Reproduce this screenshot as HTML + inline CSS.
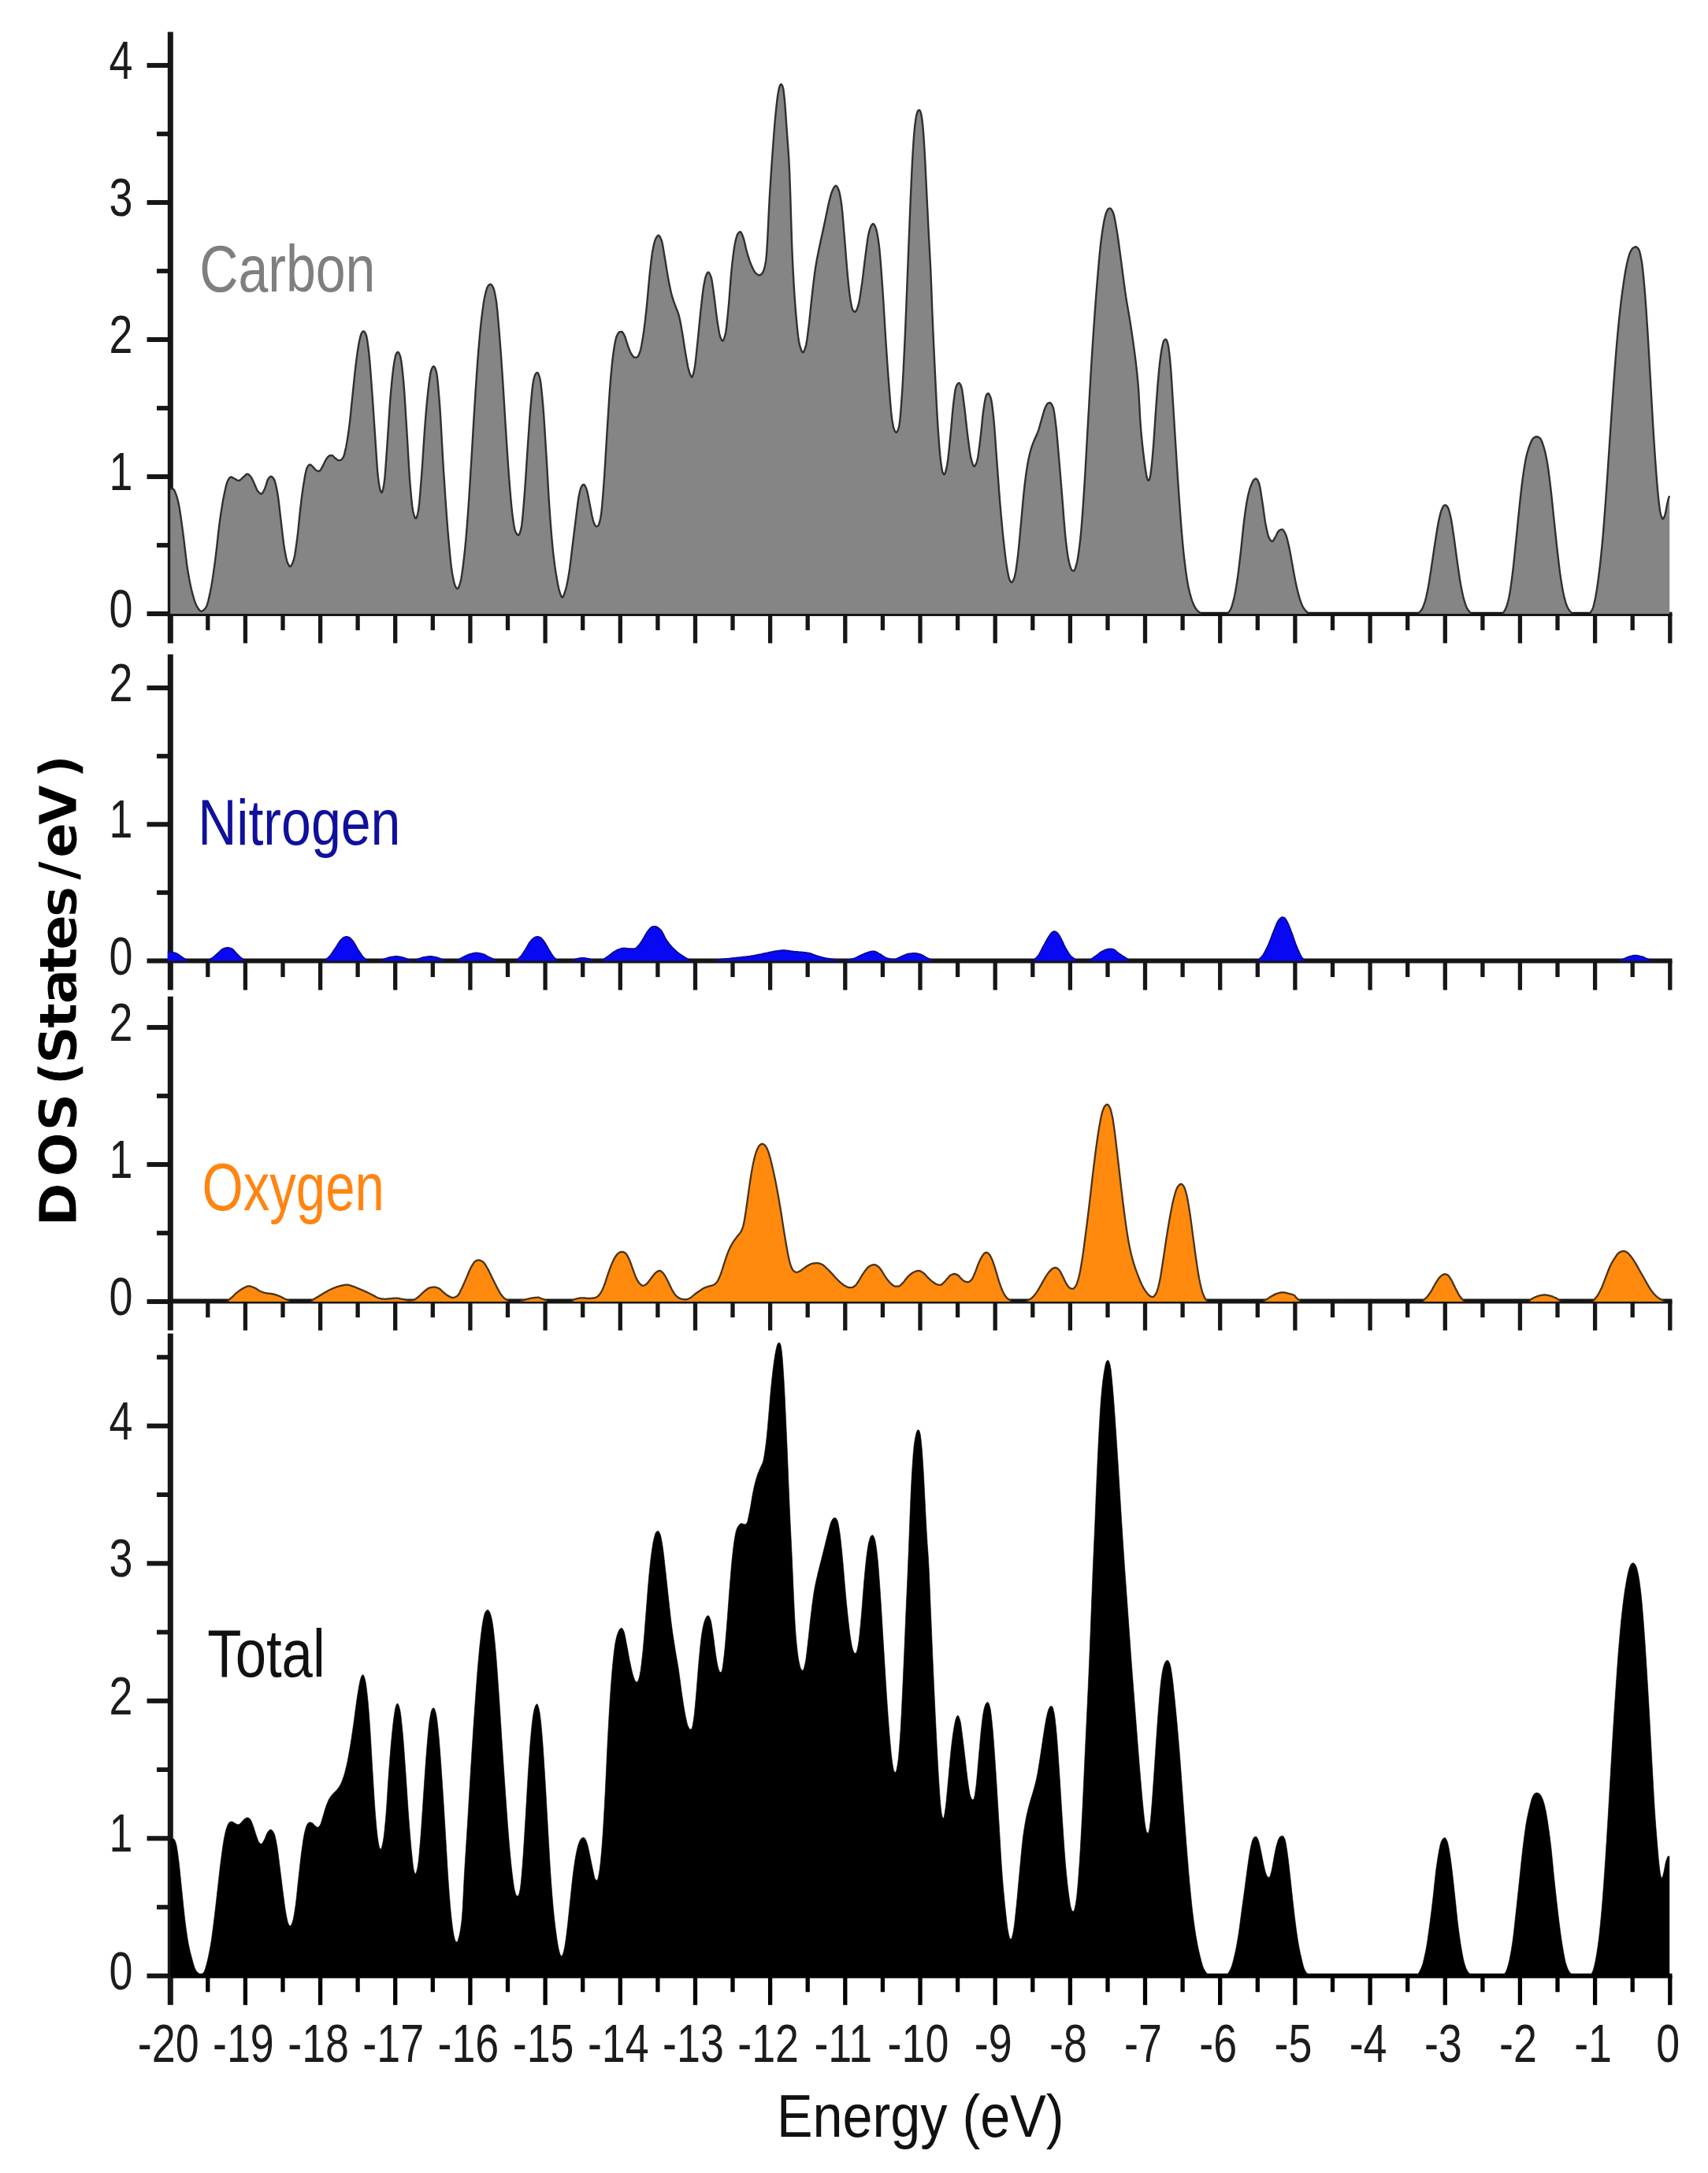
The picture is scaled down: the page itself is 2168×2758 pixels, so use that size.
<!DOCTYPE html>
<html><head><meta charset="utf-8"><title>DOS</title>
<style>html,body{margin:0;padding:0;background:#fff;width:2168px;height:2758px;overflow:hidden}svg{display:block}</style></head>
<body>
<svg width="2168" height="2758" viewBox="0 0 2168 2758">
<rect width="2168" height="2758" fill="#ffffff"/>
<line x1="216.3" y1="40.6" x2="216.3" y2="816.4" stroke="#161616" stroke-width="7.0"/>
<line x1="216.3" y1="779.4" x2="2122.5" y2="779.4" stroke="#161616" stroke-width="5.4"/>
<line x1="263.8" y1="779.4" x2="263.8" y2="799.9" stroke="#161616" stroke-width="5.3"/>
<line x1="311.4" y1="779.4" x2="311.4" y2="816.4" stroke="#161616" stroke-width="5.3"/>
<line x1="359.0" y1="779.4" x2="359.0" y2="799.9" stroke="#161616" stroke-width="5.3"/>
<line x1="406.6" y1="779.4" x2="406.6" y2="816.4" stroke="#161616" stroke-width="5.3"/>
<line x1="454.1" y1="779.4" x2="454.1" y2="799.9" stroke="#161616" stroke-width="5.3"/>
<line x1="501.7" y1="779.4" x2="501.7" y2="816.4" stroke="#161616" stroke-width="5.3"/>
<line x1="549.3" y1="779.4" x2="549.3" y2="799.9" stroke="#161616" stroke-width="5.3"/>
<line x1="596.9" y1="779.4" x2="596.9" y2="816.4" stroke="#161616" stroke-width="5.3"/>
<line x1="644.5" y1="779.4" x2="644.5" y2="799.9" stroke="#161616" stroke-width="5.3"/>
<line x1="692.1" y1="779.4" x2="692.1" y2="816.4" stroke="#161616" stroke-width="5.3"/>
<line x1="739.7" y1="779.4" x2="739.7" y2="799.9" stroke="#161616" stroke-width="5.3"/>
<line x1="787.3" y1="779.4" x2="787.3" y2="816.4" stroke="#161616" stroke-width="5.3"/>
<line x1="834.9" y1="779.4" x2="834.9" y2="799.9" stroke="#161616" stroke-width="5.3"/>
<line x1="882.5" y1="779.4" x2="882.5" y2="816.4" stroke="#161616" stroke-width="5.3"/>
<line x1="930.0" y1="779.4" x2="930.0" y2="799.9" stroke="#161616" stroke-width="5.3"/>
<line x1="977.6" y1="779.4" x2="977.6" y2="816.4" stroke="#161616" stroke-width="5.3"/>
<line x1="1025.2" y1="779.4" x2="1025.2" y2="799.9" stroke="#161616" stroke-width="5.3"/>
<line x1="1072.8" y1="779.4" x2="1072.8" y2="816.4" stroke="#161616" stroke-width="5.3"/>
<line x1="1120.4" y1="779.4" x2="1120.4" y2="799.9" stroke="#161616" stroke-width="5.3"/>
<line x1="1168.0" y1="779.4" x2="1168.0" y2="816.4" stroke="#161616" stroke-width="5.3"/>
<line x1="1215.6" y1="779.4" x2="1215.6" y2="799.9" stroke="#161616" stroke-width="5.3"/>
<line x1="1263.2" y1="779.4" x2="1263.2" y2="816.4" stroke="#161616" stroke-width="5.3"/>
<line x1="1310.8" y1="779.4" x2="1310.8" y2="799.9" stroke="#161616" stroke-width="5.3"/>
<line x1="1358.4" y1="779.4" x2="1358.4" y2="816.4" stroke="#161616" stroke-width="5.3"/>
<line x1="1406.0" y1="779.4" x2="1406.0" y2="799.9" stroke="#161616" stroke-width="5.3"/>
<line x1="1453.5" y1="779.4" x2="1453.5" y2="816.4" stroke="#161616" stroke-width="5.3"/>
<line x1="1501.1" y1="779.4" x2="1501.1" y2="799.9" stroke="#161616" stroke-width="5.3"/>
<line x1="1548.7" y1="779.4" x2="1548.7" y2="816.4" stroke="#161616" stroke-width="5.3"/>
<line x1="1596.3" y1="779.4" x2="1596.3" y2="799.9" stroke="#161616" stroke-width="5.3"/>
<line x1="1643.9" y1="779.4" x2="1643.9" y2="816.4" stroke="#161616" stroke-width="5.3"/>
<line x1="1691.5" y1="779.4" x2="1691.5" y2="799.9" stroke="#161616" stroke-width="5.3"/>
<line x1="1739.1" y1="779.4" x2="1739.1" y2="816.4" stroke="#161616" stroke-width="5.3"/>
<line x1="1786.7" y1="779.4" x2="1786.7" y2="799.9" stroke="#161616" stroke-width="5.3"/>
<line x1="1834.3" y1="779.4" x2="1834.3" y2="816.4" stroke="#161616" stroke-width="5.3"/>
<line x1="1881.9" y1="779.4" x2="1881.9" y2="799.9" stroke="#161616" stroke-width="5.3"/>
<line x1="1929.4" y1="779.4" x2="1929.4" y2="816.4" stroke="#161616" stroke-width="5.3"/>
<line x1="1977.0" y1="779.4" x2="1977.0" y2="799.9" stroke="#161616" stroke-width="5.3"/>
<line x1="2024.6" y1="779.4" x2="2024.6" y2="816.4" stroke="#161616" stroke-width="5.3"/>
<line x1="2072.2" y1="779.4" x2="2072.2" y2="799.9" stroke="#161616" stroke-width="5.3"/>
<line x1="2119.8" y1="779.4" x2="2119.8" y2="816.4" stroke="#161616" stroke-width="5.3"/>
<line x1="186.5" y1="779.0" x2="216.3" y2="779.0" stroke="#161616" stroke-width="6.1"/>
<line x1="199.0" y1="692.0" x2="216.3" y2="692.0" stroke="#161616" stroke-width="5.8"/>
<line x1="186.5" y1="605.0" x2="216.3" y2="605.0" stroke="#161616" stroke-width="6.1"/>
<line x1="199.0" y1="518.0" x2="216.3" y2="518.0" stroke="#161616" stroke-width="5.8"/>
<line x1="186.5" y1="431.0" x2="216.3" y2="431.0" stroke="#161616" stroke-width="6.1"/>
<line x1="199.0" y1="344.0" x2="216.3" y2="344.0" stroke="#161616" stroke-width="5.8"/>
<line x1="186.5" y1="257.0" x2="216.3" y2="257.0" stroke="#161616" stroke-width="6.1"/>
<line x1="199.0" y1="170.0" x2="216.3" y2="170.0" stroke="#161616" stroke-width="5.8"/>
<line x1="186.5" y1="83.0" x2="216.3" y2="83.0" stroke="#161616" stroke-width="6.1"/>
<line x1="216.3" y1="830.4" x2="216.3" y2="1256.6" stroke="#161616" stroke-width="7.0"/>
<line x1="216.3" y1="1219.6" x2="2122.5" y2="1219.6" stroke="#161616" stroke-width="6.0"/>
<line x1="263.8" y1="1219.6" x2="263.8" y2="1240.1" stroke="#161616" stroke-width="5.3"/>
<line x1="311.4" y1="1219.6" x2="311.4" y2="1256.6" stroke="#161616" stroke-width="5.3"/>
<line x1="359.0" y1="1219.6" x2="359.0" y2="1240.1" stroke="#161616" stroke-width="5.3"/>
<line x1="406.6" y1="1219.6" x2="406.6" y2="1256.6" stroke="#161616" stroke-width="5.3"/>
<line x1="454.1" y1="1219.6" x2="454.1" y2="1240.1" stroke="#161616" stroke-width="5.3"/>
<line x1="501.7" y1="1219.6" x2="501.7" y2="1256.6" stroke="#161616" stroke-width="5.3"/>
<line x1="549.3" y1="1219.6" x2="549.3" y2="1240.1" stroke="#161616" stroke-width="5.3"/>
<line x1="596.9" y1="1219.6" x2="596.9" y2="1256.6" stroke="#161616" stroke-width="5.3"/>
<line x1="644.5" y1="1219.6" x2="644.5" y2="1240.1" stroke="#161616" stroke-width="5.3"/>
<line x1="692.1" y1="1219.6" x2="692.1" y2="1256.6" stroke="#161616" stroke-width="5.3"/>
<line x1="739.7" y1="1219.6" x2="739.7" y2="1240.1" stroke="#161616" stroke-width="5.3"/>
<line x1="787.3" y1="1219.6" x2="787.3" y2="1256.6" stroke="#161616" stroke-width="5.3"/>
<line x1="834.9" y1="1219.6" x2="834.9" y2="1240.1" stroke="#161616" stroke-width="5.3"/>
<line x1="882.5" y1="1219.6" x2="882.5" y2="1256.6" stroke="#161616" stroke-width="5.3"/>
<line x1="930.0" y1="1219.6" x2="930.0" y2="1240.1" stroke="#161616" stroke-width="5.3"/>
<line x1="977.6" y1="1219.6" x2="977.6" y2="1256.6" stroke="#161616" stroke-width="5.3"/>
<line x1="1025.2" y1="1219.6" x2="1025.2" y2="1240.1" stroke="#161616" stroke-width="5.3"/>
<line x1="1072.8" y1="1219.6" x2="1072.8" y2="1256.6" stroke="#161616" stroke-width="5.3"/>
<line x1="1120.4" y1="1219.6" x2="1120.4" y2="1240.1" stroke="#161616" stroke-width="5.3"/>
<line x1="1168.0" y1="1219.6" x2="1168.0" y2="1256.6" stroke="#161616" stroke-width="5.3"/>
<line x1="1215.6" y1="1219.6" x2="1215.6" y2="1240.1" stroke="#161616" stroke-width="5.3"/>
<line x1="1263.2" y1="1219.6" x2="1263.2" y2="1256.6" stroke="#161616" stroke-width="5.3"/>
<line x1="1310.8" y1="1219.6" x2="1310.8" y2="1240.1" stroke="#161616" stroke-width="5.3"/>
<line x1="1358.4" y1="1219.6" x2="1358.4" y2="1256.6" stroke="#161616" stroke-width="5.3"/>
<line x1="1406.0" y1="1219.6" x2="1406.0" y2="1240.1" stroke="#161616" stroke-width="5.3"/>
<line x1="1453.5" y1="1219.6" x2="1453.5" y2="1256.6" stroke="#161616" stroke-width="5.3"/>
<line x1="1501.1" y1="1219.6" x2="1501.1" y2="1240.1" stroke="#161616" stroke-width="5.3"/>
<line x1="1548.7" y1="1219.6" x2="1548.7" y2="1256.6" stroke="#161616" stroke-width="5.3"/>
<line x1="1596.3" y1="1219.6" x2="1596.3" y2="1240.1" stroke="#161616" stroke-width="5.3"/>
<line x1="1643.9" y1="1219.6" x2="1643.9" y2="1256.6" stroke="#161616" stroke-width="5.3"/>
<line x1="1691.5" y1="1219.6" x2="1691.5" y2="1240.1" stroke="#161616" stroke-width="5.3"/>
<line x1="1739.1" y1="1219.6" x2="1739.1" y2="1256.6" stroke="#161616" stroke-width="5.3"/>
<line x1="1786.7" y1="1219.6" x2="1786.7" y2="1240.1" stroke="#161616" stroke-width="5.3"/>
<line x1="1834.3" y1="1219.6" x2="1834.3" y2="1256.6" stroke="#161616" stroke-width="5.3"/>
<line x1="1881.9" y1="1219.6" x2="1881.9" y2="1240.1" stroke="#161616" stroke-width="5.3"/>
<line x1="1929.4" y1="1219.6" x2="1929.4" y2="1256.6" stroke="#161616" stroke-width="5.3"/>
<line x1="1977.0" y1="1219.6" x2="1977.0" y2="1240.1" stroke="#161616" stroke-width="5.3"/>
<line x1="2024.6" y1="1219.6" x2="2024.6" y2="1256.6" stroke="#161616" stroke-width="5.3"/>
<line x1="2072.2" y1="1219.6" x2="2072.2" y2="1240.1" stroke="#161616" stroke-width="5.3"/>
<line x1="2119.8" y1="1219.6" x2="2119.8" y2="1256.6" stroke="#161616" stroke-width="5.3"/>
<line x1="186.5" y1="1219.5" x2="216.3" y2="1219.5" stroke="#161616" stroke-width="6.1"/>
<line x1="199.0" y1="1132.9" x2="216.3" y2="1132.9" stroke="#161616" stroke-width="5.8"/>
<line x1="186.5" y1="1046.3" x2="216.3" y2="1046.3" stroke="#161616" stroke-width="6.1"/>
<line x1="199.0" y1="959.7" x2="216.3" y2="959.7" stroke="#161616" stroke-width="5.8"/>
<line x1="186.5" y1="873.1" x2="216.3" y2="873.1" stroke="#161616" stroke-width="6.1"/>
<line x1="216.3" y1="1264.7" x2="216.3" y2="1688.6" stroke="#161616" stroke-width="7.0"/>
<line x1="216.3" y1="1651.6" x2="2122.5" y2="1651.6" stroke="#161616" stroke-width="6.0"/>
<line x1="263.8" y1="1651.6" x2="263.8" y2="1672.1" stroke="#161616" stroke-width="5.3"/>
<line x1="311.4" y1="1651.6" x2="311.4" y2="1688.6" stroke="#161616" stroke-width="5.3"/>
<line x1="359.0" y1="1651.6" x2="359.0" y2="1672.1" stroke="#161616" stroke-width="5.3"/>
<line x1="406.6" y1="1651.6" x2="406.6" y2="1688.6" stroke="#161616" stroke-width="5.3"/>
<line x1="454.1" y1="1651.6" x2="454.1" y2="1672.1" stroke="#161616" stroke-width="5.3"/>
<line x1="501.7" y1="1651.6" x2="501.7" y2="1688.6" stroke="#161616" stroke-width="5.3"/>
<line x1="549.3" y1="1651.6" x2="549.3" y2="1672.1" stroke="#161616" stroke-width="5.3"/>
<line x1="596.9" y1="1651.6" x2="596.9" y2="1688.6" stroke="#161616" stroke-width="5.3"/>
<line x1="644.5" y1="1651.6" x2="644.5" y2="1672.1" stroke="#161616" stroke-width="5.3"/>
<line x1="692.1" y1="1651.6" x2="692.1" y2="1688.6" stroke="#161616" stroke-width="5.3"/>
<line x1="739.7" y1="1651.6" x2="739.7" y2="1672.1" stroke="#161616" stroke-width="5.3"/>
<line x1="787.3" y1="1651.6" x2="787.3" y2="1688.6" stroke="#161616" stroke-width="5.3"/>
<line x1="834.9" y1="1651.6" x2="834.9" y2="1672.1" stroke="#161616" stroke-width="5.3"/>
<line x1="882.5" y1="1651.6" x2="882.5" y2="1688.6" stroke="#161616" stroke-width="5.3"/>
<line x1="930.0" y1="1651.6" x2="930.0" y2="1672.1" stroke="#161616" stroke-width="5.3"/>
<line x1="977.6" y1="1651.6" x2="977.6" y2="1688.6" stroke="#161616" stroke-width="5.3"/>
<line x1="1025.2" y1="1651.6" x2="1025.2" y2="1672.1" stroke="#161616" stroke-width="5.3"/>
<line x1="1072.8" y1="1651.6" x2="1072.8" y2="1688.6" stroke="#161616" stroke-width="5.3"/>
<line x1="1120.4" y1="1651.6" x2="1120.4" y2="1672.1" stroke="#161616" stroke-width="5.3"/>
<line x1="1168.0" y1="1651.6" x2="1168.0" y2="1688.6" stroke="#161616" stroke-width="5.3"/>
<line x1="1215.6" y1="1651.6" x2="1215.6" y2="1672.1" stroke="#161616" stroke-width="5.3"/>
<line x1="1263.2" y1="1651.6" x2="1263.2" y2="1688.6" stroke="#161616" stroke-width="5.3"/>
<line x1="1310.8" y1="1651.6" x2="1310.8" y2="1672.1" stroke="#161616" stroke-width="5.3"/>
<line x1="1358.4" y1="1651.6" x2="1358.4" y2="1688.6" stroke="#161616" stroke-width="5.3"/>
<line x1="1406.0" y1="1651.6" x2="1406.0" y2="1672.1" stroke="#161616" stroke-width="5.3"/>
<line x1="1453.5" y1="1651.6" x2="1453.5" y2="1688.6" stroke="#161616" stroke-width="5.3"/>
<line x1="1501.1" y1="1651.6" x2="1501.1" y2="1672.1" stroke="#161616" stroke-width="5.3"/>
<line x1="1548.7" y1="1651.6" x2="1548.7" y2="1688.6" stroke="#161616" stroke-width="5.3"/>
<line x1="1596.3" y1="1651.6" x2="1596.3" y2="1672.1" stroke="#161616" stroke-width="5.3"/>
<line x1="1643.9" y1="1651.6" x2="1643.9" y2="1688.6" stroke="#161616" stroke-width="5.3"/>
<line x1="1691.5" y1="1651.6" x2="1691.5" y2="1672.1" stroke="#161616" stroke-width="5.3"/>
<line x1="1739.1" y1="1651.6" x2="1739.1" y2="1688.6" stroke="#161616" stroke-width="5.3"/>
<line x1="1786.7" y1="1651.6" x2="1786.7" y2="1672.1" stroke="#161616" stroke-width="5.3"/>
<line x1="1834.3" y1="1651.6" x2="1834.3" y2="1688.6" stroke="#161616" stroke-width="5.3"/>
<line x1="1881.9" y1="1651.6" x2="1881.9" y2="1672.1" stroke="#161616" stroke-width="5.3"/>
<line x1="1929.4" y1="1651.6" x2="1929.4" y2="1688.6" stroke="#161616" stroke-width="5.3"/>
<line x1="1977.0" y1="1651.6" x2="1977.0" y2="1672.1" stroke="#161616" stroke-width="5.3"/>
<line x1="2024.6" y1="1651.6" x2="2024.6" y2="1688.6" stroke="#161616" stroke-width="5.3"/>
<line x1="2072.2" y1="1651.6" x2="2072.2" y2="1672.1" stroke="#161616" stroke-width="5.3"/>
<line x1="2119.8" y1="1651.6" x2="2119.8" y2="1688.6" stroke="#161616" stroke-width="5.3"/>
<line x1="186.5" y1="1652.0" x2="216.3" y2="1652.0" stroke="#161616" stroke-width="6.1"/>
<line x1="199.0" y1="1565.0" x2="216.3" y2="1565.0" stroke="#161616" stroke-width="5.8"/>
<line x1="186.5" y1="1478.0" x2="216.3" y2="1478.0" stroke="#161616" stroke-width="6.1"/>
<line x1="199.0" y1="1391.0" x2="216.3" y2="1391.0" stroke="#161616" stroke-width="5.8"/>
<line x1="186.5" y1="1304.0" x2="216.3" y2="1304.0" stroke="#161616" stroke-width="6.1"/>
<line x1="216.3" y1="1692.5" x2="216.3" y2="2544.8" stroke="#161616" stroke-width="7.0"/>
<line x1="216.3" y1="2507.8" x2="2122.5" y2="2507.8" stroke="#000" stroke-width="6.0"/>
<line x1="263.8" y1="2507.8" x2="263.8" y2="2528.3" stroke="#000" stroke-width="5.3"/>
<line x1="311.4" y1="2507.8" x2="311.4" y2="2544.8" stroke="#000" stroke-width="5.3"/>
<line x1="359.0" y1="2507.8" x2="359.0" y2="2528.3" stroke="#000" stroke-width="5.3"/>
<line x1="406.6" y1="2507.8" x2="406.6" y2="2544.8" stroke="#000" stroke-width="5.3"/>
<line x1="454.1" y1="2507.8" x2="454.1" y2="2528.3" stroke="#000" stroke-width="5.3"/>
<line x1="501.7" y1="2507.8" x2="501.7" y2="2544.8" stroke="#000" stroke-width="5.3"/>
<line x1="549.3" y1="2507.8" x2="549.3" y2="2528.3" stroke="#000" stroke-width="5.3"/>
<line x1="596.9" y1="2507.8" x2="596.9" y2="2544.8" stroke="#000" stroke-width="5.3"/>
<line x1="644.5" y1="2507.8" x2="644.5" y2="2528.3" stroke="#000" stroke-width="5.3"/>
<line x1="692.1" y1="2507.8" x2="692.1" y2="2544.8" stroke="#000" stroke-width="5.3"/>
<line x1="739.7" y1="2507.8" x2="739.7" y2="2528.3" stroke="#000" stroke-width="5.3"/>
<line x1="787.3" y1="2507.8" x2="787.3" y2="2544.8" stroke="#000" stroke-width="5.3"/>
<line x1="834.9" y1="2507.8" x2="834.9" y2="2528.3" stroke="#000" stroke-width="5.3"/>
<line x1="882.5" y1="2507.8" x2="882.5" y2="2544.8" stroke="#000" stroke-width="5.3"/>
<line x1="930.0" y1="2507.8" x2="930.0" y2="2528.3" stroke="#000" stroke-width="5.3"/>
<line x1="977.6" y1="2507.8" x2="977.6" y2="2544.8" stroke="#000" stroke-width="5.3"/>
<line x1="1025.2" y1="2507.8" x2="1025.2" y2="2528.3" stroke="#000" stroke-width="5.3"/>
<line x1="1072.8" y1="2507.8" x2="1072.8" y2="2544.8" stroke="#000" stroke-width="5.3"/>
<line x1="1120.4" y1="2507.8" x2="1120.4" y2="2528.3" stroke="#000" stroke-width="5.3"/>
<line x1="1168.0" y1="2507.8" x2="1168.0" y2="2544.8" stroke="#000" stroke-width="5.3"/>
<line x1="1215.6" y1="2507.8" x2="1215.6" y2="2528.3" stroke="#000" stroke-width="5.3"/>
<line x1="1263.2" y1="2507.8" x2="1263.2" y2="2544.8" stroke="#000" stroke-width="5.3"/>
<line x1="1310.8" y1="2507.8" x2="1310.8" y2="2528.3" stroke="#000" stroke-width="5.3"/>
<line x1="1358.4" y1="2507.8" x2="1358.4" y2="2544.8" stroke="#000" stroke-width="5.3"/>
<line x1="1406.0" y1="2507.8" x2="1406.0" y2="2528.3" stroke="#000" stroke-width="5.3"/>
<line x1="1453.5" y1="2507.8" x2="1453.5" y2="2544.8" stroke="#000" stroke-width="5.3"/>
<line x1="1501.1" y1="2507.8" x2="1501.1" y2="2528.3" stroke="#000" stroke-width="5.3"/>
<line x1="1548.7" y1="2507.8" x2="1548.7" y2="2544.8" stroke="#000" stroke-width="5.3"/>
<line x1="1596.3" y1="2507.8" x2="1596.3" y2="2528.3" stroke="#000" stroke-width="5.3"/>
<line x1="1643.9" y1="2507.8" x2="1643.9" y2="2544.8" stroke="#000" stroke-width="5.3"/>
<line x1="1691.5" y1="2507.8" x2="1691.5" y2="2528.3" stroke="#000" stroke-width="5.3"/>
<line x1="1739.1" y1="2507.8" x2="1739.1" y2="2544.8" stroke="#000" stroke-width="5.3"/>
<line x1="1786.7" y1="2507.8" x2="1786.7" y2="2528.3" stroke="#000" stroke-width="5.3"/>
<line x1="1834.3" y1="2507.8" x2="1834.3" y2="2544.8" stroke="#000" stroke-width="5.3"/>
<line x1="1881.9" y1="2507.8" x2="1881.9" y2="2528.3" stroke="#000" stroke-width="5.3"/>
<line x1="1929.4" y1="2507.8" x2="1929.4" y2="2544.8" stroke="#000" stroke-width="5.3"/>
<line x1="1977.0" y1="2507.8" x2="1977.0" y2="2528.3" stroke="#000" stroke-width="5.3"/>
<line x1="2024.6" y1="2507.8" x2="2024.6" y2="2544.8" stroke="#000" stroke-width="5.3"/>
<line x1="2072.2" y1="2507.8" x2="2072.2" y2="2528.3" stroke="#000" stroke-width="5.3"/>
<line x1="2119.8" y1="2507.8" x2="2119.8" y2="2544.8" stroke="#000" stroke-width="5.3"/>
<line x1="186.5" y1="2507.8" x2="216.3" y2="2507.8" stroke="#161616" stroke-width="6.1"/>
<line x1="199.0" y1="2420.6" x2="216.3" y2="2420.6" stroke="#161616" stroke-width="5.8"/>
<line x1="186.5" y1="2333.3" x2="216.3" y2="2333.3" stroke="#161616" stroke-width="6.1"/>
<line x1="199.0" y1="2246.1" x2="216.3" y2="2246.1" stroke="#161616" stroke-width="5.8"/>
<line x1="186.5" y1="2158.8" x2="216.3" y2="2158.8" stroke="#161616" stroke-width="6.1"/>
<line x1="199.0" y1="2071.6" x2="216.3" y2="2071.6" stroke="#161616" stroke-width="5.8"/>
<line x1="186.5" y1="1984.3" x2="216.3" y2="1984.3" stroke="#161616" stroke-width="6.1"/>
<line x1="199.0" y1="1897.1" x2="216.3" y2="1897.1" stroke="#161616" stroke-width="5.8"/>
<line x1="186.5" y1="1809.8" x2="216.3" y2="1809.8" stroke="#161616" stroke-width="6.1"/>
<line x1="199.0" y1="1722.6" x2="216.3" y2="1722.6" stroke="#161616" stroke-width="5.8"/>
<path d="M216.2,779.0L216.2,620.6L217.2,620.6L218.2,620.6L219.2,620.6L220.2,620.7L221.2,622.1L222.2,624.4L223.2,626.8L224.2,629.6L225.2,633.0L226.2,637.0L227.2,641.7L228.2,647.5L229.2,654.0L230.2,661.1L231.2,668.4L232.2,675.7L233.2,683.3L234.2,691.8L235.2,700.4L236.2,708.9L237.2,716.7L238.2,723.4L239.2,729.3L240.2,734.8L241.2,740.0L242.2,744.7L243.2,749.0L244.2,752.9L245.2,756.5L246.2,760.0L247.2,763.2L248.2,766.0L249.2,768.3L250.2,770.0L251.2,771.6L252.2,773.1L253.2,774.3L254.2,775.3L255.2,775.7L256.2,775.7L257.2,775.3L258.2,774.6L259.2,773.7L260.2,772.5L261.2,771.2L262.2,769.5L263.2,766.7L264.2,763.1L265.2,758.9L266.2,754.2L267.2,749.5L268.2,744.4L269.2,738.6L270.2,732.1L271.2,725.2L272.2,718.0L273.2,710.7L274.2,702.7L275.2,694.0L276.2,684.9L277.2,675.9L278.2,667.4L279.2,659.9L280.2,653.0L281.2,646.4L282.2,640.2L283.2,634.4L284.2,629.2L285.2,624.5L286.2,620.1L287.2,615.9L288.2,612.4L289.2,610.0L290.2,608.2L291.2,606.8L292.2,605.7L293.2,605.4L294.2,605.6L295.2,606.1L296.2,606.7L297.2,607.3L298.2,607.8L299.2,608.4L300.2,609.0L301.2,609.6L302.2,610.0L303.2,610.1L304.2,609.7L305.2,609.0L306.2,608.0L307.2,607.0L308.2,606.1L309.2,605.2L310.2,604.3L311.2,603.3L312.2,602.4L313.2,601.8L314.2,601.6L315.2,601.9L316.2,602.7L317.2,603.8L318.2,605.0L319.2,606.3L320.2,608.2L321.2,610.3L322.2,612.6L323.2,614.7L324.2,617.1L325.2,619.5L326.2,621.8L327.2,623.4L328.2,624.5L329.2,625.5L330.2,626.3L331.2,626.7L332.2,626.7L333.2,625.7L334.2,624.0L335.2,622.0L336.2,619.9L337.2,617.2L338.2,613.9L339.2,610.7L340.2,608.2L341.2,606.9L342.2,605.8L343.2,605.0L344.2,604.8L345.2,605.2L346.2,606.2L347.2,607.4L348.2,609.0L349.2,611.8L350.2,615.7L351.2,620.5L352.2,625.8L353.2,632.1L354.2,640.1L355.2,648.9L356.2,657.6L357.2,665.9L358.2,674.6L359.2,683.2L360.2,691.0L361.2,697.2L362.2,702.7L363.2,707.7L364.2,711.8L365.2,714.8L366.2,716.7L367.2,718.3L368.2,719.0L369.2,718.5L370.2,717.1L371.2,714.9L372.2,712.3L373.2,709.2L374.2,704.4L375.2,698.2L376.2,691.1L377.2,683.8L378.2,675.3L379.2,665.5L380.2,655.4L381.2,646.0L382.2,637.7L383.2,629.7L384.2,622.2L385.2,615.4L386.2,609.5L387.2,603.8L388.2,598.7L389.2,594.9L390.2,592.8L391.2,591.2L392.2,590.0L393.2,589.6L394.2,589.9L395.2,590.7L396.2,591.7L397.2,592.7L398.2,593.7L399.2,594.7L400.2,595.8L401.2,596.7L402.2,597.3L403.2,597.7L404.2,598.0L405.2,598.0L406.2,597.3L407.2,595.9L408.2,594.2L409.2,592.4L410.2,590.6L411.2,588.4L412.2,586.2L413.2,584.3L414.2,582.7L415.2,581.3L416.2,580.0L417.2,579.0L418.2,578.4L419.2,578.2L420.2,578.0L421.2,577.9L422.2,578.3L423.2,579.2L424.2,580.3L425.2,581.2L426.2,582.0L427.2,582.9L428.2,583.7L429.2,584.2L430.2,584.3L431.2,584.2L432.2,583.9L433.2,583.5L434.2,582.6L435.2,581.3L436.2,579.4L437.2,576.1L438.2,571.9L439.2,567.4L440.2,562.1L441.2,556.1L442.2,549.5L443.2,542.2L444.2,533.8L445.2,524.3L446.2,514.3L447.2,504.5L448.2,495.0L449.2,485.1L450.2,475.5L451.2,466.5L452.2,458.5L453.2,450.9L454.2,443.8L455.2,437.6L456.2,432.5L457.2,428.1L458.2,424.4L459.2,422.3L460.2,421.1L461.2,420.4L462.2,420.7L463.2,421.9L464.2,423.6L465.2,426.7L466.2,432.2L467.2,439.3L468.2,447.2L469.2,457.4L470.2,469.7L471.2,483.0L472.2,496.5L473.2,510.3L474.2,525.0L475.2,540.2L476.2,555.1L477.2,569.9L478.2,585.4L479.2,598.8L480.2,607.9L481.2,615.3L482.2,620.5L483.2,623.4L484.2,625.2L485.2,624.5L486.2,621.0L487.2,615.7L488.2,608.5L489.2,596.8L490.2,582.6L491.2,568.4L492.2,554.1L493.2,538.4L494.2,522.8L495.2,508.6L496.2,496.9L497.2,486.1L498.2,476.3L499.2,467.8L500.2,461.1L501.2,455.4L502.2,450.9L503.2,448.5L504.2,447.2L505.2,446.8L506.2,447.7L507.2,449.8L508.2,452.5L509.2,457.5L510.2,465.0L511.2,474.1L512.2,484.1L513.2,497.1L514.2,512.4L515.2,528.7L516.2,544.6L517.2,561.0L518.2,578.4L519.2,595.2L520.2,609.9L521.2,621.8L522.2,632.8L523.2,642.2L524.2,648.7L525.2,652.5L526.2,655.7L527.2,657.7L528.2,657.9L529.2,655.8L530.2,652.0L531.2,647.1L532.2,638.9L533.2,627.7L534.2,615.1L535.2,602.3L536.2,588.6L537.2,573.2L538.2,557.5L539.2,543.0L540.2,530.5L541.2,518.6L542.2,507.6L543.2,497.8L544.2,489.4L545.2,481.7L546.2,474.8L547.2,470.1L548.2,467.7L549.2,465.8L550.2,464.9L551.2,465.3L552.2,467.0L553.2,469.5L554.2,473.2L555.2,480.6L556.2,490.9L557.2,502.5L558.2,514.8L559.2,530.0L560.2,547.5L561.2,565.8L562.2,583.7L563.2,599.7L564.2,614.9L565.2,629.9L566.2,644.5L567.2,658.2L568.2,671.0L569.2,682.5L570.2,693.6L571.2,704.3L572.2,714.0L573.2,722.3L574.2,728.8L575.2,734.1L576.2,738.5L577.2,741.9L578.2,744.2L579.2,746.2L580.2,747.3L581.2,747.0L582.2,745.3L583.2,742.7L584.2,739.7L585.2,735.4L586.2,729.5L587.2,722.5L588.2,714.5L589.2,706.2L590.2,697.0L591.2,686.3L592.2,674.5L593.2,661.8L594.2,648.6L595.2,634.0L596.2,618.4L597.2,602.3L598.2,586.2L599.2,569.6L600.2,552.6L601.2,535.6L602.2,519.2L603.2,503.5L604.2,488.0L605.2,473.1L606.2,459.1L607.2,446.4L608.2,434.6L609.2,423.4L610.2,413.2L611.2,404.3L612.2,396.3L613.2,388.8L614.2,382.1L615.2,376.7L616.2,372.4L617.2,368.6L618.2,365.5L619.2,363.4L620.2,362.1L621.2,361.2L622.2,360.7L623.2,361.0L624.2,362.0L625.2,363.4L626.2,365.2L627.2,368.2L628.2,372.6L629.2,377.9L630.2,384.3L631.2,393.4L632.2,404.4L633.2,415.9L634.2,427.9L635.2,440.9L636.2,454.6L637.2,468.9L638.2,483.7L639.2,499.6L640.2,516.1L641.2,532.5L642.2,548.1L643.2,563.6L644.2,578.9L645.2,593.6L646.2,607.0L647.2,619.3L648.2,631.3L649.2,642.2L650.2,651.5L651.2,659.0L652.2,665.7L653.2,671.3L654.2,674.7L655.2,676.5L656.2,678.0L657.2,678.9L658.2,679.2L659.2,678.1L660.2,675.5L661.2,671.9L662.2,667.0L663.2,658.2L664.2,646.8L665.2,634.6L666.2,621.9L667.2,607.4L668.2,591.9L669.2,576.4L670.2,561.9L671.2,547.1L672.2,532.7L673.2,519.7L674.2,508.4L675.2,497.7L676.2,488.6L677.2,482.6L678.2,478.7L679.2,475.7L680.2,474.1L681.2,473.2L682.2,472.9L683.2,474.0L684.2,476.5L685.2,479.8L686.2,484.9L687.2,493.1L688.2,503.1L689.2,513.8L690.2,526.9L691.2,541.9L692.2,557.9L693.2,573.9L694.2,590.4L695.2,607.9L696.2,625.3L697.2,641.4L698.2,655.5L699.2,668.7L700.2,681.0L701.2,692.1L702.2,701.7L703.2,710.2L704.2,717.9L705.2,724.8L706.2,730.9L707.2,736.6L708.2,742.0L709.2,746.8L710.2,750.7L711.2,753.6L712.2,756.3L713.2,758.0L714.2,758.0L715.2,756.5L716.2,754.0L717.2,750.9L718.2,747.6L719.2,743.8L720.2,739.1L721.2,733.6L722.2,727.7L723.2,721.2L724.2,713.4L725.2,704.9L726.2,696.4L727.2,688.2L728.2,680.2L729.2,672.1L730.2,664.1L731.2,656.2L732.2,648.1L733.2,639.8L734.2,632.6L735.2,627.4L736.2,623.0L737.2,619.5L738.2,617.4L739.2,616.0L740.2,615.1L741.2,614.9L742.2,615.9L743.2,617.8L744.2,620.1L745.2,623.1L746.2,627.5L747.2,632.8L748.2,638.1L749.2,643.0L750.2,648.2L751.2,653.5L752.2,658.2L753.2,661.6L754.2,664.2L755.2,666.5L756.2,667.9L757.2,668.1L758.2,667.8L759.2,667.4L760.2,665.7L761.2,662.2L762.2,657.7L763.2,651.8L764.2,642.2L765.2,630.1L766.2,617.2L767.2,603.4L768.2,587.4L769.2,570.4L770.2,553.6L771.2,537.9L772.2,522.2L773.2,506.6L774.2,492.2L775.2,479.8L776.2,468.9L777.2,459.1L778.2,450.5L779.2,443.5L780.2,437.4L781.2,432.2L782.2,428.3L783.2,425.7L784.2,423.7L785.2,422.2L786.2,421.5L787.2,421.3L788.2,421.1L789.2,421.0L790.2,421.6L791.2,423.1L792.2,425.0L793.2,427.0L794.2,429.8L795.2,433.1L796.2,436.5L797.2,439.4L798.2,442.1L799.2,444.7L800.2,447.0L801.2,449.0L802.2,450.4L803.2,451.8L804.2,452.9L805.2,453.6L806.2,453.8L807.2,453.7L808.2,453.4L809.2,453.0L810.2,451.7L811.2,449.5L812.2,446.9L813.2,443.5L814.2,438.8L815.2,433.2L816.2,427.1L817.2,420.4L818.2,412.7L819.2,404.3L820.2,395.4L821.2,385.9L822.2,374.9L823.2,363.5L824.2,352.5L825.2,343.1L826.2,334.3L827.2,326.1L828.2,319.2L829.2,313.9L830.2,309.4L831.2,305.7L832.2,303.1L833.2,301.3L834.2,299.8L835.2,298.8L836.2,298.8L837.2,299.7L838.2,301.5L839.2,303.7L840.2,306.5L841.2,311.2L842.2,317.1L843.2,323.4L844.2,329.3L845.2,335.4L846.2,341.6L847.2,347.8L848.2,353.5L849.2,358.7L850.2,363.7L851.2,368.4L852.2,372.7L853.2,376.4L854.2,379.6L855.2,382.6L856.2,385.4L857.2,388.1L858.2,390.7L859.2,393.1L860.2,395.6L861.2,398.6L862.2,402.3L863.2,406.8L864.2,412.0L865.2,417.6L866.2,423.3L867.2,429.5L868.2,436.1L869.2,442.7L870.2,448.8L871.2,454.5L872.2,460.2L873.2,465.5L874.2,469.7L875.2,472.9L876.2,475.7L877.2,477.8L878.2,478.7L879.2,477.3L880.2,473.9L881.2,469.5L882.2,463.9L883.2,455.6L884.2,446.2L885.2,436.8L886.2,426.9L887.2,416.5L888.2,406.1L889.2,396.5L890.2,387.4L891.2,378.5L892.2,370.2L893.2,363.1L894.2,357.7L895.2,353.0L896.2,349.5L897.2,347.4L898.2,345.9L899.2,345.5L900.2,346.4L901.2,348.2L902.2,350.6L903.2,353.9L904.2,359.6L905.2,366.7L906.2,374.0L907.2,381.5L908.2,389.8L909.2,398.1L910.2,405.6L911.2,412.1L912.2,418.3L913.2,423.7L914.2,427.4L915.2,430.0L916.2,432.0L917.2,432.7L918.2,431.8L919.2,429.4L920.2,426.2L921.2,422.0L922.2,414.6L923.2,405.2L924.2,395.0L925.2,384.3L926.2,371.6L927.2,358.4L928.2,346.3L929.2,336.5L930.2,327.8L931.2,319.8L932.2,313.0L933.2,307.6L934.2,303.4L935.2,299.8L936.2,297.2L937.2,295.8L938.2,294.9L939.2,294.3L940.2,294.5L941.2,295.9L942.2,298.2L943.2,300.8L944.2,303.8L945.2,307.7L946.2,312.2L947.2,316.6L948.2,320.3L949.2,323.7L950.2,326.9L951.2,330.0L952.2,332.9L953.2,335.5L954.2,337.7L955.2,339.9L956.2,342.0L957.2,343.8L958.2,345.4L959.2,346.6L960.2,347.4L961.2,348.2L962.2,348.8L963.2,349.2L964.2,349.3L965.2,348.9L966.2,348.2L967.2,347.1L968.2,345.7L969.2,343.9L970.2,340.7L971.2,336.3L972.2,330.7L973.2,320.3L974.2,303.5L975.2,283.2L976.2,262.4L977.2,244.0L978.2,228.5L979.2,213.6L980.2,199.4L981.2,185.6L982.2,172.0L983.2,159.1L984.2,147.8L985.2,137.9L986.2,128.8L987.2,121.1L988.2,115.4L989.2,110.7L990.2,108.0L991.2,106.9L992.2,107.4L993.2,109.2L994.2,112.5L995.2,120.1L996.2,129.8L997.2,143.1L998.2,158.4L999.2,172.1L1000.2,185.4L1001.2,200.2L1002.2,219.2L1003.2,247.5L1004.2,280.6L1005.2,311.8L1006.2,335.0L1007.2,353.9L1008.2,370.6L1009.2,385.2L1010.2,397.7L1011.2,408.7L1012.2,419.0L1013.2,427.7L1014.2,434.2L1015.2,438.4L1016.2,442.0L1017.2,444.9L1018.2,446.8L1019.2,447.3L1020.2,446.3L1021.2,444.2L1022.2,441.2L1023.2,437.8L1024.2,432.1L1025.2,424.8L1026.2,416.9L1027.2,408.6L1028.2,399.1L1029.2,389.2L1030.2,379.6L1031.2,370.8L1032.2,362.2L1033.2,353.8L1034.2,346.1L1035.2,339.2L1036.2,333.2L1037.2,327.8L1038.2,322.7L1039.2,317.8L1040.2,312.9L1041.2,308.2L1042.2,303.6L1043.2,299.0L1044.2,294.4L1045.2,289.7L1046.2,285.1L1047.2,280.4L1048.2,275.7L1049.2,270.9L1050.2,266.0L1051.2,261.2L1052.2,256.7L1053.2,252.8L1054.2,249.1L1055.2,245.6L1056.2,242.7L1057.2,240.5L1058.2,238.6L1059.2,237.0L1060.2,236.0L1061.2,235.8L1062.2,236.6L1063.2,238.2L1064.2,240.3L1065.2,243.0L1066.2,247.4L1067.2,253.1L1068.2,259.7L1069.2,269.0L1070.2,280.4L1071.2,292.5L1072.2,304.3L1073.2,317.0L1074.2,329.9L1075.2,342.0L1076.2,352.6L1077.2,362.7L1078.2,371.7L1079.2,378.7L1080.2,384.7L1081.2,389.8L1082.2,393.2L1083.2,394.5L1084.2,395.4L1085.2,395.8L1086.2,395.4L1087.2,393.7L1088.2,391.2L1089.2,388.2L1090.2,384.4L1091.2,379.2L1092.2,372.9L1093.2,366.3L1094.2,359.4L1095.2,351.6L1096.2,343.2L1097.2,334.8L1098.2,326.9L1099.2,319.1L1100.2,311.3L1101.2,304.1L1102.2,298.4L1103.2,294.2L1104.2,290.6L1105.2,287.8L1106.2,286.0L1107.2,284.7L1108.2,284.0L1109.2,284.5L1110.2,286.1L1111.2,288.3L1112.2,291.0L1113.2,295.0L1114.2,300.6L1115.2,307.2L1116.2,315.1L1117.2,325.6L1118.2,338.1L1119.2,351.7L1120.2,365.5L1121.2,380.7L1122.2,397.2L1123.2,414.0L1124.2,430.1L1125.2,445.0L1126.2,459.7L1127.2,473.9L1128.2,487.2L1129.2,499.7L1130.2,512.1L1131.2,523.4L1132.2,532.1L1133.2,538.1L1134.2,542.9L1135.2,545.9L1136.2,547.7L1137.2,548.8L1138.2,548.7L1139.2,547.1L1140.2,544.6L1141.2,541.3L1142.2,534.5L1143.2,523.7L1144.2,510.5L1145.2,496.4L1146.2,479.5L1147.2,459.8L1148.2,438.6L1149.2,416.5L1150.2,392.2L1151.2,366.7L1152.2,341.7L1153.2,316.5L1154.2,291.7L1155.2,267.0L1156.2,243.3L1157.2,221.5L1158.2,201.2L1159.2,184.7L1160.2,170.6L1161.2,160.0L1162.2,152.3L1163.2,146.6L1164.2,142.8L1165.2,140.5L1166.2,139.8L1167.2,139.7L1168.2,141.4L1169.2,144.4L1170.2,150.2L1171.2,158.4L1172.2,170.2L1173.2,185.6L1174.2,203.2L1175.2,223.9L1176.2,244.4L1177.2,264.5L1178.2,284.6L1179.2,303.9L1180.2,321.9L1181.2,341.1L1182.2,365.1L1183.2,392.4L1184.2,416.1L1185.2,438.4L1186.2,459.6L1187.2,480.3L1188.2,500.9L1189.2,520.4L1190.2,537.5L1191.2,552.3L1192.2,565.9L1193.2,577.2L1194.2,585.9L1195.2,593.3L1196.2,598.7L1197.2,601.0L1198.2,602.2L1199.2,601.6L1200.2,598.9L1201.2,594.9L1202.2,590.4L1203.2,583.8L1204.2,575.1L1205.2,565.2L1206.2,555.1L1207.2,544.7L1208.2,533.0L1209.2,521.6L1210.2,512.3L1211.2,504.3L1212.2,497.1L1213.2,491.9L1214.2,489.4L1215.2,487.7L1216.2,486.5L1217.2,486.0L1218.2,486.7L1219.2,488.3L1220.2,490.6L1221.2,494.8L1222.2,501.6L1223.2,509.5L1224.2,517.2L1225.2,525.7L1226.2,534.8L1227.2,543.9L1228.2,552.3L1229.2,560.0L1230.2,567.7L1231.2,574.8L1232.2,580.4L1233.2,584.3L1234.2,587.7L1235.2,590.4L1236.2,591.9L1237.2,591.7L1238.2,590.2L1239.2,587.9L1240.2,585.1L1241.2,580.5L1242.2,573.9L1243.2,566.2L1244.2,558.1L1245.2,549.7L1246.2,539.7L1247.2,529.7L1248.2,521.4L1249.2,514.6L1250.2,508.3L1251.2,503.7L1252.2,501.3L1253.2,499.7L1254.2,499.2L1255.2,499.9L1256.2,501.6L1257.2,504.0L1258.2,507.3L1259.2,513.4L1260.2,521.6L1261.2,530.6L1262.2,541.8L1263.2,555.3L1264.2,569.6L1265.2,583.3L1266.2,596.9L1267.2,610.7L1268.2,624.2L1269.2,636.8L1270.2,648.5L1271.2,659.7L1272.2,670.3L1273.2,680.3L1274.2,689.5L1275.2,698.5L1276.2,706.9L1277.2,714.4L1278.2,720.8L1279.2,726.5L1280.2,731.6L1281.2,735.3L1282.2,737.4L1283.2,738.8L1284.2,739.2L1285.2,738.3L1286.2,736.5L1287.2,734.1L1288.2,730.9L1289.2,725.7L1290.2,719.2L1291.2,712.0L1292.2,703.8L1293.2,694.0L1294.2,683.3L1295.2,672.4L1296.2,661.9L1297.2,650.7L1298.2,639.4L1299.2,628.8L1300.2,619.4L1301.2,611.0L1302.2,603.2L1303.2,596.1L1304.2,589.9L1305.2,584.5L1306.2,579.7L1307.2,575.5L1308.2,571.7L1309.2,568.3L1310.2,565.4L1311.2,562.7L1312.2,560.3L1313.2,557.8L1314.2,555.5L1315.2,553.3L1316.2,551.0L1317.2,548.6L1318.2,545.8L1319.2,542.6L1320.2,539.2L1321.2,535.6L1322.2,532.2L1323.2,528.6L1324.2,525.0L1325.2,521.5L1326.2,518.7L1327.2,516.4L1328.2,514.3L1329.2,512.7L1330.2,511.8L1331.2,511.4L1332.2,511.2L1333.2,511.3L1334.2,512.1L1335.2,513.6L1336.2,515.7L1337.2,518.6L1338.2,523.9L1339.2,531.1L1340.2,539.0L1341.2,548.2L1342.2,559.1L1343.2,570.8L1344.2,582.3L1345.2,594.0L1346.2,606.1L1347.2,618.3L1348.2,630.5L1349.2,642.9L1350.2,656.0L1351.2,668.7L1352.2,679.9L1353.2,688.9L1354.2,696.9L1355.2,704.1L1356.2,710.1L1357.2,714.6L1358.2,718.2L1359.2,721.2L1360.2,723.3L1361.2,724.0L1362.2,724.5L1363.2,724.6L1364.2,723.2L1365.2,720.4L1366.2,716.9L1367.2,713.0L1368.2,707.6L1369.2,701.0L1370.2,693.4L1371.2,685.0L1372.2,675.1L1373.2,663.1L1374.2,649.6L1375.2,635.1L1376.2,620.2L1377.2,604.3L1378.2,586.9L1379.2,568.8L1380.2,550.9L1381.2,533.5L1382.2,516.0L1383.2,498.5L1384.2,481.2L1385.2,464.4L1386.2,448.4L1387.2,433.1L1388.2,418.1L1389.2,403.6L1390.2,389.7L1391.2,376.4L1392.2,363.9L1393.2,351.9L1394.2,340.1L1395.2,328.8L1396.2,318.3L1397.2,309.0L1398.2,301.1L1399.2,294.0L1400.2,287.5L1401.2,281.7L1402.2,276.7L1403.2,272.9L1404.2,270.0L1405.2,267.5L1406.2,265.6L1407.2,264.9L1408.2,264.5L1409.2,264.4L1410.2,265.1L1411.2,266.5L1412.2,268.3L1413.2,270.5L1414.2,274.1L1415.2,278.9L1416.2,284.5L1417.2,290.1L1418.2,296.1L1419.2,302.8L1420.2,310.0L1421.2,317.4L1422.2,324.9L1423.2,332.3L1424.2,339.8L1425.2,347.5L1426.2,355.3L1427.2,362.9L1428.2,370.2L1429.2,377.0L1430.2,383.2L1431.2,389.1L1432.2,394.8L1433.2,400.6L1434.2,406.6L1435.2,413.0L1436.2,419.5L1437.2,426.2L1438.2,433.1L1439.2,440.3L1440.2,447.9L1441.2,455.9L1442.2,464.0L1443.2,472.9L1444.2,483.0L1445.2,495.1L1446.2,513.0L1447.2,532.0L1448.2,545.4L1449.2,556.4L1450.2,565.9L1451.2,574.6L1452.2,582.9L1453.2,590.5L1454.2,597.2L1455.2,603.2L1456.2,607.7L1457.2,609.6L1458.2,609.7L1459.2,608.1L1460.2,603.5L1461.2,596.1L1462.2,587.1L1463.2,575.9L1464.2,563.7L1465.2,549.5L1466.2,534.1L1467.2,519.6L1468.2,505.6L1469.2,492.3L1470.2,480.4L1471.2,469.5L1472.2,459.9L1473.2,452.1L1474.2,445.4L1475.2,440.0L1476.2,435.7L1477.2,432.4L1478.2,431.2L1479.2,430.7L1480.2,431.0L1481.2,432.6L1482.2,435.6L1483.2,440.8L1484.2,447.8L1485.2,457.4L1486.2,468.8L1487.2,483.6L1488.2,499.6L1489.2,515.4L1490.2,531.5L1491.2,547.6L1492.2,563.8L1493.2,579.9L1494.2,595.5L1495.2,610.5L1496.2,625.1L1497.2,639.2L1498.2,653.0L1499.2,666.3L1500.2,678.3L1501.2,689.6L1502.2,699.9L1503.2,709.1L1504.2,717.4L1505.2,725.0L1506.2,731.8L1507.2,738.2L1508.2,743.7L1509.2,748.4L1510.2,752.5L1511.2,756.1L1512.2,759.5L1513.2,762.6L1514.2,765.3L1515.2,767.6L1516.2,769.6L1517.2,771.3L1518.2,772.8L1519.2,774.2L1520.2,775.4L1521.2,776.2L1522.2,776.9L1523.2,777.5L1524.2,779.0L1525.2,779.0L1526.2,779.0L1527.2,779.0L1528.2,779.0L1529.2,779.0L1530.2,779.0L1531.2,779.0L1532.2,779.0L1533.2,779.0L1534.2,779.0L1535.2,779.0L1536.2,779.0L1537.2,779.0L1538.2,779.0L1539.2,779.0L1540.2,779.0L1541.2,779.0L1542.2,779.0L1543.2,779.0L1544.2,779.0L1545.2,779.0L1546.2,779.0L1547.2,779.0L1548.2,779.0L1549.2,779.0L1550.2,779.0L1551.2,779.0L1552.2,779.0L1553.2,779.0L1554.2,779.0L1555.2,779.0L1556.2,779.0L1557.2,779.0L1558.2,779.0L1559.2,777.5L1560.2,776.2L1561.2,774.8L1562.2,773.1L1563.2,770.5L1564.2,767.4L1565.2,763.8L1566.2,759.9L1567.2,755.4L1568.2,750.2L1569.2,744.4L1570.2,738.2L1571.2,731.3L1572.2,723.6L1573.2,715.2L1574.2,706.6L1575.2,697.8L1576.2,688.2L1577.2,678.3L1578.2,668.8L1579.2,660.5L1580.2,652.9L1581.2,645.7L1582.2,639.2L1583.2,633.6L1584.2,628.9L1585.2,624.8L1586.2,621.1L1587.2,618.0L1588.2,615.4L1589.2,613.0L1590.2,610.9L1591.2,609.4L1592.2,608.5L1593.2,607.8L1594.2,607.5L1595.2,608.0L1596.2,609.3L1597.2,611.3L1598.2,613.7L1599.2,617.6L1600.2,623.3L1601.2,629.9L1602.2,636.5L1603.2,643.0L1604.2,650.2L1605.2,657.5L1606.2,664.0L1607.2,669.1L1608.2,673.7L1609.2,677.9L1610.2,681.3L1611.2,683.5L1612.2,685.0L1613.2,686.3L1614.2,687.0L1615.2,687.0L1616.2,686.1L1617.2,684.5L1618.2,682.7L1619.2,681.0L1620.2,678.9L1621.2,676.7L1622.2,674.8L1623.2,673.8L1624.2,673.1L1625.2,672.5L1626.2,672.1L1627.2,671.9L1628.2,672.2L1629.2,673.3L1630.2,674.8L1631.2,676.7L1632.2,678.8L1633.2,681.8L1634.2,685.5L1635.2,689.8L1636.2,694.1L1637.2,698.9L1638.2,704.3L1639.2,709.9L1640.2,715.5L1641.2,720.9L1642.2,726.5L1643.2,732.0L1644.2,737.3L1645.2,742.0L1646.2,746.4L1647.2,750.6L1648.2,754.4L1649.2,757.9L1650.2,761.1L1651.2,764.0L1652.2,766.7L1653.2,769.0L1654.2,770.8L1655.2,772.4L1656.2,773.8L1657.2,775.0L1658.2,775.9L1659.2,776.8L1660.2,779.0L1661.2,779.0L1662.2,779.0L1663.2,779.0L1664.2,779.0L1665.2,779.0L1666.2,779.0L1667.2,779.0L1668.2,779.0L1669.2,779.0L1670.2,779.0L1671.2,779.0L1672.2,779.0L1673.2,779.0L1674.2,779.0L1675.2,779.0L1676.2,779.0L1677.2,779.0L1678.2,779.0L1679.2,779.0L1680.2,779.0L1681.2,779.0L1682.2,779.0L1683.2,779.0L1684.2,779.0L1685.2,779.0L1686.2,779.0L1687.2,779.0L1688.2,779.0L1689.2,779.0L1690.2,779.0L1691.2,779.0L1692.2,779.0L1693.2,779.0L1694.2,779.0L1695.2,779.0L1696.2,779.0L1697.2,779.0L1698.2,779.0L1699.2,779.0L1700.2,779.0L1701.2,779.0L1702.2,779.0L1703.2,779.0L1704.2,779.0L1705.2,779.0L1706.2,779.0L1707.2,779.0L1708.2,779.0L1709.2,779.0L1710.2,779.0L1711.2,779.0L1712.2,779.0L1713.2,779.0L1714.2,779.0L1715.2,779.0L1716.2,779.0L1717.2,779.0L1718.2,779.0L1719.2,779.0L1720.2,779.0L1721.2,779.0L1722.2,779.0L1723.2,779.0L1724.2,779.0L1725.2,779.0L1726.2,779.0L1727.2,779.0L1728.2,779.0L1729.2,779.0L1730.2,779.0L1731.2,779.0L1732.2,779.0L1733.2,779.0L1734.2,779.0L1735.2,779.0L1736.2,779.0L1737.2,779.0L1738.2,779.0L1739.2,779.0L1740.2,779.0L1741.2,779.0L1742.2,779.0L1743.2,779.0L1744.2,779.0L1745.2,779.0L1746.2,779.0L1747.2,779.0L1748.2,779.0L1749.2,779.0L1750.2,779.0L1751.2,779.0L1752.2,779.0L1753.2,779.0L1754.2,779.0L1755.2,779.0L1756.2,779.0L1757.2,779.0L1758.2,779.0L1759.2,779.0L1760.2,779.0L1761.2,779.0L1762.2,779.0L1763.2,779.0L1764.2,779.0L1765.2,779.0L1766.2,779.0L1767.2,779.0L1768.2,779.0L1769.2,779.0L1770.2,779.0L1771.2,779.0L1772.2,779.0L1773.2,779.0L1774.2,779.0L1775.2,779.0L1776.2,779.0L1777.2,779.0L1778.2,779.0L1779.2,779.0L1780.2,779.0L1781.2,779.0L1782.2,779.0L1783.2,779.0L1784.2,779.0L1785.2,779.0L1786.2,779.0L1787.2,779.0L1788.2,779.0L1789.2,779.0L1790.2,779.0L1791.2,779.0L1792.2,779.0L1793.2,779.0L1794.2,779.0L1795.2,779.0L1796.2,779.0L1797.2,779.0L1798.2,779.0L1799.2,779.0L1800.2,779.0L1801.2,777.5L1802.2,776.6L1803.2,775.5L1804.2,774.3L1805.2,772.7L1806.2,770.5L1807.2,767.9L1808.2,765.1L1809.2,761.9L1810.2,758.0L1811.2,753.5L1812.2,748.7L1813.2,743.5L1814.2,737.7L1815.2,731.3L1816.2,724.6L1817.2,717.9L1818.2,711.3L1819.2,704.5L1820.2,697.8L1821.2,691.1L1822.2,684.7L1823.2,678.3L1824.2,672.0L1825.2,666.1L1826.2,661.1L1827.2,656.6L1828.2,652.4L1829.2,648.9L1830.2,646.3L1831.2,644.0L1832.2,642.3L1833.2,641.6L1834.2,641.2L1835.2,641.2L1836.2,641.9L1837.2,643.2L1838.2,644.8L1839.2,647.5L1840.2,651.2L1841.2,655.4L1842.2,660.3L1843.2,666.4L1844.2,673.1L1845.2,679.8L1846.2,686.9L1847.2,694.4L1848.2,701.9L1849.2,709.3L1850.2,716.4L1851.2,723.4L1852.2,730.3L1853.2,736.7L1854.2,742.4L1855.2,747.7L1856.2,752.6L1857.2,757.1L1858.2,760.9L1859.2,764.2L1860.2,767.3L1861.2,770.0L1862.2,772.1L1863.2,773.7L1864.2,775.1L1865.2,776.4L1866.2,777.5L1867.2,779.0L1868.2,779.0L1869.2,779.0L1870.2,779.0L1871.2,779.0L1872.2,779.0L1873.2,779.0L1874.2,779.0L1875.2,779.0L1876.2,779.0L1877.2,779.0L1878.2,779.0L1879.2,779.0L1880.2,779.0L1881.2,779.0L1882.2,779.0L1883.2,779.0L1884.2,779.0L1885.2,779.0L1886.2,779.0L1887.2,779.0L1888.2,779.0L1889.2,779.0L1890.2,779.0L1891.2,779.0L1892.2,779.0L1893.2,779.0L1894.2,779.0L1895.2,779.0L1896.2,779.0L1897.2,779.0L1898.2,779.0L1899.2,779.0L1900.2,779.0L1901.2,779.0L1902.2,779.0L1903.2,779.0L1904.2,779.0L1905.2,779.0L1906.2,779.0L1907.2,779.0L1908.2,777.7L1909.2,776.2L1910.2,774.4L1911.2,772.4L1912.2,770.0L1913.2,766.9L1914.2,763.2L1915.2,759.0L1916.2,754.1L1917.2,747.9L1918.2,740.9L1919.2,733.3L1920.2,725.4L1921.2,716.6L1922.2,707.1L1923.2,697.3L1924.2,687.5L1925.2,677.6L1926.2,667.3L1927.2,657.1L1928.2,647.3L1929.2,637.9L1930.2,628.7L1931.2,619.8L1932.2,611.5L1933.2,604.1L1934.2,597.3L1935.2,590.9L1936.2,585.1L1937.2,580.2L1938.2,576.1L1939.2,572.5L1940.2,569.2L1941.2,566.4L1942.2,563.8L1943.2,561.3L1944.2,559.1L1945.2,557.3L1946.2,556.2L1947.2,555.5L1948.2,554.9L1949.2,554.4L1950.2,554.2L1951.2,554.3L1952.2,554.6L1953.2,555.1L1954.2,555.8L1955.2,556.6L1956.2,558.1L1957.2,560.5L1958.2,563.3L1959.2,566.3L1960.2,569.6L1961.2,573.5L1962.2,578.0L1963.2,583.0L1964.2,588.6L1965.2,595.3L1966.2,602.7L1967.2,610.7L1968.2,618.9L1969.2,627.7L1970.2,637.1L1971.2,646.8L1972.2,656.4L1973.2,665.8L1974.2,675.4L1975.2,684.9L1976.2,694.1L1977.2,702.8L1978.2,711.5L1979.2,719.8L1980.2,727.7L1981.2,734.6L1982.2,740.9L1983.2,746.7L1984.2,752.0L1985.2,756.6L1986.2,760.4L1987.2,764.0L1988.2,767.2L1989.2,769.8L1990.2,771.8L1991.2,773.4L1992.2,774.9L1993.2,776.2L1994.2,777.3L1995.2,779.0L1996.2,779.0L1997.2,779.0L1998.2,779.0L1999.2,779.0L2000.2,779.0L2001.2,779.0L2002.2,779.0L2003.2,779.0L2004.2,779.0L2005.2,779.0L2006.2,779.0L2007.2,779.0L2008.2,779.0L2009.2,779.0L2010.2,779.0L2011.2,779.0L2012.2,779.0L2013.2,779.0L2014.2,779.0L2015.2,779.0L2016.2,779.0L2017.2,779.0L2018.2,779.0L2019.2,776.6L2020.2,775.2L2021.2,773.5L2022.2,770.8L2023.2,767.0L2024.2,762.7L2025.2,758.0L2026.2,752.6L2027.2,746.2L2028.2,739.1L2029.2,731.6L2030.2,723.6L2031.2,715.0L2032.2,705.6L2033.2,695.6L2034.2,685.0L2035.2,673.3L2036.2,660.7L2037.2,647.5L2038.2,634.0L2039.2,620.0L2040.2,605.4L2041.2,590.5L2042.2,575.5L2043.2,560.7L2044.2,545.9L2045.2,531.0L2046.2,516.4L2047.2,502.2L2048.2,488.2L2049.2,474.4L2050.2,461.1L2051.2,448.5L2052.2,436.7L2053.2,425.4L2054.2,414.7L2055.2,404.6L2056.2,395.3L2057.2,386.6L2058.2,378.4L2059.2,370.7L2060.2,363.6L2061.2,356.8L2062.2,350.3L2063.2,344.3L2064.2,338.9L2065.2,334.3L2066.2,330.0L2067.2,326.1L2068.2,322.8L2069.2,320.3L2070.2,318.3L2071.2,316.6L2072.2,315.3L2073.2,314.5L2074.2,314.0L2075.2,313.5L2076.2,313.3L2077.2,313.5L2078.2,314.2L2079.2,315.3L2080.2,316.7L2081.2,319.4L2082.2,323.4L2083.2,328.2L2084.2,334.0L2085.2,342.2L2086.2,352.2L2087.2,363.0L2088.2,375.0L2089.2,388.7L2090.2,403.5L2091.2,418.7L2092.2,434.9L2093.2,452.0L2094.2,469.5L2095.2,486.9L2096.2,504.7L2097.2,522.5L2098.2,539.6L2099.2,555.6L2100.2,571.0L2101.2,585.6L2102.2,599.1L2103.2,612.0L2104.2,623.9L2105.2,633.6L2106.2,642.1L2107.2,649.2L2108.2,653.6L2109.2,656.6L2110.2,658.5L2111.2,658.4L2112.2,656.6L2113.2,653.9L2114.2,650.4L2115.2,645.0L2116.2,639.5L2117.2,635.3L2118.2,631.5L2119.2,629.5L2119.2,779.0Z" fill="#858585"/>
<path d="M216.2,620.6L217.2,620.6L218.2,620.6L219.2,620.6L220.2,620.7L221.2,622.1L222.2,624.4L223.2,626.8L224.2,629.6L225.2,633.0L226.2,637.0L227.2,641.7L228.2,647.5L229.2,654.0L230.2,661.1L231.2,668.4L232.2,675.7L233.2,683.3L234.2,691.8L235.2,700.4L236.2,708.9L237.2,716.7L238.2,723.4L239.2,729.3L240.2,734.8L241.2,740.0L242.2,744.7L243.2,749.0L244.2,752.9L245.2,756.5L246.2,760.0L247.2,763.2L248.2,766.0L249.2,768.3L250.2,770.0L251.2,771.6L252.2,773.1L253.2,774.3L254.2,775.3L255.2,775.7L256.2,775.7L257.2,775.3L258.2,774.6L259.2,773.7L260.2,772.5L261.2,771.2L262.2,769.5L263.2,766.7L264.2,763.1L265.2,758.9L266.2,754.2L267.2,749.5L268.2,744.4L269.2,738.6L270.2,732.1L271.2,725.2L272.2,718.0L273.2,710.7L274.2,702.7L275.2,694.0L276.2,684.9L277.2,675.9L278.2,667.4L279.2,659.9L280.2,653.0L281.2,646.4L282.2,640.2L283.2,634.4L284.2,629.2L285.2,624.5L286.2,620.1L287.2,615.9L288.2,612.4L289.2,610.0L290.2,608.2L291.2,606.8L292.2,605.7L293.2,605.4L294.2,605.6L295.2,606.1L296.2,606.7L297.2,607.3L298.2,607.8L299.2,608.4L300.2,609.0L301.2,609.6L302.2,610.0L303.2,610.1L304.2,609.7L305.2,609.0L306.2,608.0L307.2,607.0L308.2,606.1L309.2,605.2L310.2,604.3L311.2,603.3L312.2,602.4L313.2,601.8L314.2,601.6L315.2,601.9L316.2,602.7L317.2,603.8L318.2,605.0L319.2,606.3L320.2,608.2L321.2,610.3L322.2,612.6L323.2,614.7L324.2,617.1L325.2,619.5L326.2,621.8L327.2,623.4L328.2,624.5L329.2,625.5L330.2,626.3L331.2,626.7L332.2,626.7L333.2,625.7L334.2,624.0L335.2,622.0L336.2,619.9L337.2,617.2L338.2,613.9L339.2,610.7L340.2,608.2L341.2,606.9L342.2,605.8L343.2,605.0L344.2,604.8L345.2,605.2L346.2,606.2L347.2,607.4L348.2,609.0L349.2,611.8L350.2,615.7L351.2,620.5L352.2,625.8L353.2,632.1L354.2,640.1L355.2,648.9L356.2,657.6L357.2,665.9L358.2,674.6L359.2,683.2L360.2,691.0L361.2,697.2L362.2,702.7L363.2,707.7L364.2,711.8L365.2,714.8L366.2,716.7L367.2,718.3L368.2,719.0L369.2,718.5L370.2,717.1L371.2,714.9L372.2,712.3L373.2,709.2L374.2,704.4L375.2,698.2L376.2,691.1L377.2,683.8L378.2,675.3L379.2,665.5L380.2,655.4L381.2,646.0L382.2,637.7L383.2,629.7L384.2,622.2L385.2,615.4L386.2,609.5L387.2,603.8L388.2,598.7L389.2,594.9L390.2,592.8L391.2,591.2L392.2,590.0L393.2,589.6L394.2,589.9L395.2,590.7L396.2,591.7L397.2,592.7L398.2,593.7L399.2,594.7L400.2,595.8L401.2,596.7L402.2,597.3L403.2,597.7L404.2,598.0L405.2,598.0L406.2,597.3L407.2,595.9L408.2,594.2L409.2,592.4L410.2,590.6L411.2,588.4L412.2,586.2L413.2,584.3L414.2,582.7L415.2,581.3L416.2,580.0L417.2,579.0L418.2,578.4L419.2,578.2L420.2,578.0L421.2,577.9L422.2,578.3L423.2,579.2L424.2,580.3L425.2,581.2L426.2,582.0L427.2,582.9L428.2,583.7L429.2,584.2L430.2,584.3L431.2,584.2L432.2,583.9L433.2,583.5L434.2,582.6L435.2,581.3L436.2,579.4L437.2,576.1L438.2,571.9L439.2,567.4L440.2,562.1L441.2,556.1L442.2,549.5L443.2,542.2L444.2,533.8L445.2,524.3L446.2,514.3L447.2,504.5L448.2,495.0L449.2,485.1L450.2,475.5L451.2,466.5L452.2,458.5L453.2,450.9L454.2,443.8L455.2,437.6L456.2,432.5L457.2,428.1L458.2,424.4L459.2,422.3L460.2,421.1L461.2,420.4L462.2,420.7L463.2,421.9L464.2,423.6L465.2,426.7L466.2,432.2L467.2,439.3L468.2,447.2L469.2,457.4L470.2,469.7L471.2,483.0L472.2,496.5L473.2,510.3L474.2,525.0L475.2,540.2L476.2,555.1L477.2,569.9L478.2,585.4L479.2,598.8L480.2,607.9L481.2,615.3L482.2,620.5L483.2,623.4L484.2,625.2L485.2,624.5L486.2,621.0L487.2,615.7L488.2,608.5L489.2,596.8L490.2,582.6L491.2,568.4L492.2,554.1L493.2,538.4L494.2,522.8L495.2,508.6L496.2,496.9L497.2,486.1L498.2,476.3L499.2,467.8L500.2,461.1L501.2,455.4L502.2,450.9L503.2,448.5L504.2,447.2L505.2,446.8L506.2,447.7L507.2,449.8L508.2,452.5L509.2,457.5L510.2,465.0L511.2,474.1L512.2,484.1L513.2,497.1L514.2,512.4L515.2,528.7L516.2,544.6L517.2,561.0L518.2,578.4L519.2,595.2L520.2,609.9L521.2,621.8L522.2,632.8L523.2,642.2L524.2,648.7L525.2,652.5L526.2,655.7L527.2,657.7L528.2,657.9L529.2,655.8L530.2,652.0L531.2,647.1L532.2,638.9L533.2,627.7L534.2,615.1L535.2,602.3L536.2,588.6L537.2,573.2L538.2,557.5L539.2,543.0L540.2,530.5L541.2,518.6L542.2,507.6L543.2,497.8L544.2,489.4L545.2,481.7L546.2,474.8L547.2,470.1L548.2,467.7L549.2,465.8L550.2,464.9L551.2,465.3L552.2,467.0L553.2,469.5L554.2,473.2L555.2,480.6L556.2,490.9L557.2,502.5L558.2,514.8L559.2,530.0L560.2,547.5L561.2,565.8L562.2,583.7L563.2,599.7L564.2,614.9L565.2,629.9L566.2,644.5L567.2,658.2L568.2,671.0L569.2,682.5L570.2,693.6L571.2,704.3L572.2,714.0L573.2,722.3L574.2,728.8L575.2,734.1L576.2,738.5L577.2,741.9L578.2,744.2L579.2,746.2L580.2,747.3L581.2,747.0L582.2,745.3L583.2,742.7L584.2,739.7L585.2,735.4L586.2,729.5L587.2,722.5L588.2,714.5L589.2,706.2L590.2,697.0L591.2,686.3L592.2,674.5L593.2,661.8L594.2,648.6L595.2,634.0L596.2,618.4L597.2,602.3L598.2,586.2L599.2,569.6L600.2,552.6L601.2,535.6L602.2,519.2L603.2,503.5L604.2,488.0L605.2,473.1L606.2,459.1L607.2,446.4L608.2,434.6L609.2,423.4L610.2,413.2L611.2,404.3L612.2,396.3L613.2,388.8L614.2,382.1L615.2,376.7L616.2,372.4L617.2,368.6L618.2,365.5L619.2,363.4L620.2,362.1L621.2,361.2L622.2,360.7L623.2,361.0L624.2,362.0L625.2,363.4L626.2,365.2L627.2,368.2L628.2,372.6L629.2,377.9L630.2,384.3L631.2,393.4L632.2,404.4L633.2,415.9L634.2,427.9L635.2,440.9L636.2,454.6L637.2,468.9L638.2,483.7L639.2,499.6L640.2,516.1L641.2,532.5L642.2,548.1L643.2,563.6L644.2,578.9L645.2,593.6L646.2,607.0L647.2,619.3L648.2,631.3L649.2,642.2L650.2,651.5L651.2,659.0L652.2,665.7L653.2,671.3L654.2,674.7L655.2,676.5L656.2,678.0L657.2,678.9L658.2,679.2L659.2,678.1L660.2,675.5L661.2,671.9L662.2,667.0L663.2,658.2L664.2,646.8L665.2,634.6L666.2,621.9L667.2,607.4L668.2,591.9L669.2,576.4L670.2,561.9L671.2,547.1L672.2,532.7L673.2,519.7L674.2,508.4L675.2,497.7L676.2,488.6L677.2,482.6L678.2,478.7L679.2,475.7L680.2,474.1L681.2,473.2L682.2,472.9L683.2,474.0L684.2,476.5L685.2,479.8L686.2,484.9L687.2,493.1L688.2,503.1L689.2,513.8L690.2,526.9L691.2,541.9L692.2,557.9L693.2,573.9L694.2,590.4L695.2,607.9L696.2,625.3L697.2,641.4L698.2,655.5L699.2,668.7L700.2,681.0L701.2,692.1L702.2,701.7L703.2,710.2L704.2,717.9L705.2,724.8L706.2,730.9L707.2,736.6L708.2,742.0L709.2,746.8L710.2,750.7L711.2,753.6L712.2,756.3L713.2,758.0L714.2,758.0L715.2,756.5L716.2,754.0L717.2,750.9L718.2,747.6L719.2,743.8L720.2,739.1L721.2,733.6L722.2,727.7L723.2,721.2L724.2,713.4L725.2,704.9L726.2,696.4L727.2,688.2L728.2,680.2L729.2,672.1L730.2,664.1L731.2,656.2L732.2,648.1L733.2,639.8L734.2,632.6L735.2,627.4L736.2,623.0L737.2,619.5L738.2,617.4L739.2,616.0L740.2,615.1L741.2,614.9L742.2,615.9L743.2,617.8L744.2,620.1L745.2,623.1L746.2,627.5L747.2,632.8L748.2,638.1L749.2,643.0L750.2,648.2L751.2,653.5L752.2,658.2L753.2,661.6L754.2,664.2L755.2,666.5L756.2,667.9L757.2,668.1L758.2,667.8L759.2,667.4L760.2,665.7L761.2,662.2L762.2,657.7L763.2,651.8L764.2,642.2L765.2,630.1L766.2,617.2L767.2,603.4L768.2,587.4L769.2,570.4L770.2,553.6L771.2,537.9L772.2,522.2L773.2,506.6L774.2,492.2L775.2,479.8L776.2,468.9L777.2,459.1L778.2,450.5L779.2,443.5L780.2,437.4L781.2,432.2L782.2,428.3L783.2,425.7L784.2,423.7L785.2,422.2L786.2,421.5L787.2,421.3L788.2,421.1L789.2,421.0L790.2,421.6L791.2,423.1L792.2,425.0L793.2,427.0L794.2,429.8L795.2,433.1L796.2,436.5L797.2,439.4L798.2,442.1L799.2,444.7L800.2,447.0L801.2,449.0L802.2,450.4L803.2,451.8L804.2,452.9L805.2,453.6L806.2,453.8L807.2,453.7L808.2,453.4L809.2,453.0L810.2,451.7L811.2,449.5L812.2,446.9L813.2,443.5L814.2,438.8L815.2,433.2L816.2,427.1L817.2,420.4L818.2,412.7L819.2,404.3L820.2,395.4L821.2,385.9L822.2,374.9L823.2,363.5L824.2,352.5L825.2,343.1L826.2,334.3L827.2,326.1L828.2,319.2L829.2,313.9L830.2,309.4L831.2,305.7L832.2,303.1L833.2,301.3L834.2,299.8L835.2,298.8L836.2,298.8L837.2,299.7L838.2,301.5L839.2,303.7L840.2,306.5L841.2,311.2L842.2,317.1L843.2,323.4L844.2,329.3L845.2,335.4L846.2,341.6L847.2,347.8L848.2,353.5L849.2,358.7L850.2,363.7L851.2,368.4L852.2,372.7L853.2,376.4L854.2,379.6L855.2,382.6L856.2,385.4L857.2,388.1L858.2,390.7L859.2,393.1L860.2,395.6L861.2,398.6L862.2,402.3L863.2,406.8L864.2,412.0L865.2,417.6L866.2,423.3L867.2,429.5L868.2,436.1L869.2,442.7L870.2,448.8L871.2,454.5L872.2,460.2L873.2,465.5L874.2,469.7L875.2,472.9L876.2,475.7L877.2,477.8L878.2,478.7L879.2,477.3L880.2,473.9L881.2,469.5L882.2,463.9L883.2,455.6L884.2,446.2L885.2,436.8L886.2,426.9L887.2,416.5L888.2,406.1L889.2,396.5L890.2,387.4L891.2,378.5L892.2,370.2L893.2,363.1L894.2,357.7L895.2,353.0L896.2,349.5L897.2,347.4L898.2,345.9L899.2,345.5L900.2,346.4L901.2,348.2L902.2,350.6L903.2,353.9L904.2,359.6L905.2,366.7L906.2,374.0L907.2,381.5L908.2,389.8L909.2,398.1L910.2,405.6L911.2,412.1L912.2,418.3L913.2,423.7L914.2,427.4L915.2,430.0L916.2,432.0L917.2,432.7L918.2,431.8L919.2,429.4L920.2,426.2L921.2,422.0L922.2,414.6L923.2,405.2L924.2,395.0L925.2,384.3L926.2,371.6L927.2,358.4L928.2,346.3L929.2,336.5L930.2,327.8L931.2,319.8L932.2,313.0L933.2,307.6L934.2,303.4L935.2,299.8L936.2,297.2L937.2,295.8L938.2,294.9L939.2,294.3L940.2,294.5L941.2,295.9L942.2,298.2L943.2,300.8L944.2,303.8L945.2,307.7L946.2,312.2L947.2,316.6L948.2,320.3L949.2,323.7L950.2,326.9L951.2,330.0L952.2,332.9L953.2,335.5L954.2,337.7L955.2,339.9L956.2,342.0L957.2,343.8L958.2,345.4L959.2,346.6L960.2,347.4L961.2,348.2L962.2,348.8L963.2,349.2L964.2,349.3L965.2,348.9L966.2,348.2L967.2,347.1L968.2,345.7L969.2,343.9L970.2,340.7L971.2,336.3L972.2,330.7L973.2,320.3L974.2,303.5L975.2,283.2L976.2,262.4L977.2,244.0L978.2,228.5L979.2,213.6L980.2,199.4L981.2,185.6L982.2,172.0L983.2,159.1L984.2,147.8L985.2,137.9L986.2,128.8L987.2,121.1L988.2,115.4L989.2,110.7L990.2,108.0L991.2,106.9L992.2,107.4L993.2,109.2L994.2,112.5L995.2,120.1L996.2,129.8L997.2,143.1L998.2,158.4L999.2,172.1L1000.2,185.4L1001.2,200.2L1002.2,219.2L1003.2,247.5L1004.2,280.6L1005.2,311.8L1006.2,335.0L1007.2,353.9L1008.2,370.6L1009.2,385.2L1010.2,397.7L1011.2,408.7L1012.2,419.0L1013.2,427.7L1014.2,434.2L1015.2,438.4L1016.2,442.0L1017.2,444.9L1018.2,446.8L1019.2,447.3L1020.2,446.3L1021.2,444.2L1022.2,441.2L1023.2,437.8L1024.2,432.1L1025.2,424.8L1026.2,416.9L1027.2,408.6L1028.2,399.1L1029.2,389.2L1030.2,379.6L1031.2,370.8L1032.2,362.2L1033.2,353.8L1034.2,346.1L1035.2,339.2L1036.2,333.2L1037.2,327.8L1038.2,322.7L1039.2,317.8L1040.2,312.9L1041.2,308.2L1042.2,303.6L1043.2,299.0L1044.2,294.4L1045.2,289.7L1046.2,285.1L1047.2,280.4L1048.2,275.7L1049.2,270.9L1050.2,266.0L1051.2,261.2L1052.2,256.7L1053.2,252.8L1054.2,249.1L1055.2,245.6L1056.2,242.7L1057.2,240.5L1058.2,238.6L1059.2,237.0L1060.2,236.0L1061.2,235.8L1062.2,236.6L1063.2,238.2L1064.2,240.3L1065.2,243.0L1066.2,247.4L1067.2,253.1L1068.2,259.7L1069.2,269.0L1070.2,280.4L1071.2,292.5L1072.2,304.3L1073.2,317.0L1074.2,329.9L1075.2,342.0L1076.2,352.6L1077.2,362.7L1078.2,371.7L1079.2,378.7L1080.2,384.7L1081.2,389.8L1082.2,393.2L1083.2,394.5L1084.2,395.4L1085.2,395.8L1086.2,395.4L1087.2,393.7L1088.2,391.2L1089.2,388.2L1090.2,384.4L1091.2,379.2L1092.2,372.9L1093.2,366.3L1094.2,359.4L1095.2,351.6L1096.2,343.2L1097.2,334.8L1098.2,326.9L1099.2,319.1L1100.2,311.3L1101.2,304.1L1102.2,298.4L1103.2,294.2L1104.2,290.6L1105.2,287.8L1106.2,286.0L1107.2,284.7L1108.2,284.0L1109.2,284.5L1110.2,286.1L1111.2,288.3L1112.2,291.0L1113.2,295.0L1114.2,300.6L1115.2,307.2L1116.2,315.1L1117.2,325.6L1118.2,338.1L1119.2,351.7L1120.2,365.5L1121.2,380.7L1122.2,397.2L1123.2,414.0L1124.2,430.1L1125.2,445.0L1126.2,459.7L1127.2,473.9L1128.2,487.2L1129.2,499.7L1130.2,512.1L1131.2,523.4L1132.2,532.1L1133.2,538.1L1134.2,542.9L1135.2,545.9L1136.2,547.7L1137.2,548.8L1138.2,548.7L1139.2,547.1L1140.2,544.6L1141.2,541.3L1142.2,534.5L1143.2,523.7L1144.2,510.5L1145.2,496.4L1146.2,479.5L1147.2,459.8L1148.2,438.6L1149.2,416.5L1150.2,392.2L1151.2,366.7L1152.2,341.7L1153.2,316.5L1154.2,291.7L1155.2,267.0L1156.2,243.3L1157.2,221.5L1158.2,201.2L1159.2,184.7L1160.2,170.6L1161.2,160.0L1162.2,152.3L1163.2,146.6L1164.2,142.8L1165.2,140.5L1166.2,139.8L1167.2,139.7L1168.2,141.4L1169.2,144.4L1170.2,150.2L1171.2,158.4L1172.2,170.2L1173.2,185.6L1174.2,203.2L1175.2,223.9L1176.2,244.4L1177.2,264.5L1178.2,284.6L1179.2,303.9L1180.2,321.9L1181.2,341.1L1182.2,365.1L1183.2,392.4L1184.2,416.1L1185.2,438.4L1186.2,459.6L1187.2,480.3L1188.2,500.9L1189.2,520.4L1190.2,537.5L1191.2,552.3L1192.2,565.9L1193.2,577.2L1194.2,585.9L1195.2,593.3L1196.2,598.7L1197.2,601.0L1198.2,602.2L1199.2,601.6L1200.2,598.9L1201.2,594.9L1202.2,590.4L1203.2,583.8L1204.2,575.1L1205.2,565.2L1206.2,555.1L1207.2,544.7L1208.2,533.0L1209.2,521.6L1210.2,512.3L1211.2,504.3L1212.2,497.1L1213.2,491.9L1214.2,489.4L1215.2,487.7L1216.2,486.5L1217.2,486.0L1218.2,486.7L1219.2,488.3L1220.2,490.6L1221.2,494.8L1222.2,501.6L1223.2,509.5L1224.2,517.2L1225.2,525.7L1226.2,534.8L1227.2,543.9L1228.2,552.3L1229.2,560.0L1230.2,567.7L1231.2,574.8L1232.2,580.4L1233.2,584.3L1234.2,587.7L1235.2,590.4L1236.2,591.9L1237.2,591.7L1238.2,590.2L1239.2,587.9L1240.2,585.1L1241.2,580.5L1242.2,573.9L1243.2,566.2L1244.2,558.1L1245.2,549.7L1246.2,539.7L1247.2,529.7L1248.2,521.4L1249.2,514.6L1250.2,508.3L1251.2,503.7L1252.2,501.3L1253.2,499.7L1254.2,499.2L1255.2,499.9L1256.2,501.6L1257.2,504.0L1258.2,507.3L1259.2,513.4L1260.2,521.6L1261.2,530.6L1262.2,541.8L1263.2,555.3L1264.2,569.6L1265.2,583.3L1266.2,596.9L1267.2,610.7L1268.2,624.2L1269.2,636.8L1270.2,648.5L1271.2,659.7L1272.2,670.3L1273.2,680.3L1274.2,689.5L1275.2,698.5L1276.2,706.9L1277.2,714.4L1278.2,720.8L1279.2,726.5L1280.2,731.6L1281.2,735.3L1282.2,737.4L1283.2,738.8L1284.2,739.2L1285.2,738.3L1286.2,736.5L1287.2,734.1L1288.2,730.9L1289.2,725.7L1290.2,719.2L1291.2,712.0L1292.2,703.8L1293.2,694.0L1294.2,683.3L1295.2,672.4L1296.2,661.9L1297.2,650.7L1298.2,639.4L1299.2,628.8L1300.2,619.4L1301.2,611.0L1302.2,603.2L1303.2,596.1L1304.2,589.9L1305.2,584.5L1306.2,579.7L1307.2,575.5L1308.2,571.7L1309.2,568.3L1310.2,565.4L1311.2,562.7L1312.2,560.3L1313.2,557.8L1314.2,555.5L1315.2,553.3L1316.2,551.0L1317.2,548.6L1318.2,545.8L1319.2,542.6L1320.2,539.2L1321.2,535.6L1322.2,532.2L1323.2,528.6L1324.2,525.0L1325.2,521.5L1326.2,518.7L1327.2,516.4L1328.2,514.3L1329.2,512.7L1330.2,511.8L1331.2,511.4L1332.2,511.2L1333.2,511.3L1334.2,512.1L1335.2,513.6L1336.2,515.7L1337.2,518.6L1338.2,523.9L1339.2,531.1L1340.2,539.0L1341.2,548.2L1342.2,559.1L1343.2,570.8L1344.2,582.3L1345.2,594.0L1346.2,606.1L1347.2,618.3L1348.2,630.5L1349.2,642.9L1350.2,656.0L1351.2,668.7L1352.2,679.9L1353.2,688.9L1354.2,696.9L1355.2,704.1L1356.2,710.1L1357.2,714.6L1358.2,718.2L1359.2,721.2L1360.2,723.3L1361.2,724.0L1362.2,724.5L1363.2,724.6L1364.2,723.2L1365.2,720.4L1366.2,716.9L1367.2,713.0L1368.2,707.6L1369.2,701.0L1370.2,693.4L1371.2,685.0L1372.2,675.1L1373.2,663.1L1374.2,649.6L1375.2,635.1L1376.2,620.2L1377.2,604.3L1378.2,586.9L1379.2,568.8L1380.2,550.9L1381.2,533.5L1382.2,516.0L1383.2,498.5L1384.2,481.2L1385.2,464.4L1386.2,448.4L1387.2,433.1L1388.2,418.1L1389.2,403.6L1390.2,389.7L1391.2,376.4L1392.2,363.9L1393.2,351.9L1394.2,340.1L1395.2,328.8L1396.2,318.3L1397.2,309.0L1398.2,301.1L1399.2,294.0L1400.2,287.5L1401.2,281.7L1402.2,276.7L1403.2,272.9L1404.2,270.0L1405.2,267.5L1406.2,265.6L1407.2,264.9L1408.2,264.5L1409.2,264.4L1410.2,265.1L1411.2,266.5L1412.2,268.3L1413.2,270.5L1414.2,274.1L1415.2,278.9L1416.2,284.5L1417.2,290.1L1418.2,296.1L1419.2,302.8L1420.2,310.0L1421.2,317.4L1422.2,324.9L1423.2,332.3L1424.2,339.8L1425.2,347.5L1426.2,355.3L1427.2,362.9L1428.2,370.2L1429.2,377.0L1430.2,383.2L1431.2,389.1L1432.2,394.8L1433.2,400.6L1434.2,406.6L1435.2,413.0L1436.2,419.5L1437.2,426.2L1438.2,433.1L1439.2,440.3L1440.2,447.9L1441.2,455.9L1442.2,464.0L1443.2,472.9L1444.2,483.0L1445.2,495.1L1446.2,513.0L1447.2,532.0L1448.2,545.4L1449.2,556.4L1450.2,565.9L1451.2,574.6L1452.2,582.9L1453.2,590.5L1454.2,597.2L1455.2,603.2L1456.2,607.7L1457.2,609.6L1458.2,609.7L1459.2,608.1L1460.2,603.5L1461.2,596.1L1462.2,587.1L1463.2,575.9L1464.2,563.7L1465.2,549.5L1466.2,534.1L1467.2,519.6L1468.2,505.6L1469.2,492.3L1470.2,480.4L1471.2,469.5L1472.2,459.9L1473.2,452.1L1474.2,445.4L1475.2,440.0L1476.2,435.7L1477.2,432.4L1478.2,431.2L1479.2,430.7L1480.2,431.0L1481.2,432.6L1482.2,435.6L1483.2,440.8L1484.2,447.8L1485.2,457.4L1486.2,468.8L1487.2,483.6L1488.2,499.6L1489.2,515.4L1490.2,531.5L1491.2,547.6L1492.2,563.8L1493.2,579.9L1494.2,595.5L1495.2,610.5L1496.2,625.1L1497.2,639.2L1498.2,653.0L1499.2,666.3L1500.2,678.3L1501.2,689.6L1502.2,699.9L1503.2,709.1L1504.2,717.4L1505.2,725.0L1506.2,731.8L1507.2,738.2L1508.2,743.7L1509.2,748.4L1510.2,752.5L1511.2,756.1L1512.2,759.5L1513.2,762.6L1514.2,765.3L1515.2,767.6L1516.2,769.6L1517.2,771.3L1518.2,772.8L1519.2,774.2L1520.2,775.4L1521.2,776.2L1522.2,776.9L1523.2,777.5L1524.2,779.0M1558.2,779.0L1559.2,777.5L1560.2,776.2L1561.2,774.8L1562.2,773.1L1563.2,770.5L1564.2,767.4L1565.2,763.8L1566.2,759.9L1567.2,755.4L1568.2,750.2L1569.2,744.4L1570.2,738.2L1571.2,731.3L1572.2,723.6L1573.2,715.2L1574.2,706.6L1575.2,697.8L1576.2,688.2L1577.2,678.3L1578.2,668.8L1579.2,660.5L1580.2,652.9L1581.2,645.7L1582.2,639.2L1583.2,633.6L1584.2,628.9L1585.2,624.8L1586.2,621.1L1587.2,618.0L1588.2,615.4L1589.2,613.0L1590.2,610.9L1591.2,609.4L1592.2,608.5L1593.2,607.8L1594.2,607.5L1595.2,608.0L1596.2,609.3L1597.2,611.3L1598.2,613.7L1599.2,617.6L1600.2,623.3L1601.2,629.9L1602.2,636.5L1603.2,643.0L1604.2,650.2L1605.2,657.5L1606.2,664.0L1607.2,669.1L1608.2,673.7L1609.2,677.9L1610.2,681.3L1611.2,683.5L1612.2,685.0L1613.2,686.3L1614.2,687.0L1615.2,687.0L1616.2,686.1L1617.2,684.5L1618.2,682.7L1619.2,681.0L1620.2,678.9L1621.2,676.7L1622.2,674.8L1623.2,673.8L1624.2,673.1L1625.2,672.5L1626.2,672.1L1627.2,671.9L1628.2,672.2L1629.2,673.3L1630.2,674.8L1631.2,676.7L1632.2,678.8L1633.2,681.8L1634.2,685.5L1635.2,689.8L1636.2,694.1L1637.2,698.9L1638.2,704.3L1639.2,709.9L1640.2,715.5L1641.2,720.9L1642.2,726.5L1643.2,732.0L1644.2,737.3L1645.2,742.0L1646.2,746.4L1647.2,750.6L1648.2,754.4L1649.2,757.9L1650.2,761.1L1651.2,764.0L1652.2,766.7L1653.2,769.0L1654.2,770.8L1655.2,772.4L1656.2,773.8L1657.2,775.0L1658.2,775.9L1659.2,776.8L1660.2,779.0M1800.2,779.0L1801.2,777.5L1802.2,776.6L1803.2,775.5L1804.2,774.3L1805.2,772.7L1806.2,770.5L1807.2,767.9L1808.2,765.1L1809.2,761.9L1810.2,758.0L1811.2,753.5L1812.2,748.7L1813.2,743.5L1814.2,737.7L1815.2,731.3L1816.2,724.6L1817.2,717.9L1818.2,711.3L1819.2,704.5L1820.2,697.8L1821.2,691.1L1822.2,684.7L1823.2,678.3L1824.2,672.0L1825.2,666.1L1826.2,661.1L1827.2,656.6L1828.2,652.4L1829.2,648.9L1830.2,646.3L1831.2,644.0L1832.2,642.3L1833.2,641.6L1834.2,641.2L1835.2,641.2L1836.2,641.9L1837.2,643.2L1838.2,644.8L1839.2,647.5L1840.2,651.2L1841.2,655.4L1842.2,660.3L1843.2,666.4L1844.2,673.1L1845.2,679.8L1846.2,686.9L1847.2,694.4L1848.2,701.9L1849.2,709.3L1850.2,716.4L1851.2,723.4L1852.2,730.3L1853.2,736.7L1854.2,742.4L1855.2,747.7L1856.2,752.6L1857.2,757.1L1858.2,760.9L1859.2,764.2L1860.2,767.3L1861.2,770.0L1862.2,772.1L1863.2,773.7L1864.2,775.1L1865.2,776.4L1866.2,777.5L1867.2,779.0M1907.2,779.0L1908.2,777.7L1909.2,776.2L1910.2,774.4L1911.2,772.4L1912.2,770.0L1913.2,766.9L1914.2,763.2L1915.2,759.0L1916.2,754.1L1917.2,747.9L1918.2,740.9L1919.2,733.3L1920.2,725.4L1921.2,716.6L1922.2,707.1L1923.2,697.3L1924.2,687.5L1925.2,677.6L1926.2,667.3L1927.2,657.1L1928.2,647.3L1929.2,637.9L1930.2,628.7L1931.2,619.8L1932.2,611.5L1933.2,604.1L1934.2,597.3L1935.2,590.9L1936.2,585.1L1937.2,580.2L1938.2,576.1L1939.2,572.5L1940.2,569.2L1941.2,566.4L1942.2,563.8L1943.2,561.3L1944.2,559.1L1945.2,557.3L1946.2,556.2L1947.2,555.5L1948.2,554.9L1949.2,554.4L1950.2,554.2L1951.2,554.3L1952.2,554.6L1953.2,555.1L1954.2,555.8L1955.2,556.6L1956.2,558.1L1957.2,560.5L1958.2,563.3L1959.2,566.3L1960.2,569.6L1961.2,573.5L1962.2,578.0L1963.2,583.0L1964.2,588.6L1965.2,595.3L1966.2,602.7L1967.2,610.7L1968.2,618.9L1969.2,627.7L1970.2,637.1L1971.2,646.8L1972.2,656.4L1973.2,665.8L1974.2,675.4L1975.2,684.9L1976.2,694.1L1977.2,702.8L1978.2,711.5L1979.2,719.8L1980.2,727.7L1981.2,734.6L1982.2,740.9L1983.2,746.7L1984.2,752.0L1985.2,756.6L1986.2,760.4L1987.2,764.0L1988.2,767.2L1989.2,769.8L1990.2,771.8L1991.2,773.4L1992.2,774.9L1993.2,776.2L1994.2,777.3L1995.2,779.0M2018.2,779.0L2019.2,776.6L2020.2,775.2L2021.2,773.5L2022.2,770.8L2023.2,767.0L2024.2,762.7L2025.2,758.0L2026.2,752.6L2027.2,746.2L2028.2,739.1L2029.2,731.6L2030.2,723.6L2031.2,715.0L2032.2,705.6L2033.2,695.6L2034.2,685.0L2035.2,673.3L2036.2,660.7L2037.2,647.5L2038.2,634.0L2039.2,620.0L2040.2,605.4L2041.2,590.5L2042.2,575.5L2043.2,560.7L2044.2,545.9L2045.2,531.0L2046.2,516.4L2047.2,502.2L2048.2,488.2L2049.2,474.4L2050.2,461.1L2051.2,448.5L2052.2,436.7L2053.2,425.4L2054.2,414.7L2055.2,404.6L2056.2,395.3L2057.2,386.6L2058.2,378.4L2059.2,370.7L2060.2,363.6L2061.2,356.8L2062.2,350.3L2063.2,344.3L2064.2,338.9L2065.2,334.3L2066.2,330.0L2067.2,326.1L2068.2,322.8L2069.2,320.3L2070.2,318.3L2071.2,316.6L2072.2,315.3L2073.2,314.5L2074.2,314.0L2075.2,313.5L2076.2,313.3L2077.2,313.5L2078.2,314.2L2079.2,315.3L2080.2,316.7L2081.2,319.4L2082.2,323.4L2083.2,328.2L2084.2,334.0L2085.2,342.2L2086.2,352.2L2087.2,363.0L2088.2,375.0L2089.2,388.7L2090.2,403.5L2091.2,418.7L2092.2,434.9L2093.2,452.0L2094.2,469.5L2095.2,486.9L2096.2,504.7L2097.2,522.5L2098.2,539.6L2099.2,555.6L2100.2,571.0L2101.2,585.6L2102.2,599.1L2103.2,612.0L2104.2,623.9L2105.2,633.6L2106.2,642.1L2107.2,649.2L2108.2,653.6L2109.2,656.6L2110.2,658.5L2111.2,658.4L2112.2,656.6L2113.2,653.9L2114.2,650.4L2115.2,645.0L2116.2,639.5L2117.2,635.3L2118.2,631.5L2119.2,629.5" fill="none" stroke="#303030" stroke-width="2.4" stroke-linejoin="round" stroke-linecap="butt"/>
<path d="M212.8,1219.5L212.8,1208.3L213.8,1208.3L214.8,1208.3L215.8,1208.3L216.8,1208.3L217.8,1208.4L218.8,1208.5L219.8,1208.7L220.8,1209.0L221.8,1209.2L222.8,1209.5L223.8,1209.9L224.8,1210.4L225.8,1211.0L226.8,1211.7L227.8,1212.4L228.8,1213.1L229.8,1213.8L230.8,1214.4L231.8,1215.1L232.8,1215.8L233.8,1216.5L234.8,1217.1L235.8,1217.7L236.8,1218.1L237.8,1219.5L238.8,1219.5L239.8,1219.5L240.8,1219.5L241.8,1219.5L242.8,1219.5L243.8,1219.5L244.8,1219.5L245.8,1219.5L246.8,1219.5L247.8,1219.5L248.8,1219.5L249.8,1219.5L250.8,1219.5L251.8,1219.5L252.8,1219.5L253.8,1219.5L254.8,1219.5L255.8,1219.5L256.8,1219.5L257.8,1219.5L258.8,1219.5L259.8,1219.5L260.8,1219.5L261.8,1219.5L262.8,1219.5L263.8,1219.5L264.8,1219.5L265.8,1218.1L266.8,1217.4L267.8,1216.8L268.8,1216.1L269.8,1215.4L270.8,1214.7L271.8,1213.9L272.8,1213.0L273.8,1212.1L274.8,1211.2L275.8,1210.3L276.8,1209.4L277.8,1208.5L278.8,1207.5L279.8,1206.6L280.8,1205.7L281.8,1204.9L282.8,1204.3L283.8,1203.9L284.8,1203.5L285.8,1203.2L286.8,1202.9L287.8,1202.7L288.8,1202.6L289.8,1202.7L290.8,1202.9L291.8,1203.2L292.8,1203.5L293.8,1203.9L294.8,1204.3L295.8,1205.1L296.8,1206.0L297.8,1207.2L298.8,1208.4L299.8,1209.5L300.8,1210.5L301.8,1211.5L302.8,1212.5L303.8,1213.5L304.8,1214.5L305.8,1215.4L306.8,1216.1L307.8,1216.9L308.8,1217.7L309.8,1219.5L310.8,1219.5L311.8,1219.5L312.8,1219.5L313.8,1219.5L314.8,1219.5L315.8,1219.5L316.8,1219.5L317.8,1219.5L318.8,1219.5L319.8,1219.5L320.8,1219.5L321.8,1219.5L322.8,1219.5L323.8,1219.5L324.8,1219.5L325.8,1219.5L326.8,1219.5L327.8,1219.5L328.8,1219.5L329.8,1219.5L330.8,1219.5L331.8,1219.5L332.8,1219.5L333.8,1219.5L334.8,1219.5L335.8,1219.5L336.8,1219.5L337.8,1219.5L338.8,1219.5L339.8,1219.5L340.8,1219.5L341.8,1219.5L342.8,1219.5L343.8,1219.5L344.8,1219.5L345.8,1219.5L346.8,1219.5L347.8,1219.5L348.8,1219.5L349.8,1219.5L350.8,1219.5L351.8,1219.5L352.8,1219.5L353.8,1219.5L354.8,1219.5L355.8,1219.5L356.8,1219.5L357.8,1219.5L358.8,1219.5L359.8,1219.5L360.8,1219.5L361.8,1219.5L362.8,1219.5L363.8,1219.5L364.8,1219.5L365.8,1219.5L366.8,1219.5L367.8,1219.5L368.8,1219.5L369.8,1219.5L370.8,1219.5L371.8,1219.5L372.8,1219.5L373.8,1219.5L374.8,1219.5L375.8,1219.5L376.8,1219.5L377.8,1219.5L378.8,1219.5L379.8,1219.5L380.8,1219.5L381.8,1219.5L382.8,1219.5L383.8,1219.5L384.8,1219.5L385.8,1219.5L386.8,1219.5L387.8,1219.5L388.8,1219.5L389.8,1219.5L390.8,1219.5L391.8,1219.5L392.8,1219.5L393.8,1219.5L394.8,1219.5L395.8,1219.5L396.8,1219.5L397.8,1219.5L398.8,1219.5L399.8,1219.5L400.8,1219.5L401.8,1219.5L402.8,1219.5L403.8,1219.5L404.8,1219.5L405.8,1219.5L406.8,1219.5L407.8,1219.5L408.8,1219.5L409.8,1219.5L410.8,1219.5L411.8,1219.5L412.8,1219.5L413.8,1217.7L414.8,1216.9L415.8,1216.0L416.8,1215.1L417.8,1214.2L418.8,1213.1L419.8,1211.8L420.8,1210.4L421.8,1209.0L422.8,1207.5L423.8,1206.0L424.8,1204.5L425.8,1203.0L426.8,1201.4L427.8,1199.8L428.8,1198.1L429.8,1196.6L430.8,1195.1L431.8,1193.8L432.8,1192.7L433.8,1191.7L434.8,1190.8L435.8,1190.0L436.8,1189.5L437.8,1189.2L438.8,1188.9L439.8,1188.8L440.8,1188.9L441.8,1189.2L442.8,1189.6L443.8,1190.0L444.8,1190.7L445.8,1191.7L446.8,1192.9L447.8,1194.1L448.8,1195.4L449.8,1197.0L450.8,1198.7L451.8,1200.5L452.8,1202.3L453.8,1204.1L454.8,1205.7L455.8,1207.2L456.8,1208.7L457.8,1210.2L458.8,1211.7L459.8,1213.0L460.8,1214.2L461.8,1215.3L462.8,1216.2L463.8,1217.1L464.8,1218.0L465.8,1219.5L466.8,1219.5L467.8,1219.5L468.8,1219.5L469.8,1219.5L470.8,1219.5L471.8,1219.5L472.8,1219.5L473.8,1219.5L474.8,1219.5L475.8,1219.5L476.8,1219.5L477.8,1219.5L478.8,1219.5L479.8,1219.5L480.8,1219.5L481.8,1219.5L482.8,1219.5L483.8,1219.5L484.8,1218.2L485.8,1217.8L486.8,1217.4L487.8,1217.1L488.8,1216.8L489.8,1216.5L490.8,1216.1L491.8,1215.8L492.8,1215.4L493.8,1215.1L494.8,1214.9L495.8,1214.7L496.8,1214.5L497.8,1214.4L498.8,1214.2L499.8,1214.1L500.8,1214.0L501.8,1213.9L502.8,1213.9L503.8,1213.9L504.8,1213.9L505.8,1214.0L506.8,1214.2L507.8,1214.3L508.8,1214.5L509.8,1214.8L510.8,1215.0L511.8,1215.2L512.8,1215.5L513.8,1215.9L514.8,1216.3L515.8,1216.7L516.8,1217.1L517.8,1217.5L518.8,1217.7L519.8,1217.9L520.8,1218.2L521.8,1219.5L522.8,1219.5L523.8,1219.5L524.8,1219.5L525.8,1219.5L526.8,1219.5L527.8,1219.5L528.8,1217.9L529.8,1217.5L530.8,1217.1L531.8,1216.8L532.8,1216.5L533.8,1216.1L534.8,1215.8L535.8,1215.5L536.8,1215.1L537.8,1214.9L538.8,1214.7L539.8,1214.5L540.8,1214.4L541.8,1214.2L542.8,1214.1L543.8,1214.0L544.8,1213.9L545.8,1213.9L546.8,1213.9L547.8,1213.9L548.8,1214.0L549.8,1214.2L550.8,1214.3L551.8,1214.5L552.8,1214.7L553.8,1214.9L554.8,1215.2L555.8,1215.5L556.8,1215.9L557.8,1216.3L558.8,1216.7L559.8,1217.1L560.8,1217.4L561.8,1217.7L562.8,1218.0L563.8,1219.5L564.8,1219.5L565.8,1219.5L566.8,1219.5L567.8,1219.5L568.8,1219.5L569.8,1219.5L570.8,1219.5L571.8,1219.5L572.8,1219.5L573.8,1219.5L574.8,1219.5L575.8,1219.5L576.8,1219.5L577.8,1219.5L578.8,1219.5L579.8,1219.5L580.8,1219.5L581.8,1218.0L582.8,1217.4L583.8,1216.9L584.8,1216.3L585.8,1215.8L586.8,1215.3L587.8,1214.8L588.8,1214.3L589.8,1213.7L590.8,1213.2L591.8,1212.7L592.8,1212.2L593.8,1211.8L594.8,1211.4L595.8,1211.1L596.8,1210.8L597.8,1210.5L598.8,1210.3L599.8,1210.0L600.8,1209.8L601.8,1209.6L602.8,1209.5L603.8,1209.4L604.8,1209.4L605.8,1209.4L606.8,1209.5L607.8,1209.6L608.8,1209.8L609.8,1210.0L610.8,1210.2L611.8,1210.4L612.8,1210.7L613.8,1211.0L614.8,1211.5L615.8,1212.0L616.8,1212.5L617.8,1213.1L618.8,1213.6L619.8,1214.2L620.8,1214.7L621.8,1215.1L622.8,1215.6L623.8,1216.1L624.8,1216.5L625.8,1217.0L626.8,1217.4L627.8,1217.8L628.8,1218.2L629.8,1219.5L630.8,1219.5L631.8,1219.5L632.8,1219.5L633.8,1219.5L634.8,1219.5L635.8,1219.5L636.8,1219.5L637.8,1219.5L638.8,1219.5L639.8,1219.5L640.8,1219.5L641.8,1219.5L642.8,1219.5L643.8,1219.5L644.8,1219.5L645.8,1219.5L646.8,1219.5L647.8,1219.5L648.8,1219.5L649.8,1219.5L650.8,1219.5L651.8,1219.5L652.8,1219.5L653.8,1219.5L654.8,1219.5L655.8,1219.5L656.8,1217.8L657.8,1216.9L658.8,1215.9L659.8,1214.9L660.8,1213.9L661.8,1212.7L662.8,1211.3L663.8,1209.8L664.8,1208.2L665.8,1206.7L666.8,1205.1L667.8,1203.4L668.8,1201.7L669.8,1199.9L670.8,1198.1L671.8,1196.5L672.8,1195.2L673.8,1194.0L674.8,1192.9L675.8,1191.8L676.8,1191.0L677.8,1190.2L678.8,1189.7L679.8,1189.3L680.8,1189.0L681.8,1188.8L682.8,1188.8L683.8,1189.0L684.8,1189.4L685.8,1189.8L686.8,1190.4L687.8,1191.4L688.8,1192.5L689.8,1193.8L690.8,1195.1L691.8,1196.5L692.8,1198.1L693.8,1199.8L694.8,1201.6L695.8,1203.4L696.8,1205.1L697.8,1206.8L698.8,1208.4L699.8,1210.1L700.8,1211.7L701.8,1213.3L702.8,1214.6L703.8,1215.6L704.8,1216.5L705.8,1217.3L706.8,1218.1L707.8,1219.5L708.8,1219.5L709.8,1219.5L710.8,1219.5L711.8,1219.5L712.8,1219.5L713.8,1219.5L714.8,1219.5L715.8,1219.5L716.8,1219.5L717.8,1219.5L718.8,1219.5L719.8,1219.5L720.8,1219.5L721.8,1219.5L722.8,1219.5L723.8,1219.5L724.8,1219.5L725.8,1219.5L726.8,1219.5L727.8,1219.5L728.8,1217.9L729.8,1217.6L730.8,1217.2L731.8,1216.9L732.8,1216.7L733.8,1216.5L734.8,1216.3L735.8,1216.1L736.8,1216.0L737.8,1215.8L738.8,1215.8L739.8,1215.8L740.8,1215.8L741.8,1215.9L742.8,1216.1L743.8,1216.2L744.8,1216.4L745.8,1216.6L746.8,1216.8L747.8,1217.0L748.8,1217.3L749.8,1217.6L750.8,1217.9L751.8,1219.5L752.8,1219.5L753.8,1219.5L754.8,1219.5L755.8,1219.5L756.8,1219.5L757.8,1219.5L758.8,1219.5L759.8,1219.5L760.8,1219.5L761.8,1219.5L762.8,1219.5L763.8,1219.5L764.8,1218.1L765.8,1217.7L766.8,1217.1L767.8,1216.5L768.8,1215.7L769.8,1215.0L770.8,1214.3L771.8,1213.6L772.8,1212.9L773.8,1212.1L774.8,1211.3L775.8,1210.5L776.8,1209.7L777.8,1209.0L778.8,1208.3L779.8,1207.7L780.8,1207.1L781.8,1206.5L782.8,1206.0L783.8,1205.5L784.8,1205.1L785.8,1204.7L786.8,1204.4L787.8,1204.1L788.8,1203.8L789.8,1203.6L790.8,1203.5L791.8,1203.4L792.8,1203.4L793.8,1203.5L794.8,1203.6L795.8,1203.8L796.8,1203.9L797.8,1204.0L798.8,1204.1L799.8,1204.1L800.8,1204.1L801.8,1204.1L802.8,1204.1L803.8,1204.1L804.8,1204.1L805.8,1204.0L806.8,1203.5L807.8,1202.7L808.8,1201.7L809.8,1200.6L810.8,1199.6L811.8,1198.4L812.8,1197.0L813.8,1195.5L814.8,1193.9L815.8,1192.2L816.8,1190.7L817.8,1188.9L818.8,1187.1L819.8,1185.3L820.8,1183.7L821.8,1182.2L822.8,1181.0L823.8,1179.7L824.8,1178.5L825.8,1177.5L826.8,1176.8L827.8,1176.3L828.8,1176.0L829.8,1175.8L830.8,1175.7L831.8,1175.7L832.8,1175.9L833.8,1176.4L834.8,1177.0L835.8,1177.7L836.8,1178.5L837.8,1179.4L838.8,1180.3L839.8,1181.6L840.8,1183.2L841.8,1185.1L842.8,1187.1L843.8,1189.1L844.8,1191.1L845.8,1192.8L846.8,1194.2L847.8,1195.6L848.8,1196.9L849.8,1198.2L850.8,1199.4L851.8,1200.6L852.8,1201.7L853.8,1202.8L854.8,1203.8L855.8,1204.8L856.8,1205.7L857.8,1206.6L858.8,1207.5L859.8,1208.3L860.8,1209.1L861.8,1209.9L862.8,1210.6L863.8,1211.3L864.8,1212.0L865.8,1212.6L866.8,1213.3L867.8,1214.0L868.8,1214.7L869.8,1215.3L870.8,1215.9L871.8,1216.5L872.8,1217.0L873.8,1217.5L874.8,1217.9L875.8,1219.5L876.8,1219.5L877.8,1219.5L878.8,1219.5L879.8,1219.5L880.8,1219.5L881.8,1219.5L882.8,1219.5L883.8,1219.5L884.8,1219.5L885.8,1219.5L886.8,1219.5L887.8,1219.5L888.8,1219.5L889.8,1219.5L890.8,1219.5L891.8,1219.5L892.8,1219.5L893.8,1219.5L894.8,1219.5L895.8,1219.5L896.8,1219.5L897.8,1219.5L898.8,1219.5L899.8,1219.5L900.8,1219.5L901.8,1219.5L902.8,1219.5L903.8,1219.5L904.8,1219.5L905.8,1219.5L906.8,1219.5L907.8,1219.5L908.8,1218.1L909.8,1218.1L910.8,1218.0L911.8,1217.9L912.8,1217.8L913.8,1217.7L914.8,1217.6L915.8,1217.5L916.8,1217.4L917.8,1217.3L918.8,1217.2L919.8,1217.1L920.8,1217.0L921.8,1216.9L922.8,1216.8L923.8,1216.7L924.8,1216.6L925.8,1216.5L926.8,1216.3L927.8,1216.2L928.8,1216.1L929.8,1216.0L930.8,1215.9L931.8,1215.8L932.8,1215.7L933.8,1215.6L934.8,1215.5L935.8,1215.4L936.8,1215.3L937.8,1215.2L938.8,1215.1L939.8,1215.0L940.8,1214.9L941.8,1214.7L942.8,1214.6L943.8,1214.5L944.8,1214.4L945.8,1214.3L946.8,1214.2L947.8,1214.1L948.8,1213.9L949.8,1213.8L950.8,1213.7L951.8,1213.6L952.8,1213.4L953.8,1213.3L954.8,1213.1L955.8,1213.0L956.8,1212.8L957.8,1212.6L958.8,1212.4L959.8,1212.2L960.8,1212.0L961.8,1211.8L962.8,1211.6L963.8,1211.4L964.8,1211.2L965.8,1211.0L966.8,1210.7L967.8,1210.5L968.8,1210.3L969.8,1210.1L970.8,1209.9L971.8,1209.7L972.8,1209.5L973.8,1209.3L974.8,1209.1L975.8,1208.8L976.8,1208.6L977.8,1208.4L978.8,1208.2L979.8,1208.0L980.8,1207.8L981.8,1207.6L982.8,1207.4L983.8,1207.3L984.8,1207.1L985.8,1207.0L986.8,1206.8L987.8,1206.7L988.8,1206.5L989.8,1206.4L990.8,1206.2L991.8,1206.1L992.8,1206.0L993.8,1206.0L994.8,1206.0L995.8,1206.1L996.8,1206.1L997.8,1206.2L998.8,1206.3L999.8,1206.5L1000.8,1206.6L1001.8,1206.8L1002.8,1206.9L1003.8,1207.1L1004.8,1207.2L1005.8,1207.3L1006.8,1207.5L1007.8,1207.6L1008.8,1207.7L1009.8,1207.8L1010.8,1207.9L1011.8,1207.9L1012.8,1208.0L1013.8,1208.1L1014.8,1208.2L1015.8,1208.3L1016.8,1208.3L1017.8,1208.4L1018.8,1208.5L1019.8,1208.6L1020.8,1208.7L1021.8,1208.8L1022.8,1208.9L1023.8,1209.1L1024.8,1209.2L1025.8,1209.4L1026.8,1209.5L1027.8,1209.8L1028.8,1210.1L1029.8,1210.4L1030.8,1210.8L1031.8,1211.2L1032.8,1211.5L1033.8,1211.9L1034.8,1212.3L1035.8,1212.7L1036.8,1213.0L1037.8,1213.3L1038.8,1213.6L1039.8,1213.9L1040.8,1214.2L1041.8,1214.5L1042.8,1214.8L1043.8,1215.1L1044.8,1215.4L1045.8,1215.6L1046.8,1215.8L1047.8,1216.0L1048.8,1216.2L1049.8,1216.3L1050.8,1216.5L1051.8,1216.6L1052.8,1216.8L1053.8,1216.9L1054.8,1217.1L1055.8,1217.2L1056.8,1217.3L1057.8,1217.5L1058.8,1217.6L1059.8,1217.7L1060.8,1217.8L1061.8,1217.9L1062.8,1218.0L1063.8,1218.1L1064.8,1218.2L1065.8,1219.5L1066.8,1219.5L1067.8,1219.5L1068.8,1219.5L1069.8,1219.5L1070.8,1219.5L1071.8,1219.5L1072.8,1219.5L1073.8,1219.5L1074.8,1218.1L1075.8,1218.0L1076.8,1217.9L1077.8,1217.7L1078.8,1217.5L1079.8,1217.3L1080.8,1217.2L1081.8,1217.0L1082.8,1216.7L1083.8,1216.4L1084.8,1216.1L1085.8,1215.7L1086.8,1215.2L1087.8,1214.7L1088.8,1214.2L1089.8,1213.7L1090.8,1213.2L1091.8,1212.7L1092.8,1212.3L1093.8,1211.8L1094.8,1211.4L1095.8,1211.0L1096.8,1210.5L1097.8,1210.1L1098.8,1209.6L1099.8,1209.2L1100.8,1208.9L1101.8,1208.5L1102.8,1208.3L1103.8,1208.0L1104.8,1207.7L1105.8,1207.5L1106.8,1207.3L1107.8,1207.2L1108.8,1207.2L1109.8,1207.3L1110.8,1207.6L1111.8,1208.0L1112.8,1208.5L1113.8,1209.0L1114.8,1209.6L1115.8,1210.1L1116.8,1210.6L1117.8,1211.2L1118.8,1211.9L1119.8,1212.6L1120.8,1213.3L1121.8,1214.0L1122.8,1214.6L1123.8,1215.2L1124.8,1215.6L1125.8,1215.9L1126.8,1216.2L1127.8,1216.5L1128.8,1216.8L1129.8,1217.0L1130.8,1217.2L1131.8,1217.4L1132.8,1217.5L1133.8,1217.6L1134.8,1217.6L1135.8,1217.5L1136.8,1217.3L1137.8,1216.9L1138.8,1216.4L1139.8,1215.9L1140.8,1215.4L1141.8,1214.9L1142.8,1214.4L1143.8,1214.0L1144.8,1213.6L1145.8,1213.1L1146.8,1212.7L1147.8,1212.3L1148.8,1211.9L1149.8,1211.5L1150.8,1211.1L1151.8,1210.8L1152.8,1210.6L1153.8,1210.4L1154.8,1210.3L1155.8,1210.2L1156.8,1210.0L1157.8,1209.9L1158.8,1209.8L1159.8,1209.8L1160.8,1209.8L1161.8,1209.8L1162.8,1209.9L1163.8,1210.1L1164.8,1210.3L1165.8,1210.5L1166.8,1210.8L1167.8,1211.1L1168.8,1211.4L1169.8,1211.8L1170.8,1212.3L1171.8,1212.8L1172.8,1213.4L1173.8,1214.0L1174.8,1214.6L1175.8,1215.2L1176.8,1215.7L1177.8,1216.2L1178.8,1216.6L1179.8,1217.1L1180.8,1217.6L1181.8,1218.0L1182.8,1219.5L1183.8,1219.5L1184.8,1219.5L1185.8,1219.5L1186.8,1219.5L1187.8,1219.5L1188.8,1219.5L1189.8,1219.5L1190.8,1219.5L1191.8,1219.5L1192.8,1219.5L1193.8,1219.5L1194.8,1219.5L1195.8,1219.5L1196.8,1219.5L1197.8,1219.5L1198.8,1219.5L1199.8,1219.5L1200.8,1219.5L1201.8,1219.5L1202.8,1219.5L1203.8,1219.5L1204.8,1219.5L1205.8,1219.5L1206.8,1219.5L1207.8,1219.5L1208.8,1219.5L1209.8,1219.5L1210.8,1219.5L1211.8,1219.5L1212.8,1219.5L1213.8,1219.5L1214.8,1219.5L1215.8,1219.5L1216.8,1219.5L1217.8,1219.5L1218.8,1219.5L1219.8,1219.5L1220.8,1219.5L1221.8,1219.5L1222.8,1219.5L1223.8,1219.5L1224.8,1219.5L1225.8,1219.5L1226.8,1219.5L1227.8,1219.5L1228.8,1219.5L1229.8,1219.5L1230.8,1219.5L1231.8,1219.5L1232.8,1219.5L1233.8,1219.5L1234.8,1219.5L1235.8,1219.5L1236.8,1219.5L1237.8,1219.5L1238.8,1219.5L1239.8,1219.5L1240.8,1219.5L1241.8,1219.5L1242.8,1219.5L1243.8,1219.5L1244.8,1219.5L1245.8,1219.5L1246.8,1219.5L1247.8,1219.5L1248.8,1219.5L1249.8,1219.5L1250.8,1219.5L1251.8,1219.5L1252.8,1219.5L1253.8,1219.5L1254.8,1219.5L1255.8,1219.5L1256.8,1219.5L1257.8,1219.5L1258.8,1219.5L1259.8,1219.5L1260.8,1219.5L1261.8,1219.5L1262.8,1219.5L1263.8,1219.5L1264.8,1219.5L1265.8,1219.5L1266.8,1219.5L1267.8,1219.5L1268.8,1219.5L1269.8,1219.5L1270.8,1219.5L1271.8,1219.5L1272.8,1219.5L1273.8,1219.5L1274.8,1219.5L1275.8,1219.5L1276.8,1219.5L1277.8,1219.5L1278.8,1219.5L1279.8,1219.5L1280.8,1219.5L1281.8,1219.5L1282.8,1219.5L1283.8,1219.5L1284.8,1219.5L1285.8,1219.5L1286.8,1219.5L1287.8,1219.5L1288.8,1219.5L1289.8,1219.5L1290.8,1219.5L1291.8,1219.5L1292.8,1219.5L1293.8,1219.5L1294.8,1219.5L1295.8,1219.5L1296.8,1219.5L1297.8,1219.5L1298.8,1219.5L1299.8,1219.5L1300.8,1219.5L1301.8,1219.5L1302.8,1219.5L1303.8,1219.5L1304.8,1219.5L1305.8,1219.5L1306.8,1219.5L1307.8,1219.5L1308.8,1219.5L1309.8,1219.5L1310.8,1219.5L1311.8,1219.5L1312.8,1217.9L1313.8,1217.0L1314.8,1216.0L1315.8,1215.0L1316.8,1213.9L1317.8,1212.7L1318.8,1211.1L1319.8,1209.4L1320.8,1207.5L1321.8,1205.5L1322.8,1203.6L1323.8,1201.7L1324.8,1199.9L1325.8,1198.1L1326.8,1196.2L1327.8,1194.3L1328.8,1192.5L1329.8,1190.8L1330.8,1189.1L1331.8,1187.6L1332.8,1186.2L1333.8,1184.9L1334.8,1183.7L1335.8,1183.0L1336.8,1182.4L1337.8,1182.1L1338.8,1182.1L1339.8,1182.4L1340.8,1183.0L1341.8,1183.6L1342.8,1184.7L1343.8,1186.0L1344.8,1187.5L1345.8,1189.1L1346.8,1191.0L1347.8,1193.0L1348.8,1195.2L1349.8,1197.4L1350.8,1199.6L1351.8,1201.6L1352.8,1203.3L1353.8,1205.1L1354.8,1206.8L1355.8,1208.5L1356.8,1210.1L1357.8,1211.6L1358.8,1212.8L1359.8,1213.8L1360.8,1214.6L1361.8,1215.4L1362.8,1216.2L1363.8,1217.0L1364.8,1217.6L1365.8,1218.2L1366.8,1219.5L1367.8,1219.5L1368.8,1219.5L1369.8,1219.5L1370.8,1219.5L1371.8,1219.5L1372.8,1219.5L1373.8,1219.5L1374.8,1219.5L1375.8,1219.5L1376.8,1219.5L1377.8,1219.5L1378.8,1219.5L1379.8,1219.5L1380.8,1219.5L1381.8,1219.5L1382.8,1219.5L1383.8,1218.1L1384.8,1217.5L1385.8,1216.8L1386.8,1216.1L1387.8,1215.3L1388.8,1214.6L1389.8,1213.9L1390.8,1213.3L1391.8,1212.5L1392.8,1211.8L1393.8,1211.0L1394.8,1210.2L1395.8,1209.4L1396.8,1208.6L1397.8,1208.0L1398.8,1207.4L1399.8,1206.9L1400.8,1206.4L1401.8,1205.9L1402.8,1205.5L1403.8,1205.2L1404.8,1204.9L1405.8,1204.7L1406.8,1204.4L1407.8,1204.3L1408.8,1204.2L1409.8,1204.2L1410.8,1204.3L1411.8,1204.5L1412.8,1204.8L1413.8,1205.1L1414.8,1205.5L1415.8,1206.3L1416.8,1207.2L1417.8,1208.1L1418.8,1208.9L1419.8,1209.6L1420.8,1210.3L1421.8,1211.0L1422.8,1211.7L1423.8,1212.4L1424.8,1213.1L1425.8,1213.7L1426.8,1214.3L1427.8,1214.9L1428.8,1215.6L1429.8,1216.3L1430.8,1216.9L1431.8,1217.6L1432.8,1219.5L1433.8,1219.5L1434.8,1219.5L1435.8,1219.5L1436.8,1219.5L1437.8,1219.5L1438.8,1219.5L1439.8,1219.5L1440.8,1219.5L1441.8,1219.5L1442.8,1219.5L1443.8,1219.5L1444.8,1219.5L1445.8,1219.5L1446.8,1219.5L1447.8,1219.5L1448.8,1219.5L1449.8,1219.5L1450.8,1219.5L1451.8,1219.5L1452.8,1219.5L1453.8,1219.5L1454.8,1219.5L1455.8,1219.5L1456.8,1219.5L1457.8,1219.5L1458.8,1219.5L1459.8,1219.5L1460.8,1219.5L1461.8,1219.5L1462.8,1219.5L1463.8,1219.5L1464.8,1219.5L1465.8,1219.5L1466.8,1219.5L1467.8,1219.5L1468.8,1219.5L1469.8,1219.5L1470.8,1219.5L1471.8,1219.5L1472.8,1219.5L1473.8,1219.5L1474.8,1219.5L1475.8,1219.5L1476.8,1219.5L1477.8,1219.5L1478.8,1219.5L1479.8,1219.5L1480.8,1219.5L1481.8,1219.5L1482.8,1219.5L1483.8,1219.5L1484.8,1219.5L1485.8,1219.5L1486.8,1219.5L1487.8,1219.5L1488.8,1219.5L1489.8,1219.5L1490.8,1219.5L1491.8,1219.5L1492.8,1219.5L1493.8,1219.5L1494.8,1219.5L1495.8,1219.5L1496.8,1219.5L1497.8,1219.5L1498.8,1219.5L1499.8,1219.5L1500.8,1219.5L1501.8,1219.5L1502.8,1219.5L1503.8,1219.5L1504.8,1219.5L1505.8,1219.5L1506.8,1219.5L1507.8,1219.5L1508.8,1219.5L1509.8,1219.5L1510.8,1219.5L1511.8,1219.5L1512.8,1219.5L1513.8,1219.5L1514.8,1219.5L1515.8,1219.5L1516.8,1219.5L1517.8,1219.5L1518.8,1219.5L1519.8,1219.5L1520.8,1219.5L1521.8,1219.5L1522.8,1219.5L1523.8,1219.5L1524.8,1219.5L1525.8,1219.5L1526.8,1219.5L1527.8,1219.5L1528.8,1219.5L1529.8,1219.5L1530.8,1219.5L1531.8,1219.5L1532.8,1219.5L1533.8,1219.5L1534.8,1219.5L1535.8,1219.5L1536.8,1219.5L1537.8,1219.5L1538.8,1219.5L1539.8,1219.5L1540.8,1219.5L1541.8,1219.5L1542.8,1219.5L1543.8,1219.5L1544.8,1219.5L1545.8,1219.5L1546.8,1219.5L1547.8,1219.5L1548.8,1219.5L1549.8,1219.5L1550.8,1219.5L1551.8,1219.5L1552.8,1219.5L1553.8,1219.5L1554.8,1219.5L1555.8,1219.5L1556.8,1219.5L1557.8,1219.5L1558.8,1219.5L1559.8,1219.5L1560.8,1219.5L1561.8,1219.5L1562.8,1219.5L1563.8,1219.5L1564.8,1219.5L1565.8,1219.5L1566.8,1219.5L1567.8,1219.5L1568.8,1219.5L1569.8,1219.5L1570.8,1219.5L1571.8,1219.5L1572.8,1219.5L1573.8,1219.5L1574.8,1219.5L1575.8,1219.5L1576.8,1219.5L1577.8,1219.5L1578.8,1219.5L1579.8,1219.5L1580.8,1219.5L1581.8,1219.5L1582.8,1219.5L1583.8,1219.5L1584.8,1219.5L1585.8,1219.5L1586.8,1219.5L1587.8,1219.5L1588.8,1219.5L1589.8,1219.5L1590.8,1219.5L1591.8,1219.5L1592.8,1219.5L1593.8,1219.5L1594.8,1219.5L1595.8,1219.5L1596.8,1219.5L1597.8,1217.7L1598.8,1216.8L1599.8,1215.7L1600.8,1214.7L1601.8,1213.6L1602.8,1212.4L1603.8,1210.9L1604.8,1209.2L1605.8,1207.3L1606.8,1205.4L1607.8,1203.3L1608.8,1201.3L1609.8,1199.2L1610.8,1196.8L1611.8,1194.3L1612.8,1191.7L1613.8,1189.1L1614.8,1186.4L1615.8,1183.9L1616.8,1181.4L1617.8,1178.9L1618.8,1176.2L1619.8,1173.7L1620.8,1171.4L1621.8,1169.5L1622.8,1168.0L1623.8,1166.7L1624.8,1165.6L1625.8,1164.9L1626.8,1164.3L1627.8,1164.0L1628.8,1164.2L1629.8,1164.5L1630.8,1165.1L1631.8,1166.2L1632.8,1167.9L1633.8,1169.6L1634.8,1171.6L1635.8,1173.9L1636.8,1176.3L1637.8,1178.9L1638.8,1181.5L1639.8,1184.1L1640.8,1186.8L1641.8,1189.7L1642.8,1192.7L1643.8,1195.6L1644.8,1198.4L1645.8,1200.9L1646.8,1203.3L1647.8,1205.6L1648.8,1207.9L1649.8,1210.1L1650.8,1212.2L1651.8,1214.0L1652.8,1215.6L1653.8,1216.7L1654.8,1217.5L1655.8,1219.5L1656.8,1219.5L1657.8,1219.5L1658.8,1219.5L1659.8,1219.5L1660.8,1219.5L1661.8,1219.5L1662.8,1219.5L1663.8,1219.5L1664.8,1219.5L1665.8,1219.5L1666.8,1219.5L1667.8,1219.5L1668.8,1219.5L1669.8,1219.5L1670.8,1219.5L1671.8,1219.5L1672.8,1219.5L1673.8,1219.5L1674.8,1219.5L1675.8,1219.5L1676.8,1219.5L1677.8,1219.5L1678.8,1219.5L1679.8,1219.5L1680.8,1219.5L1681.8,1219.5L1682.8,1219.5L1683.8,1219.5L1684.8,1219.5L1685.8,1219.5L1686.8,1219.5L1687.8,1219.5L1688.8,1219.5L1689.8,1219.5L1690.8,1219.5L1691.8,1219.5L1692.8,1219.5L1693.8,1219.5L1694.8,1219.5L1695.8,1219.5L1696.8,1219.5L1697.8,1219.5L1698.8,1219.5L1699.8,1219.5L1700.8,1219.5L1701.8,1219.5L1702.8,1219.5L1703.8,1219.5L1704.8,1219.5L1705.8,1219.5L1706.8,1219.5L1707.8,1219.5L1708.8,1219.5L1709.8,1219.5L1710.8,1219.5L1711.8,1219.5L1712.8,1219.5L1713.8,1219.5L1714.8,1219.5L1715.8,1219.5L1716.8,1219.5L1717.8,1219.5L1718.8,1219.5L1719.8,1219.5L1720.8,1219.5L1721.8,1219.5L1722.8,1219.5L1723.8,1219.5L1724.8,1219.5L1725.8,1219.5L1726.8,1219.5L1727.8,1219.5L1728.8,1219.5L1729.8,1219.5L1730.8,1219.5L1731.8,1219.5L1732.8,1219.5L1733.8,1219.5L1734.8,1219.5L1735.8,1219.5L1736.8,1219.5L1737.8,1219.5L1738.8,1219.5L1739.8,1219.5L1740.8,1219.5L1741.8,1219.5L1742.8,1219.5L1743.8,1219.5L1744.8,1219.5L1745.8,1219.5L1746.8,1219.5L1747.8,1219.5L1748.8,1219.5L1749.8,1219.5L1750.8,1219.5L1751.8,1219.5L1752.8,1219.5L1753.8,1219.5L1754.8,1219.5L1755.8,1219.5L1756.8,1219.5L1757.8,1219.5L1758.8,1219.5L1759.8,1219.5L1760.8,1219.5L1761.8,1219.5L1762.8,1219.5L1763.8,1219.5L1764.8,1219.5L1765.8,1219.5L1766.8,1219.5L1767.8,1219.5L1768.8,1219.5L1769.8,1219.5L1770.8,1219.5L1771.8,1219.5L1772.8,1219.5L1773.8,1219.5L1774.8,1219.5L1775.8,1219.5L1776.8,1219.5L1777.8,1219.5L1778.8,1219.5L1779.8,1219.5L1780.8,1219.5L1781.8,1219.5L1782.8,1219.5L1783.8,1219.5L1784.8,1219.5L1785.8,1219.5L1786.8,1219.5L1787.8,1219.5L1788.8,1219.5L1789.8,1219.5L1790.8,1219.5L1791.8,1219.5L1792.8,1219.5L1793.8,1219.5L1794.8,1219.5L1795.8,1219.5L1796.8,1219.5L1797.8,1219.5L1798.8,1219.5L1799.8,1219.5L1800.8,1219.5L1801.8,1219.5L1802.8,1219.5L1803.8,1219.5L1804.8,1219.5L1805.8,1219.5L1806.8,1219.5L1807.8,1219.5L1808.8,1219.5L1809.8,1219.5L1810.8,1219.5L1811.8,1219.5L1812.8,1219.5L1813.8,1219.5L1814.8,1219.5L1815.8,1219.5L1816.8,1219.5L1817.8,1219.5L1818.8,1219.5L1819.8,1219.5L1820.8,1219.5L1821.8,1219.5L1822.8,1219.5L1823.8,1219.5L1824.8,1219.5L1825.8,1219.5L1826.8,1219.5L1827.8,1219.5L1828.8,1219.5L1829.8,1219.5L1830.8,1219.5L1831.8,1219.5L1832.8,1219.5L1833.8,1219.5L1834.8,1219.5L1835.8,1219.5L1836.8,1219.5L1837.8,1219.5L1838.8,1219.5L1839.8,1219.5L1840.8,1219.5L1841.8,1219.5L1842.8,1219.5L1843.8,1219.5L1844.8,1219.5L1845.8,1219.5L1846.8,1219.5L1847.8,1219.5L1848.8,1219.5L1849.8,1219.5L1850.8,1219.5L1851.8,1219.5L1852.8,1219.5L1853.8,1219.5L1854.8,1219.5L1855.8,1219.5L1856.8,1219.5L1857.8,1219.5L1858.8,1219.5L1859.8,1219.5L1860.8,1219.5L1861.8,1219.5L1862.8,1219.5L1863.8,1219.5L1864.8,1219.5L1865.8,1219.5L1866.8,1219.5L1867.8,1219.5L1868.8,1219.5L1869.8,1219.5L1870.8,1219.5L1871.8,1219.5L1872.8,1219.5L1873.8,1219.5L1874.8,1219.5L1875.8,1219.5L1876.8,1219.5L1877.8,1219.5L1878.8,1219.5L1879.8,1219.5L1880.8,1219.5L1881.8,1219.5L1882.8,1219.5L1883.8,1219.5L1884.8,1219.5L1885.8,1219.5L1886.8,1219.5L1887.8,1219.5L1888.8,1219.5L1889.8,1219.5L1890.8,1219.5L1891.8,1219.5L1892.8,1219.5L1893.8,1219.5L1894.8,1219.5L1895.8,1219.5L1896.8,1219.5L1897.8,1219.5L1898.8,1219.5L1899.8,1219.5L1900.8,1219.5L1901.8,1219.5L1902.8,1219.5L1903.8,1219.5L1904.8,1219.5L1905.8,1219.5L1906.8,1219.5L1907.8,1219.5L1908.8,1219.5L1909.8,1219.5L1910.8,1219.5L1911.8,1219.5L1912.8,1219.5L1913.8,1219.5L1914.8,1219.5L1915.8,1219.5L1916.8,1219.5L1917.8,1219.5L1918.8,1219.5L1919.8,1219.5L1920.8,1219.5L1921.8,1219.5L1922.8,1219.5L1923.8,1219.5L1924.8,1219.5L1925.8,1219.5L1926.8,1219.5L1927.8,1219.5L1928.8,1219.5L1929.8,1219.5L1930.8,1219.5L1931.8,1219.5L1932.8,1219.5L1933.8,1219.5L1934.8,1219.5L1935.8,1219.5L1936.8,1219.5L1937.8,1219.5L1938.8,1219.5L1939.8,1219.5L1940.8,1219.5L1941.8,1219.5L1942.8,1219.5L1943.8,1219.5L1944.8,1219.5L1945.8,1219.5L1946.8,1219.5L1947.8,1219.5L1948.8,1219.5L1949.8,1219.5L1950.8,1219.5L1951.8,1219.5L1952.8,1219.5L1953.8,1219.5L1954.8,1219.5L1955.8,1219.5L1956.8,1219.5L1957.8,1219.5L1958.8,1219.5L1959.8,1219.5L1960.8,1219.5L1961.8,1219.5L1962.8,1219.5L1963.8,1219.5L1964.8,1219.5L1965.8,1219.5L1966.8,1219.5L1967.8,1219.5L1968.8,1219.5L1969.8,1219.5L1970.8,1219.5L1971.8,1219.5L1972.8,1219.5L1973.8,1219.5L1974.8,1219.5L1975.8,1219.5L1976.8,1219.5L1977.8,1219.5L1978.8,1219.5L1979.8,1219.5L1980.8,1219.5L1981.8,1219.5L1982.8,1219.5L1983.8,1219.5L1984.8,1219.5L1985.8,1219.5L1986.8,1219.5L1987.8,1219.5L1988.8,1219.5L1989.8,1219.5L1990.8,1219.5L1991.8,1219.5L1992.8,1219.5L1993.8,1219.5L1994.8,1219.5L1995.8,1219.5L1996.8,1219.5L1997.8,1219.5L1998.8,1219.5L1999.8,1219.5L2000.8,1219.5L2001.8,1219.5L2002.8,1219.5L2003.8,1219.5L2004.8,1219.5L2005.8,1219.5L2006.8,1219.5L2007.8,1219.5L2008.8,1219.5L2009.8,1219.5L2010.8,1219.5L2011.8,1219.5L2012.8,1219.5L2013.8,1219.5L2014.8,1219.5L2015.8,1219.5L2016.8,1219.5L2017.8,1219.5L2018.8,1219.5L2019.8,1219.5L2020.8,1219.5L2021.8,1219.5L2022.8,1219.5L2023.8,1219.5L2024.8,1219.5L2025.8,1219.5L2026.8,1219.5L2027.8,1219.5L2028.8,1219.5L2029.8,1219.5L2030.8,1219.5L2031.8,1219.5L2032.8,1219.5L2033.8,1219.5L2034.8,1219.5L2035.8,1219.5L2036.8,1219.5L2037.8,1219.5L2038.8,1219.5L2039.8,1219.5L2040.8,1219.5L2041.8,1219.5L2042.8,1219.5L2043.8,1219.5L2044.8,1219.5L2045.8,1219.5L2046.8,1219.5L2047.8,1219.5L2048.8,1219.5L2049.8,1219.5L2050.8,1219.5L2051.8,1219.5L2052.8,1219.5L2053.8,1219.5L2054.8,1219.5L2055.8,1219.5L2056.8,1219.5L2057.8,1218.0L2058.8,1217.8L2059.8,1217.4L2060.8,1217.0L2061.8,1216.6L2062.8,1216.1L2063.8,1215.7L2064.8,1215.2L2065.8,1214.8L2066.8,1214.4L2067.8,1214.1L2068.8,1213.8L2069.8,1213.6L2070.8,1213.3L2071.8,1213.0L2072.8,1212.8L2073.8,1212.6L2074.8,1212.5L2075.8,1212.5L2076.8,1212.5L2077.8,1212.6L2078.8,1212.8L2079.8,1213.0L2080.8,1213.2L2081.8,1213.5L2082.8,1213.7L2083.8,1214.0L2084.8,1214.3L2085.8,1214.6L2086.8,1215.0L2087.8,1215.5L2088.8,1215.9L2089.8,1216.4L2090.8,1216.8L2091.8,1217.3L2092.8,1217.6L2093.8,1217.9L2094.8,1219.5L2095.8,1219.5L2096.8,1219.5L2097.8,1219.5L2098.8,1219.5L2099.8,1219.5L2100.8,1219.5L2101.8,1219.5L2102.8,1219.5L2103.8,1219.5L2104.8,1219.5L2105.8,1219.5L2106.8,1219.5L2107.8,1219.5L2108.8,1219.5L2109.8,1219.5L2110.8,1219.5L2111.8,1219.5L2112.8,1219.5L2113.8,1219.5L2114.8,1219.5L2115.8,1219.5L2116.8,1219.5L2117.8,1219.5L2118.8,1219.5L2119.8,1219.5L2119.8,1219.5Z" fill="#0808f2"/>
<path d="M212.8,1208.3L213.8,1208.3L214.8,1208.3L215.8,1208.3L216.8,1208.3L217.8,1208.4L218.8,1208.5L219.8,1208.7L220.8,1209.0L221.8,1209.2L222.8,1209.5L223.8,1209.9L224.8,1210.4L225.8,1211.0L226.8,1211.7L227.8,1212.4L228.8,1213.1L229.8,1213.8L230.8,1214.4L231.8,1215.1L232.8,1215.8L233.8,1216.5L234.8,1217.1L235.8,1217.7L236.8,1218.1L237.8,1219.5M264.8,1219.5L265.8,1218.1L266.8,1217.4L267.8,1216.8L268.8,1216.1L269.8,1215.4L270.8,1214.7L271.8,1213.9L272.8,1213.0L273.8,1212.1L274.8,1211.2L275.8,1210.3L276.8,1209.4L277.8,1208.5L278.8,1207.5L279.8,1206.6L280.8,1205.7L281.8,1204.9L282.8,1204.3L283.8,1203.9L284.8,1203.5L285.8,1203.2L286.8,1202.9L287.8,1202.7L288.8,1202.6L289.8,1202.7L290.8,1202.9L291.8,1203.2L292.8,1203.5L293.8,1203.9L294.8,1204.3L295.8,1205.1L296.8,1206.0L297.8,1207.2L298.8,1208.4L299.8,1209.5L300.8,1210.5L301.8,1211.5L302.8,1212.5L303.8,1213.5L304.8,1214.5L305.8,1215.4L306.8,1216.1L307.8,1216.9L308.8,1217.7L309.8,1219.5M412.8,1219.5L413.8,1217.7L414.8,1216.9L415.8,1216.0L416.8,1215.1L417.8,1214.2L418.8,1213.1L419.8,1211.8L420.8,1210.4L421.8,1209.0L422.8,1207.5L423.8,1206.0L424.8,1204.5L425.8,1203.0L426.8,1201.4L427.8,1199.8L428.8,1198.1L429.8,1196.6L430.8,1195.1L431.8,1193.8L432.8,1192.7L433.8,1191.7L434.8,1190.8L435.8,1190.0L436.8,1189.5L437.8,1189.2L438.8,1188.9L439.8,1188.8L440.8,1188.9L441.8,1189.2L442.8,1189.6L443.8,1190.0L444.8,1190.7L445.8,1191.7L446.8,1192.9L447.8,1194.1L448.8,1195.4L449.8,1197.0L450.8,1198.7L451.8,1200.5L452.8,1202.3L453.8,1204.1L454.8,1205.7L455.8,1207.2L456.8,1208.7L457.8,1210.2L458.8,1211.7L459.8,1213.0L460.8,1214.2L461.8,1215.3L462.8,1216.2L463.8,1217.1L464.8,1218.0L465.8,1219.5M483.8,1219.5L484.8,1218.2L485.8,1217.8L486.8,1217.4L487.8,1217.1L488.8,1216.8L489.8,1216.5L490.8,1216.1L491.8,1215.8L492.8,1215.4L493.8,1215.1L494.8,1214.9L495.8,1214.7L496.8,1214.5L497.8,1214.4L498.8,1214.2L499.8,1214.1L500.8,1214.0L501.8,1213.9L502.8,1213.9L503.8,1213.9L504.8,1213.9L505.8,1214.0L506.8,1214.2L507.8,1214.3L508.8,1214.5L509.8,1214.8L510.8,1215.0L511.8,1215.2L512.8,1215.5L513.8,1215.9L514.8,1216.3L515.8,1216.7L516.8,1217.1L517.8,1217.5L518.8,1217.7L519.8,1217.9L520.8,1218.2L521.8,1219.5M527.8,1219.5L528.8,1217.9L529.8,1217.5L530.8,1217.1L531.8,1216.8L532.8,1216.5L533.8,1216.1L534.8,1215.8L535.8,1215.5L536.8,1215.1L537.8,1214.9L538.8,1214.7L539.8,1214.5L540.8,1214.4L541.8,1214.2L542.8,1214.1L543.8,1214.0L544.8,1213.9L545.8,1213.9L546.8,1213.9L547.8,1213.9L548.8,1214.0L549.8,1214.2L550.8,1214.3L551.8,1214.5L552.8,1214.7L553.8,1214.9L554.8,1215.2L555.8,1215.5L556.8,1215.9L557.8,1216.3L558.8,1216.7L559.8,1217.1L560.8,1217.4L561.8,1217.7L562.8,1218.0L563.8,1219.5M580.8,1219.5L581.8,1218.0L582.8,1217.4L583.8,1216.9L584.8,1216.3L585.8,1215.8L586.8,1215.3L587.8,1214.8L588.8,1214.3L589.8,1213.7L590.8,1213.2L591.8,1212.7L592.8,1212.2L593.8,1211.8L594.8,1211.4L595.8,1211.1L596.8,1210.8L597.8,1210.5L598.8,1210.3L599.8,1210.0L600.8,1209.8L601.8,1209.6L602.8,1209.5L603.8,1209.4L604.8,1209.4L605.8,1209.4L606.8,1209.5L607.8,1209.6L608.8,1209.8L609.8,1210.0L610.8,1210.2L611.8,1210.4L612.8,1210.7L613.8,1211.0L614.8,1211.5L615.8,1212.0L616.8,1212.5L617.8,1213.1L618.8,1213.6L619.8,1214.2L620.8,1214.7L621.8,1215.1L622.8,1215.6L623.8,1216.1L624.8,1216.5L625.8,1217.0L626.8,1217.4L627.8,1217.8L628.8,1218.2L629.8,1219.5M655.8,1219.5L656.8,1217.8L657.8,1216.9L658.8,1215.9L659.8,1214.9L660.8,1213.9L661.8,1212.7L662.8,1211.3L663.8,1209.8L664.8,1208.2L665.8,1206.7L666.8,1205.1L667.8,1203.4L668.8,1201.7L669.8,1199.9L670.8,1198.1L671.8,1196.5L672.8,1195.2L673.8,1194.0L674.8,1192.9L675.8,1191.8L676.8,1191.0L677.8,1190.2L678.8,1189.7L679.8,1189.3L680.8,1189.0L681.8,1188.8L682.8,1188.8L683.8,1189.0L684.8,1189.4L685.8,1189.8L686.8,1190.4L687.8,1191.4L688.8,1192.5L689.8,1193.8L690.8,1195.1L691.8,1196.5L692.8,1198.1L693.8,1199.8L694.8,1201.6L695.8,1203.4L696.8,1205.1L697.8,1206.8L698.8,1208.4L699.8,1210.1L700.8,1211.7L701.8,1213.3L702.8,1214.6L703.8,1215.6L704.8,1216.5L705.8,1217.3L706.8,1218.1L707.8,1219.5M727.8,1219.5L728.8,1217.9L729.8,1217.6L730.8,1217.2L731.8,1216.9L732.8,1216.7L733.8,1216.5L734.8,1216.3L735.8,1216.1L736.8,1216.0L737.8,1215.8L738.8,1215.8L739.8,1215.8L740.8,1215.8L741.8,1215.9L742.8,1216.1L743.8,1216.2L744.8,1216.4L745.8,1216.6L746.8,1216.8L747.8,1217.0L748.8,1217.3L749.8,1217.6L750.8,1217.9L751.8,1219.5M763.8,1219.5L764.8,1218.1L765.8,1217.7L766.8,1217.1L767.8,1216.5L768.8,1215.7L769.8,1215.0L770.8,1214.3L771.8,1213.6L772.8,1212.9L773.8,1212.1L774.8,1211.3L775.8,1210.5L776.8,1209.7L777.8,1209.0L778.8,1208.3L779.8,1207.7L780.8,1207.1L781.8,1206.5L782.8,1206.0L783.8,1205.5L784.8,1205.1L785.8,1204.7L786.8,1204.4L787.8,1204.1L788.8,1203.8L789.8,1203.6L790.8,1203.5L791.8,1203.4L792.8,1203.4L793.8,1203.5L794.8,1203.6L795.8,1203.8L796.8,1203.9L797.8,1204.0L798.8,1204.1L799.8,1204.1L800.8,1204.1L801.8,1204.1L802.8,1204.1L803.8,1204.1L804.8,1204.1L805.8,1204.0L806.8,1203.5L807.8,1202.7L808.8,1201.7L809.8,1200.6L810.8,1199.6L811.8,1198.4L812.8,1197.0L813.8,1195.5L814.8,1193.9L815.8,1192.2L816.8,1190.7L817.8,1188.9L818.8,1187.1L819.8,1185.3L820.8,1183.7L821.8,1182.2L822.8,1181.0L823.8,1179.7L824.8,1178.5L825.8,1177.5L826.8,1176.8L827.8,1176.3L828.8,1176.0L829.8,1175.8L830.8,1175.7L831.8,1175.7L832.8,1175.9L833.8,1176.4L834.8,1177.0L835.8,1177.7L836.8,1178.5L837.8,1179.4L838.8,1180.3L839.8,1181.6L840.8,1183.2L841.8,1185.1L842.8,1187.1L843.8,1189.1L844.8,1191.1L845.8,1192.8L846.8,1194.2L847.8,1195.6L848.8,1196.9L849.8,1198.2L850.8,1199.4L851.8,1200.6L852.8,1201.7L853.8,1202.8L854.8,1203.8L855.8,1204.8L856.8,1205.7L857.8,1206.6L858.8,1207.5L859.8,1208.3L860.8,1209.1L861.8,1209.9L862.8,1210.6L863.8,1211.3L864.8,1212.0L865.8,1212.6L866.8,1213.3L867.8,1214.0L868.8,1214.7L869.8,1215.3L870.8,1215.9L871.8,1216.5L872.8,1217.0L873.8,1217.5L874.8,1217.9L875.8,1219.5M907.8,1219.5L908.8,1218.1L909.8,1218.1L910.8,1218.0L911.8,1217.9L912.8,1217.8L913.8,1217.7L914.8,1217.6L915.8,1217.5L916.8,1217.4L917.8,1217.3L918.8,1217.2L919.8,1217.1L920.8,1217.0L921.8,1216.9L922.8,1216.8L923.8,1216.7L924.8,1216.6L925.8,1216.5L926.8,1216.3L927.8,1216.2L928.8,1216.1L929.8,1216.0L930.8,1215.9L931.8,1215.8L932.8,1215.7L933.8,1215.6L934.8,1215.5L935.8,1215.4L936.8,1215.3L937.8,1215.2L938.8,1215.1L939.8,1215.0L940.8,1214.9L941.8,1214.7L942.8,1214.6L943.8,1214.5L944.8,1214.4L945.8,1214.3L946.8,1214.2L947.8,1214.1L948.8,1213.9L949.8,1213.8L950.8,1213.7L951.8,1213.6L952.8,1213.4L953.8,1213.3L954.8,1213.1L955.8,1213.0L956.8,1212.8L957.8,1212.6L958.8,1212.4L959.8,1212.2L960.8,1212.0L961.8,1211.8L962.8,1211.6L963.8,1211.4L964.8,1211.2L965.8,1211.0L966.8,1210.7L967.8,1210.5L968.8,1210.3L969.8,1210.1L970.8,1209.9L971.8,1209.7L972.8,1209.5L973.8,1209.3L974.8,1209.1L975.8,1208.8L976.8,1208.6L977.8,1208.4L978.8,1208.2L979.8,1208.0L980.8,1207.8L981.8,1207.6L982.8,1207.4L983.8,1207.3L984.8,1207.1L985.8,1207.0L986.8,1206.8L987.8,1206.7L988.8,1206.5L989.8,1206.4L990.8,1206.2L991.8,1206.1L992.8,1206.0L993.8,1206.0L994.8,1206.0L995.8,1206.1L996.8,1206.1L997.8,1206.2L998.8,1206.3L999.8,1206.5L1000.8,1206.6L1001.8,1206.8L1002.8,1206.9L1003.8,1207.1L1004.8,1207.2L1005.8,1207.3L1006.8,1207.5L1007.8,1207.6L1008.8,1207.7L1009.8,1207.8L1010.8,1207.9L1011.8,1207.9L1012.8,1208.0L1013.8,1208.1L1014.8,1208.2L1015.8,1208.3L1016.8,1208.3L1017.8,1208.4L1018.8,1208.5L1019.8,1208.6L1020.8,1208.7L1021.8,1208.8L1022.8,1208.9L1023.8,1209.1L1024.8,1209.2L1025.8,1209.4L1026.8,1209.5L1027.8,1209.8L1028.8,1210.1L1029.8,1210.4L1030.8,1210.8L1031.8,1211.2L1032.8,1211.5L1033.8,1211.9L1034.8,1212.3L1035.8,1212.7L1036.8,1213.0L1037.8,1213.3L1038.8,1213.6L1039.8,1213.9L1040.8,1214.2L1041.8,1214.5L1042.8,1214.8L1043.8,1215.1L1044.8,1215.4L1045.8,1215.6L1046.8,1215.8L1047.8,1216.0L1048.8,1216.2L1049.8,1216.3L1050.8,1216.5L1051.8,1216.6L1052.8,1216.8L1053.8,1216.9L1054.8,1217.1L1055.8,1217.2L1056.8,1217.3L1057.8,1217.5L1058.8,1217.6L1059.8,1217.7L1060.8,1217.8L1061.8,1217.9L1062.8,1218.0L1063.8,1218.1L1064.8,1218.2L1065.8,1219.5M1073.8,1219.5L1074.8,1218.1L1075.8,1218.0L1076.8,1217.9L1077.8,1217.7L1078.8,1217.5L1079.8,1217.3L1080.8,1217.2L1081.8,1217.0L1082.8,1216.7L1083.8,1216.4L1084.8,1216.1L1085.8,1215.7L1086.8,1215.2L1087.8,1214.7L1088.8,1214.2L1089.8,1213.7L1090.8,1213.2L1091.8,1212.7L1092.8,1212.3L1093.8,1211.8L1094.8,1211.4L1095.8,1211.0L1096.8,1210.5L1097.8,1210.1L1098.8,1209.6L1099.8,1209.2L1100.8,1208.9L1101.8,1208.5L1102.8,1208.3L1103.8,1208.0L1104.8,1207.7L1105.8,1207.5L1106.8,1207.3L1107.8,1207.2L1108.8,1207.2L1109.8,1207.3L1110.8,1207.6L1111.8,1208.0L1112.8,1208.5L1113.8,1209.0L1114.8,1209.6L1115.8,1210.1L1116.8,1210.6L1117.8,1211.2L1118.8,1211.9L1119.8,1212.6L1120.8,1213.3L1121.8,1214.0L1122.8,1214.6L1123.8,1215.2L1124.8,1215.6L1125.8,1215.9L1126.8,1216.2L1127.8,1216.5L1128.8,1216.8L1129.8,1217.0L1130.8,1217.2L1131.8,1217.4L1132.8,1217.5L1133.8,1217.6L1134.8,1217.6L1135.8,1217.5L1136.8,1217.3L1137.8,1216.9L1138.8,1216.4L1139.8,1215.9L1140.8,1215.4L1141.8,1214.9L1142.8,1214.4L1143.8,1214.0L1144.8,1213.6L1145.8,1213.1L1146.8,1212.7L1147.8,1212.3L1148.8,1211.9L1149.8,1211.5L1150.8,1211.1L1151.8,1210.8L1152.8,1210.6L1153.8,1210.4L1154.8,1210.3L1155.8,1210.2L1156.8,1210.0L1157.8,1209.9L1158.8,1209.8L1159.8,1209.8L1160.8,1209.8L1161.8,1209.8L1162.8,1209.9L1163.8,1210.1L1164.8,1210.3L1165.8,1210.5L1166.8,1210.8L1167.8,1211.1L1168.8,1211.4L1169.8,1211.8L1170.8,1212.3L1171.8,1212.8L1172.8,1213.4L1173.8,1214.0L1174.8,1214.6L1175.8,1215.2L1176.8,1215.7L1177.8,1216.2L1178.8,1216.6L1179.8,1217.1L1180.8,1217.6L1181.8,1218.0L1182.8,1219.5M1311.8,1219.5L1312.8,1217.9L1313.8,1217.0L1314.8,1216.0L1315.8,1215.0L1316.8,1213.9L1317.8,1212.7L1318.8,1211.1L1319.8,1209.4L1320.8,1207.5L1321.8,1205.5L1322.8,1203.6L1323.8,1201.7L1324.8,1199.9L1325.8,1198.1L1326.8,1196.2L1327.8,1194.3L1328.8,1192.5L1329.8,1190.8L1330.8,1189.1L1331.8,1187.6L1332.8,1186.2L1333.8,1184.9L1334.8,1183.7L1335.8,1183.0L1336.8,1182.4L1337.8,1182.1L1338.8,1182.1L1339.8,1182.4L1340.8,1183.0L1341.8,1183.6L1342.8,1184.7L1343.8,1186.0L1344.8,1187.5L1345.8,1189.1L1346.8,1191.0L1347.8,1193.0L1348.8,1195.2L1349.8,1197.4L1350.8,1199.6L1351.8,1201.6L1352.8,1203.3L1353.8,1205.1L1354.8,1206.8L1355.8,1208.5L1356.8,1210.1L1357.8,1211.6L1358.8,1212.8L1359.8,1213.8L1360.8,1214.6L1361.8,1215.4L1362.8,1216.2L1363.8,1217.0L1364.8,1217.6L1365.8,1218.2L1366.8,1219.5M1382.8,1219.5L1383.8,1218.1L1384.8,1217.5L1385.8,1216.8L1386.8,1216.1L1387.8,1215.3L1388.8,1214.6L1389.8,1213.9L1390.8,1213.3L1391.8,1212.5L1392.8,1211.8L1393.8,1211.0L1394.8,1210.2L1395.8,1209.4L1396.8,1208.6L1397.8,1208.0L1398.8,1207.4L1399.8,1206.9L1400.8,1206.4L1401.8,1205.9L1402.8,1205.5L1403.8,1205.2L1404.8,1204.9L1405.8,1204.7L1406.8,1204.4L1407.8,1204.3L1408.8,1204.2L1409.8,1204.2L1410.8,1204.3L1411.8,1204.5L1412.8,1204.8L1413.8,1205.1L1414.8,1205.5L1415.8,1206.3L1416.8,1207.2L1417.8,1208.1L1418.8,1208.9L1419.8,1209.6L1420.8,1210.3L1421.8,1211.0L1422.8,1211.7L1423.8,1212.4L1424.8,1213.1L1425.8,1213.7L1426.8,1214.3L1427.8,1214.9L1428.8,1215.6L1429.8,1216.3L1430.8,1216.9L1431.8,1217.6L1432.8,1219.5M1596.8,1219.5L1597.8,1217.7L1598.8,1216.8L1599.8,1215.7L1600.8,1214.7L1601.8,1213.6L1602.8,1212.4L1603.8,1210.9L1604.8,1209.2L1605.8,1207.3L1606.8,1205.4L1607.8,1203.3L1608.8,1201.3L1609.8,1199.2L1610.8,1196.8L1611.8,1194.3L1612.8,1191.7L1613.8,1189.1L1614.8,1186.4L1615.8,1183.9L1616.8,1181.4L1617.8,1178.9L1618.8,1176.2L1619.8,1173.7L1620.8,1171.4L1621.8,1169.5L1622.8,1168.0L1623.8,1166.7L1624.8,1165.6L1625.8,1164.9L1626.8,1164.3L1627.8,1164.0L1628.8,1164.2L1629.8,1164.5L1630.8,1165.1L1631.8,1166.2L1632.8,1167.9L1633.8,1169.6L1634.8,1171.6L1635.8,1173.9L1636.8,1176.3L1637.8,1178.9L1638.8,1181.5L1639.8,1184.1L1640.8,1186.8L1641.8,1189.7L1642.8,1192.7L1643.8,1195.6L1644.8,1198.4L1645.8,1200.9L1646.8,1203.3L1647.8,1205.6L1648.8,1207.9L1649.8,1210.1L1650.8,1212.2L1651.8,1214.0L1652.8,1215.6L1653.8,1216.7L1654.8,1217.5L1655.8,1219.5M2056.8,1219.5L2057.8,1218.0L2058.8,1217.8L2059.8,1217.4L2060.8,1217.0L2061.8,1216.6L2062.8,1216.1L2063.8,1215.7L2064.8,1215.2L2065.8,1214.8L2066.8,1214.4L2067.8,1214.1L2068.8,1213.8L2069.8,1213.6L2070.8,1213.3L2071.8,1213.0L2072.8,1212.8L2073.8,1212.6L2074.8,1212.5L2075.8,1212.5L2076.8,1212.5L2077.8,1212.6L2078.8,1212.8L2079.8,1213.0L2080.8,1213.2L2081.8,1213.5L2082.8,1213.7L2083.8,1214.0L2084.8,1214.3L2085.8,1214.6L2086.8,1215.0L2087.8,1215.5L2088.8,1215.9L2089.8,1216.4L2090.8,1216.8L2091.8,1217.3L2092.8,1217.6L2093.8,1217.9L2094.8,1219.5" fill="none" stroke="#0a0a8a" stroke-width="1.6" stroke-linejoin="round" stroke-linecap="butt"/>
<path d="M216.2,1652.0L216.2,1652.0L217.2,1652.0L218.2,1652.0L219.2,1652.0L220.2,1652.0L221.2,1652.0L222.2,1652.0L223.2,1652.0L224.2,1652.0L225.2,1652.0L226.2,1652.0L227.2,1652.0L228.2,1652.0L229.2,1652.0L230.2,1652.0L231.2,1652.0L232.2,1652.0L233.2,1652.0L234.2,1652.0L235.2,1652.0L236.2,1652.0L237.2,1652.0L238.2,1652.0L239.2,1652.0L240.2,1652.0L241.2,1652.0L242.2,1652.0L243.2,1652.0L244.2,1652.0L245.2,1652.0L246.2,1652.0L247.2,1652.0L248.2,1652.0L249.2,1652.0L250.2,1652.0L251.2,1652.0L252.2,1652.0L253.2,1652.0L254.2,1652.0L255.2,1652.0L256.2,1652.0L257.2,1652.0L258.2,1652.0L259.2,1652.0L260.2,1652.0L261.2,1652.0L262.2,1652.0L263.2,1652.0L264.2,1652.0L265.2,1652.0L266.2,1652.0L267.2,1652.0L268.2,1652.0L269.2,1652.0L270.2,1652.0L271.2,1652.0L272.2,1652.0L273.2,1652.0L274.2,1652.0L275.2,1652.0L276.2,1652.0L277.2,1652.0L278.2,1652.0L279.2,1652.0L280.2,1652.0L281.2,1652.0L282.2,1652.0L283.2,1652.0L284.2,1652.0L285.2,1652.0L286.2,1652.0L287.2,1652.0L288.2,1652.0L289.2,1652.0L290.2,1650.1L291.2,1649.2L292.2,1648.3L293.2,1647.4L294.2,1646.6L295.2,1645.7L296.2,1644.8L297.2,1643.8L298.2,1642.8L299.2,1641.8L300.2,1640.9L301.2,1640.1L302.2,1639.4L303.2,1638.6L304.2,1637.9L305.2,1637.2L306.2,1636.5L307.2,1635.9L308.2,1635.4L309.2,1634.9L310.2,1634.3L311.2,1633.8L312.2,1633.3L313.2,1632.9L314.2,1632.6L315.2,1632.4L316.2,1632.4L317.2,1632.5L318.2,1632.7L319.2,1633.0L320.2,1633.4L321.2,1633.8L322.2,1634.1L323.2,1634.5L324.2,1635.0L325.2,1635.6L326.2,1636.3L327.2,1637.0L328.2,1637.7L329.2,1638.3L330.2,1638.8L331.2,1639.2L332.2,1639.6L333.2,1640.0L334.2,1640.3L335.2,1640.6L336.2,1640.9L337.2,1641.1L338.2,1641.3L339.2,1641.4L340.2,1641.6L341.2,1641.7L342.2,1641.8L343.2,1641.9L344.2,1642.0L345.2,1642.1L346.2,1642.3L347.2,1642.5L348.2,1642.8L349.2,1643.1L350.2,1643.4L351.2,1643.7L352.2,1644.1L353.2,1644.5L354.2,1644.9L355.2,1645.3L356.2,1645.8L357.2,1646.3L358.2,1646.8L359.2,1647.3L360.2,1647.8L361.2,1648.3L362.2,1648.7L363.2,1649.2L364.2,1649.7L365.2,1650.1L366.2,1650.5L367.2,1652.0L368.2,1652.0L369.2,1652.0L370.2,1652.0L371.2,1652.0L372.2,1652.0L373.2,1652.0L374.2,1652.0L375.2,1652.0L376.2,1652.0L377.2,1652.0L378.2,1652.0L379.2,1652.0L380.2,1652.0L381.2,1652.0L382.2,1652.0L383.2,1652.0L384.2,1652.0L385.2,1652.0L386.2,1652.0L387.2,1652.0L388.2,1652.0L389.2,1652.0L390.2,1652.0L391.2,1652.0L392.2,1652.0L393.2,1652.0L394.2,1652.0L395.2,1652.0L396.2,1650.4L397.2,1649.7L398.2,1649.1L399.2,1648.4L400.2,1647.8L401.2,1647.2L402.2,1646.6L403.2,1646.1L404.2,1645.4L405.2,1644.8L406.2,1644.2L407.2,1643.6L408.2,1643.0L409.2,1642.4L410.2,1641.8L411.2,1641.2L412.2,1640.6L413.2,1640.0L414.2,1639.5L415.2,1638.9L416.2,1638.3L417.2,1637.8L418.2,1637.3L419.2,1636.8L420.2,1636.3L421.2,1635.9L422.2,1635.4L423.2,1635.0L424.2,1634.6L425.2,1634.2L426.2,1633.8L427.2,1633.4L428.2,1633.1L429.2,1632.8L430.2,1632.5L431.2,1632.2L432.2,1632.0L433.2,1631.7L434.2,1631.5L435.2,1631.3L436.2,1631.1L437.2,1630.9L438.2,1630.8L439.2,1630.7L440.2,1630.6L441.2,1630.7L442.2,1630.9L443.2,1631.1L444.2,1631.4L445.2,1631.7L446.2,1632.0L447.2,1632.3L448.2,1632.6L449.2,1633.0L450.2,1633.4L451.2,1633.8L452.2,1634.2L453.2,1634.6L454.2,1635.1L455.2,1635.5L456.2,1635.9L457.2,1636.3L458.2,1636.8L459.2,1637.2L460.2,1637.6L461.2,1638.0L462.2,1638.5L463.2,1638.9L464.2,1639.4L465.2,1639.8L466.2,1640.3L467.2,1640.8L468.2,1641.3L469.2,1641.8L470.2,1642.3L471.2,1642.8L472.2,1643.3L473.2,1643.8L474.2,1644.3L475.2,1644.9L476.2,1645.4L477.2,1646.0L478.2,1646.5L479.2,1647.0L480.2,1647.4L481.2,1647.6L482.2,1647.9L483.2,1648.1L484.2,1648.3L485.2,1648.5L486.2,1648.6L487.2,1648.7L488.2,1648.8L489.2,1648.8L490.2,1648.7L491.2,1648.6L492.2,1648.5L493.2,1648.4L494.2,1648.3L495.2,1648.2L496.2,1648.1L497.2,1648.1L498.2,1647.9L499.2,1647.8L500.2,1647.7L501.2,1647.7L502.2,1647.6L503.2,1647.6L504.2,1647.7L505.2,1647.8L506.2,1647.9L507.2,1648.1L508.2,1648.4L509.2,1648.6L510.2,1648.8L511.2,1649.0L512.2,1649.2L513.2,1649.5L514.2,1649.7L515.2,1650.0L516.2,1650.2L517.2,1650.4L518.2,1650.5L519.2,1650.5L520.2,1650.5L521.2,1650.4L522.2,1650.4L523.2,1650.2L524.2,1650.1L525.2,1649.9L526.2,1649.5L527.2,1648.9L528.2,1648.2L529.2,1647.4L530.2,1646.6L531.2,1645.8L532.2,1645.0L533.2,1644.0L534.2,1643.1L535.2,1642.1L536.2,1641.1L537.2,1640.2L538.2,1639.3L539.2,1638.5L540.2,1637.7L541.2,1636.9L542.2,1636.1L543.2,1635.4L544.2,1634.9L545.2,1634.5L546.2,1634.3L547.2,1634.0L548.2,1633.8L549.2,1633.7L550.2,1633.6L551.2,1633.6L552.2,1633.6L553.2,1633.8L554.2,1634.1L555.2,1634.5L556.2,1634.9L557.2,1635.3L558.2,1635.9L559.2,1636.7L560.2,1637.7L561.2,1638.7L562.2,1639.6L563.2,1640.5L564.2,1641.3L565.2,1642.1L566.2,1642.9L567.2,1643.7L568.2,1644.3L569.2,1644.9L570.2,1645.4L571.2,1645.9L572.2,1646.4L573.2,1646.8L574.2,1647.0L575.2,1647.0L576.2,1646.8L577.2,1646.5L578.2,1646.1L579.2,1645.5L580.2,1644.9L581.2,1644.1L582.2,1642.8L583.2,1641.1L584.2,1639.1L585.2,1637.0L586.2,1634.9L587.2,1632.8L588.2,1630.7L589.2,1628.4L590.2,1626.1L591.2,1623.7L592.2,1621.4L593.2,1619.1L594.2,1616.7L595.2,1614.3L596.2,1612.0L597.2,1609.8L598.2,1608.0L599.2,1606.2L600.2,1604.6L601.2,1603.0L602.2,1601.8L603.2,1600.9L604.2,1600.3L605.2,1599.9L606.2,1599.5L607.2,1599.3L608.2,1599.4L609.2,1599.6L610.2,1600.0L611.2,1600.5L612.2,1601.0L613.2,1601.7L614.2,1602.6L615.2,1604.0L616.2,1605.5L617.2,1607.2L618.2,1608.9L619.2,1610.5L620.2,1612.4L621.2,1614.4L622.2,1616.5L623.2,1618.6L624.2,1620.7L625.2,1622.7L626.2,1624.8L627.2,1626.8L628.2,1628.8L629.2,1630.8L630.2,1632.7L631.2,1634.6L632.2,1636.5L633.2,1638.4L634.2,1640.2L635.2,1641.8L636.2,1643.2L637.2,1644.5L638.2,1645.7L639.2,1646.8L640.2,1647.7L641.2,1648.5L642.2,1649.2L643.2,1649.7L644.2,1650.3L645.2,1652.0L646.2,1652.0L647.2,1652.0L648.2,1652.0L649.2,1652.0L650.2,1652.0L651.2,1652.0L652.2,1652.0L653.2,1652.0L654.2,1652.0L655.2,1652.0L656.2,1652.0L657.2,1652.0L658.2,1652.0L659.2,1652.0L660.2,1652.0L661.2,1650.7L662.2,1650.6L663.2,1650.5L664.2,1650.3L665.2,1650.1L666.2,1649.8L667.2,1649.5L668.2,1649.2L669.2,1648.9L670.2,1648.6L671.2,1648.3L672.2,1648.0L673.2,1647.8L674.2,1647.6L675.2,1647.5L676.2,1647.3L677.2,1647.2L678.2,1647.1L679.2,1647.0L680.2,1646.9L681.2,1646.8L682.2,1646.7L683.2,1646.7L684.2,1646.9L685.2,1647.3L686.2,1647.7L687.2,1648.2L688.2,1648.5L689.2,1648.9L690.2,1649.3L691.2,1649.7L692.2,1650.1L693.2,1650.4L694.2,1652.0L695.2,1652.0L696.2,1652.0L697.2,1652.0L698.2,1652.0L699.2,1652.0L700.2,1652.0L701.2,1652.0L702.2,1652.0L703.2,1652.0L704.2,1652.0L705.2,1652.0L706.2,1652.0L707.2,1652.0L708.2,1652.0L709.2,1652.0L710.2,1652.0L711.2,1652.0L712.2,1652.0L713.2,1652.0L714.2,1652.0L715.2,1652.0L716.2,1652.0L717.2,1652.0L718.2,1652.0L719.2,1652.0L720.2,1652.0L721.2,1652.0L722.2,1652.0L723.2,1652.0L724.2,1652.0L725.2,1652.0L726.2,1652.0L727.2,1650.3L728.2,1649.7L729.2,1649.2L730.2,1648.8L731.2,1648.5L732.2,1648.3L733.2,1648.0L734.2,1647.8L735.2,1647.6L736.2,1647.5L737.2,1647.4L738.2,1647.3L739.2,1647.3L740.2,1647.4L741.2,1647.4L742.2,1647.5L743.2,1647.6L744.2,1647.7L745.2,1647.8L746.2,1647.9L747.2,1647.9L748.2,1647.9L749.2,1647.9L750.2,1647.8L751.2,1647.7L752.2,1647.6L753.2,1647.5L754.2,1647.4L755.2,1647.2L756.2,1646.8L757.2,1646.3L758.2,1645.6L759.2,1644.8L760.2,1643.9L761.2,1642.6L762.2,1641.1L763.2,1639.5L764.2,1637.7L765.2,1635.5L766.2,1633.1L767.2,1630.5L768.2,1627.9L769.2,1624.9L770.2,1621.8L771.2,1618.7L772.2,1615.7L773.2,1612.9L774.2,1610.1L775.2,1607.4L776.2,1604.9L777.2,1602.6L778.2,1600.4L779.2,1598.3L780.2,1596.5L781.2,1594.9L782.2,1593.5L783.2,1592.2L784.2,1591.1L785.2,1590.3L786.2,1589.8L787.2,1589.4L788.2,1589.0L789.2,1588.8L790.2,1588.8L791.2,1589.0L792.2,1589.5L793.2,1590.1L794.2,1590.8L795.2,1591.9L796.2,1593.5L797.2,1595.3L798.2,1597.4L799.2,1599.6L800.2,1602.1L801.2,1604.9L802.2,1607.8L803.2,1610.5L804.2,1613.3L805.2,1616.2L806.2,1618.9L807.2,1621.3L808.2,1623.3L809.2,1625.2L810.2,1626.9L811.2,1628.3L812.2,1629.3L813.2,1630.3L814.2,1631.1L815.2,1631.6L816.2,1631.8L817.2,1631.6L818.2,1631.2L819.2,1630.6L820.2,1630.0L821.2,1629.2L822.2,1628.1L823.2,1626.8L824.2,1625.4L825.2,1624.1L826.2,1622.8L827.2,1621.4L828.2,1620.0L829.2,1618.7L830.2,1617.6L831.2,1616.4L832.2,1615.4L833.2,1614.6L834.2,1613.9L835.2,1613.4L836.2,1612.9L837.2,1612.8L838.2,1613.0L839.2,1613.6L840.2,1614.4L841.2,1615.3L842.2,1616.4L843.2,1617.9L844.2,1619.5L845.2,1621.2L846.2,1623.0L847.2,1625.0L848.2,1627.0L849.2,1629.1L850.2,1631.2L851.2,1633.3L852.2,1635.4L853.2,1637.4L854.2,1639.2L855.2,1640.7L856.2,1642.2L857.2,1643.5L858.2,1644.6L859.2,1645.5L860.2,1646.3L861.2,1647.0L862.2,1647.6L863.2,1648.1L864.2,1648.4L865.2,1648.7L866.2,1648.9L867.2,1649.1L868.2,1649.2L869.2,1649.3L870.2,1649.4L871.2,1649.3L872.2,1649.1L873.2,1648.7L874.2,1648.3L875.2,1647.8L876.2,1647.3L877.2,1646.7L878.2,1645.9L879.2,1645.0L880.2,1644.1L881.2,1643.3L882.2,1642.5L883.2,1641.7L884.2,1641.0L885.2,1640.3L886.2,1639.6L887.2,1639.0L888.2,1638.3L889.2,1637.6L890.2,1636.9L891.2,1636.2L892.2,1635.5L893.2,1635.0L894.2,1634.5L895.2,1634.1L896.2,1633.8L897.2,1633.4L898.2,1633.1L899.2,1632.8L900.2,1632.5L901.2,1632.2L902.2,1632.0L903.2,1631.7L904.2,1631.4L905.2,1631.0L906.2,1630.5L907.2,1629.9L908.2,1629.0L909.2,1628.1L910.2,1626.9L911.2,1625.3L912.2,1623.3L913.2,1621.0L914.2,1618.6L915.2,1616.0L916.2,1613.0L917.2,1609.8L918.2,1606.6L919.2,1603.6L920.2,1600.5L921.2,1597.4L922.2,1594.4L923.2,1591.7L924.2,1589.1L925.2,1586.7L926.2,1584.4L927.2,1582.4L928.2,1580.5L929.2,1578.7L930.2,1577.1L931.2,1575.5L932.2,1574.1L933.2,1572.7L934.2,1571.4L935.2,1570.1L936.2,1568.8L937.2,1567.5L938.2,1566.4L939.2,1565.1L940.2,1563.6L941.2,1561.7L942.2,1559.5L943.2,1556.6L944.2,1552.6L945.2,1547.0L946.2,1540.8L947.2,1534.3L948.2,1527.2L949.2,1519.9L950.2,1512.8L951.2,1505.7L952.2,1498.9L953.2,1492.5L954.2,1486.4L955.2,1480.9L956.2,1475.9L957.2,1471.4L958.2,1467.5L959.2,1464.1L960.2,1461.2L961.2,1458.7L962.2,1456.5L963.2,1454.7L964.2,1453.6L965.2,1452.8L966.2,1452.1L967.2,1451.8L968.2,1451.9L969.2,1452.4L970.2,1453.1L971.2,1454.0L972.2,1455.2L973.2,1457.0L974.2,1459.1L975.2,1461.6L976.2,1464.7L977.2,1468.1L978.2,1471.8L979.2,1475.9L980.2,1480.2L981.2,1484.5L982.2,1489.1L983.2,1493.8L984.2,1498.6L985.2,1503.7L986.2,1508.9L987.2,1514.3L988.2,1519.8L989.2,1525.6L990.2,1531.5L991.2,1537.5L992.2,1543.8L993.2,1550.4L994.2,1556.9L995.2,1563.2L996.2,1569.3L997.2,1575.2L998.2,1581.0L999.2,1586.7L1000.2,1592.1L1001.2,1596.7L1002.2,1601.0L1003.2,1604.6L1004.2,1607.5L1005.2,1609.9L1006.2,1611.7L1007.2,1612.7L1008.2,1613.6L1009.2,1614.3L1010.2,1614.7L1011.2,1614.8L1012.2,1614.6L1013.2,1614.3L1014.2,1613.8L1015.2,1613.4L1016.2,1612.8L1017.2,1612.2L1018.2,1611.4L1019.2,1610.6L1020.2,1609.9L1021.2,1609.2L1022.2,1608.5L1023.2,1607.7L1024.2,1607.0L1025.2,1606.4L1026.2,1605.8L1027.2,1605.3L1028.2,1604.9L1029.2,1604.4L1030.2,1604.0L1031.2,1603.7L1032.2,1603.5L1033.2,1603.4L1034.2,1603.3L1035.2,1603.2L1036.2,1603.1L1037.2,1603.1L1038.2,1603.2L1039.2,1603.3L1040.2,1603.6L1041.2,1603.9L1042.2,1604.3L1043.2,1604.7L1044.2,1605.2L1045.2,1605.9L1046.2,1606.8L1047.2,1607.7L1048.2,1608.7L1049.2,1609.6L1050.2,1610.5L1051.2,1611.5L1052.2,1612.5L1053.2,1613.5L1054.2,1614.6L1055.2,1615.6L1056.2,1616.7L1057.2,1617.8L1058.2,1619.0L1059.2,1620.1L1060.2,1621.2L1061.2,1622.2L1062.2,1623.3L1063.2,1624.3L1064.2,1625.3L1065.2,1626.3L1066.2,1627.2L1067.2,1628.1L1068.2,1628.9L1069.2,1629.7L1070.2,1630.5L1071.2,1631.2L1072.2,1631.8L1073.2,1632.3L1074.2,1632.8L1075.2,1633.4L1076.2,1633.8L1077.2,1634.0L1078.2,1634.1L1079.2,1634.1L1080.2,1634.1L1081.2,1634.1L1082.2,1633.9L1083.2,1633.4L1084.2,1632.7L1085.2,1632.0L1086.2,1631.1L1087.2,1629.9L1088.2,1628.4L1089.2,1626.9L1090.2,1625.4L1091.2,1623.8L1092.2,1622.0L1093.2,1620.3L1094.2,1618.7L1095.2,1617.1L1096.2,1615.6L1097.2,1614.1L1098.2,1612.7L1099.2,1611.5L1100.2,1610.2L1101.2,1609.1L1102.2,1608.1L1103.2,1607.4L1104.2,1606.8L1105.2,1606.2L1106.2,1605.8L1107.2,1605.5L1108.2,1605.3L1109.2,1605.2L1110.2,1605.2L1111.2,1605.4L1112.2,1605.9L1113.2,1606.5L1114.2,1607.1L1115.2,1607.9L1116.2,1608.9L1117.2,1610.1L1118.2,1611.5L1119.2,1612.9L1120.2,1614.5L1121.2,1616.2L1122.2,1618.0L1123.2,1619.6L1124.2,1621.1L1125.2,1622.5L1126.2,1623.9L1127.2,1625.1L1128.2,1626.3L1129.2,1627.4L1130.2,1628.5L1131.2,1629.5L1132.2,1630.3L1133.2,1631.0L1134.2,1631.7L1135.2,1632.3L1136.2,1632.6L1137.2,1632.7L1138.2,1632.7L1139.2,1632.7L1140.2,1632.7L1141.2,1632.5L1142.2,1631.9L1143.2,1631.0L1144.2,1630.1L1145.2,1629.1L1146.2,1628.1L1147.2,1626.9L1148.2,1625.6L1149.2,1624.2L1150.2,1622.9L1151.2,1621.7L1152.2,1620.6L1153.2,1619.6L1154.2,1618.7L1155.2,1617.8L1156.2,1617.0L1157.2,1616.3L1158.2,1615.6L1159.2,1615.0L1160.2,1614.5L1161.2,1614.0L1162.2,1613.6L1163.2,1613.3L1164.2,1613.0L1165.2,1612.8L1166.2,1612.8L1167.2,1613.0L1168.2,1613.3L1169.2,1613.8L1170.2,1614.4L1171.2,1615.1L1172.2,1615.7L1173.2,1616.6L1174.2,1617.6L1175.2,1618.7L1176.2,1619.8L1177.2,1620.9L1178.2,1621.9L1179.2,1622.8L1180.2,1623.8L1181.2,1624.7L1182.2,1625.6L1183.2,1626.4L1184.2,1627.1L1185.2,1627.8L1186.2,1628.5L1187.2,1629.1L1188.2,1629.6L1189.2,1630.0L1190.2,1630.3L1191.2,1630.6L1192.2,1630.8L1193.2,1630.9L1194.2,1630.8L1195.2,1630.3L1196.2,1629.5L1197.2,1628.5L1198.2,1627.6L1199.2,1626.5L1200.2,1625.4L1201.2,1624.2L1202.2,1623.0L1203.2,1621.9L1204.2,1620.7L1205.2,1619.6L1206.2,1618.7L1207.2,1618.2L1208.2,1617.7L1209.2,1617.3L1210.2,1617.0L1211.2,1616.9L1212.2,1617.0L1213.2,1617.2L1214.2,1617.6L1215.2,1618.1L1216.2,1618.7L1217.2,1619.6L1218.2,1620.8L1219.2,1621.9L1220.2,1622.9L1221.2,1623.8L1222.2,1624.8L1223.2,1625.6L1224.2,1626.2L1225.2,1626.5L1226.2,1626.8L1227.2,1627.0L1228.2,1627.1L1229.2,1627.1L1230.2,1626.7L1231.2,1626.0L1232.2,1625.2L1233.2,1624.2L1234.2,1622.8L1235.2,1620.9L1236.2,1618.6L1237.2,1616.3L1238.2,1613.9L1239.2,1611.2L1240.2,1608.3L1241.2,1605.6L1242.2,1603.2L1243.2,1600.9L1244.2,1598.8L1245.2,1596.9L1246.2,1595.2L1247.2,1593.6L1248.2,1592.2L1249.2,1591.0L1250.2,1590.3L1251.2,1589.9L1252.2,1589.6L1253.2,1589.9L1254.2,1590.6L1255.2,1591.5L1256.2,1592.7L1257.2,1594.3L1258.2,1596.4L1259.2,1598.6L1260.2,1600.9L1261.2,1603.8L1262.2,1606.9L1263.2,1610.2L1264.2,1613.4L1265.2,1616.7L1266.2,1620.2L1267.2,1623.6L1268.2,1626.8L1269.2,1629.7L1270.2,1632.6L1271.2,1635.3L1272.2,1637.7L1273.2,1639.8L1274.2,1641.7L1275.2,1643.5L1276.2,1645.0L1277.2,1646.3L1278.2,1647.4L1279.2,1648.3L1280.2,1649.2L1281.2,1649.8L1282.2,1650.3L1283.2,1652.0L1284.2,1652.0L1285.2,1652.0L1286.2,1652.0L1287.2,1652.0L1288.2,1652.0L1289.2,1652.0L1290.2,1652.0L1291.2,1652.0L1292.2,1652.0L1293.2,1652.0L1294.2,1652.0L1295.2,1652.0L1296.2,1652.0L1297.2,1652.0L1298.2,1652.0L1299.2,1652.0L1300.2,1652.0L1301.2,1652.0L1302.2,1652.0L1303.2,1652.0L1304.2,1650.7L1305.2,1650.3L1306.2,1649.8L1307.2,1649.1L1308.2,1648.4L1309.2,1647.7L1310.2,1646.9L1311.2,1645.9L1312.2,1644.8L1313.2,1643.7L1314.2,1642.4L1315.2,1641.1L1316.2,1639.7L1317.2,1638.1L1318.2,1636.4L1319.2,1634.7L1320.2,1632.9L1321.2,1631.2L1322.2,1629.4L1323.2,1627.6L1324.2,1625.8L1325.2,1624.0L1326.2,1622.3L1327.2,1620.7L1328.2,1619.2L1329.2,1617.6L1330.2,1616.2L1331.2,1614.8L1332.2,1613.6L1333.2,1612.6L1334.2,1611.6L1335.2,1610.7L1336.2,1610.0L1337.2,1609.5L1338.2,1609.2L1339.2,1609.0L1340.2,1609.0L1341.2,1609.3L1342.2,1609.9L1343.2,1610.7L1344.2,1611.7L1345.2,1612.8L1346.2,1614.5L1347.2,1616.5L1348.2,1618.6L1349.2,1620.5L1350.2,1622.6L1351.2,1624.7L1352.2,1626.8L1353.2,1628.6L1354.2,1630.2L1355.2,1631.8L1356.2,1633.1L1357.2,1634.2L1358.2,1634.8L1359.2,1635.3L1360.2,1635.7L1361.2,1635.9L1362.2,1635.7L1363.2,1634.9L1364.2,1633.9L1365.2,1632.6L1366.2,1630.7L1367.2,1628.1L1368.2,1625.1L1369.2,1621.6L1370.2,1617.6L1371.2,1612.7L1372.2,1607.0L1373.2,1600.9L1374.2,1594.6L1375.2,1587.7L1376.2,1580.2L1377.2,1572.5L1378.2,1564.8L1379.2,1557.1L1380.2,1549.1L1381.2,1541.1L1382.2,1532.9L1383.2,1524.4L1384.2,1515.7L1385.2,1506.9L1386.2,1498.2L1387.2,1489.7L1388.2,1481.4L1389.2,1473.3L1390.2,1465.3L1391.2,1457.8L1392.2,1450.5L1393.2,1443.5L1394.2,1436.8L1395.2,1430.6L1396.2,1425.1L1397.2,1419.8L1398.2,1415.1L1399.2,1411.3L1400.2,1408.5L1401.2,1406.0L1402.2,1404.1L1403.2,1403.0L1404.2,1402.1L1405.2,1401.7L1406.2,1402.1L1407.2,1403.1L1408.2,1404.6L1409.2,1406.7L1410.2,1409.9L1411.2,1413.9L1412.2,1418.5L1413.2,1424.6L1414.2,1431.7L1415.2,1439.2L1416.2,1447.1L1417.2,1455.6L1418.2,1464.4L1419.2,1473.0L1420.2,1481.7L1421.2,1490.5L1422.2,1499.2L1423.2,1507.8L1424.2,1516.1L1425.2,1524.4L1426.2,1532.5L1427.2,1540.3L1428.2,1547.6L1429.2,1554.8L1430.2,1561.8L1431.2,1568.3L1432.2,1574.2L1433.2,1579.5L1434.2,1584.4L1435.2,1589.0L1436.2,1593.2L1437.2,1597.0L1438.2,1600.6L1439.2,1603.9L1440.2,1607.1L1441.2,1610.1L1442.2,1612.9L1443.2,1615.6L1444.2,1618.2L1445.2,1620.7L1446.2,1623.2L1447.2,1625.7L1448.2,1628.1L1449.2,1630.3L1450.2,1632.3L1451.2,1634.1L1452.2,1635.8L1453.2,1637.4L1454.2,1638.8L1455.2,1640.2L1456.2,1641.6L1457.2,1642.8L1458.2,1643.8L1459.2,1644.5L1460.2,1645.2L1461.2,1645.7L1462.2,1646.0L1463.2,1646.1L1464.2,1645.7L1465.2,1644.8L1466.2,1643.5L1467.2,1642.0L1468.2,1640.1L1469.2,1637.2L1470.2,1633.6L1471.2,1629.5L1472.2,1625.1L1473.2,1619.7L1474.2,1613.5L1475.2,1607.0L1476.2,1600.5L1477.2,1594.0L1478.2,1587.2L1479.2,1580.4L1480.2,1573.7L1481.2,1567.4L1482.2,1561.2L1483.2,1555.1L1484.2,1549.3L1485.2,1543.7L1486.2,1538.3L1487.2,1533.1L1488.2,1528.1L1489.2,1523.7L1490.2,1519.7L1491.2,1516.0L1492.2,1512.6L1493.2,1509.7L1494.2,1507.6L1495.2,1505.9L1496.2,1504.6L1497.2,1503.7L1498.2,1502.9L1499.2,1502.7L1500.2,1503.1L1501.2,1504.0L1502.2,1505.2L1503.2,1506.8L1504.2,1509.5L1505.2,1512.8L1506.2,1516.6L1507.2,1521.1L1508.2,1526.6L1509.2,1532.5L1510.2,1538.8L1511.2,1545.7L1512.2,1553.2L1513.2,1560.9L1514.2,1568.5L1515.2,1575.9L1516.2,1583.5L1517.2,1590.9L1518.2,1598.0L1519.2,1604.7L1520.2,1611.3L1521.2,1617.5L1522.2,1623.2L1523.2,1628.0L1524.2,1632.4L1525.2,1636.4L1526.2,1639.9L1527.2,1642.8L1528.2,1645.0L1529.2,1647.1L1530.2,1648.9L1531.2,1650.1L1532.2,1652.0L1533.2,1652.0L1534.2,1652.0L1535.2,1652.0L1536.2,1652.0L1537.2,1652.0L1538.2,1652.0L1539.2,1652.0L1540.2,1652.0L1541.2,1652.0L1542.2,1652.0L1543.2,1652.0L1544.2,1652.0L1545.2,1652.0L1546.2,1652.0L1547.2,1652.0L1548.2,1652.0L1549.2,1652.0L1550.2,1652.0L1551.2,1652.0L1552.2,1652.0L1553.2,1652.0L1554.2,1652.0L1555.2,1652.0L1556.2,1652.0L1557.2,1652.0L1558.2,1652.0L1559.2,1652.0L1560.2,1652.0L1561.2,1652.0L1562.2,1652.0L1563.2,1652.0L1564.2,1652.0L1565.2,1652.0L1566.2,1652.0L1567.2,1652.0L1568.2,1652.0L1569.2,1652.0L1570.2,1652.0L1571.2,1652.0L1572.2,1652.0L1573.2,1652.0L1574.2,1652.0L1575.2,1652.0L1576.2,1652.0L1577.2,1652.0L1578.2,1652.0L1579.2,1652.0L1580.2,1652.0L1581.2,1652.0L1582.2,1652.0L1583.2,1652.0L1584.2,1652.0L1585.2,1652.0L1586.2,1652.0L1587.2,1652.0L1588.2,1652.0L1589.2,1652.0L1590.2,1652.0L1591.2,1652.0L1592.2,1652.0L1593.2,1652.0L1594.2,1652.0L1595.2,1652.0L1596.2,1652.0L1597.2,1652.0L1598.2,1652.0L1599.2,1652.0L1600.2,1652.0L1601.2,1652.0L1602.2,1652.0L1603.2,1652.0L1604.2,1652.0L1605.2,1650.6L1606.2,1650.1L1607.2,1649.5L1608.2,1648.9L1609.2,1648.3L1610.2,1647.6L1611.2,1646.9L1612.2,1646.2L1613.2,1645.6L1614.2,1645.0L1615.2,1644.5L1616.2,1643.9L1617.2,1643.4L1618.2,1642.9L1619.2,1642.4L1620.2,1642.0L1621.2,1641.7L1622.2,1641.4L1623.2,1641.2L1624.2,1640.9L1625.2,1640.7L1626.2,1640.5L1627.2,1640.3L1628.2,1640.3L1629.2,1640.3L1630.2,1640.4L1631.2,1640.6L1632.2,1640.8L1633.2,1641.1L1634.2,1641.4L1635.2,1641.6L1636.2,1641.9L1637.2,1642.1L1638.2,1642.4L1639.2,1642.6L1640.2,1642.9L1641.2,1643.3L1642.2,1643.7L1643.2,1644.3L1644.2,1645.5L1645.2,1646.9L1646.2,1647.9L1647.2,1648.8L1648.2,1649.7L1649.2,1650.4L1650.2,1652.0L1651.2,1652.0L1652.2,1652.0L1653.2,1652.0L1654.2,1652.0L1655.2,1652.0L1656.2,1652.0L1657.2,1652.0L1658.2,1652.0L1659.2,1652.0L1660.2,1652.0L1661.2,1652.0L1662.2,1652.0L1663.2,1652.0L1664.2,1652.0L1665.2,1652.0L1666.2,1652.0L1667.2,1652.0L1668.2,1652.0L1669.2,1652.0L1670.2,1652.0L1671.2,1652.0L1672.2,1652.0L1673.2,1652.0L1674.2,1652.0L1675.2,1652.0L1676.2,1652.0L1677.2,1652.0L1678.2,1652.0L1679.2,1652.0L1680.2,1652.0L1681.2,1652.0L1682.2,1652.0L1683.2,1652.0L1684.2,1652.0L1685.2,1652.0L1686.2,1652.0L1687.2,1652.0L1688.2,1652.0L1689.2,1652.0L1690.2,1652.0L1691.2,1652.0L1692.2,1652.0L1693.2,1652.0L1694.2,1652.0L1695.2,1652.0L1696.2,1652.0L1697.2,1652.0L1698.2,1652.0L1699.2,1652.0L1700.2,1652.0L1701.2,1652.0L1702.2,1652.0L1703.2,1652.0L1704.2,1652.0L1705.2,1652.0L1706.2,1652.0L1707.2,1652.0L1708.2,1652.0L1709.2,1652.0L1710.2,1652.0L1711.2,1652.0L1712.2,1652.0L1713.2,1652.0L1714.2,1652.0L1715.2,1652.0L1716.2,1652.0L1717.2,1652.0L1718.2,1652.0L1719.2,1652.0L1720.2,1652.0L1721.2,1652.0L1722.2,1652.0L1723.2,1652.0L1724.2,1652.0L1725.2,1652.0L1726.2,1652.0L1727.2,1652.0L1728.2,1652.0L1729.2,1652.0L1730.2,1652.0L1731.2,1652.0L1732.2,1652.0L1733.2,1652.0L1734.2,1652.0L1735.2,1652.0L1736.2,1652.0L1737.2,1652.0L1738.2,1652.0L1739.2,1652.0L1740.2,1652.0L1741.2,1652.0L1742.2,1652.0L1743.2,1652.0L1744.2,1652.0L1745.2,1652.0L1746.2,1652.0L1747.2,1652.0L1748.2,1652.0L1749.2,1652.0L1750.2,1652.0L1751.2,1652.0L1752.2,1652.0L1753.2,1652.0L1754.2,1652.0L1755.2,1652.0L1756.2,1652.0L1757.2,1652.0L1758.2,1652.0L1759.2,1652.0L1760.2,1652.0L1761.2,1652.0L1762.2,1652.0L1763.2,1652.0L1764.2,1652.0L1765.2,1652.0L1766.2,1652.0L1767.2,1652.0L1768.2,1652.0L1769.2,1652.0L1770.2,1652.0L1771.2,1652.0L1772.2,1652.0L1773.2,1652.0L1774.2,1652.0L1775.2,1652.0L1776.2,1652.0L1777.2,1652.0L1778.2,1652.0L1779.2,1652.0L1780.2,1652.0L1781.2,1652.0L1782.2,1652.0L1783.2,1652.0L1784.2,1652.0L1785.2,1652.0L1786.2,1652.0L1787.2,1652.0L1788.2,1652.0L1789.2,1652.0L1790.2,1652.0L1791.2,1652.0L1792.2,1652.0L1793.2,1652.0L1794.2,1652.0L1795.2,1652.0L1796.2,1652.0L1797.2,1652.0L1798.2,1652.0L1799.2,1652.0L1800.2,1652.0L1801.2,1652.0L1802.2,1652.0L1803.2,1652.0L1804.2,1652.0L1805.2,1652.0L1806.2,1652.0L1807.2,1650.0L1808.2,1649.1L1809.2,1648.2L1810.2,1647.2L1811.2,1646.2L1812.2,1645.0L1813.2,1643.7L1814.2,1642.4L1815.2,1640.9L1816.2,1639.4L1817.2,1637.8L1818.2,1636.0L1819.2,1634.1L1820.2,1632.3L1821.2,1630.5L1822.2,1628.9L1823.2,1627.2L1824.2,1625.6L1825.2,1624.0L1826.2,1622.6L1827.2,1621.4L1828.2,1620.4L1829.2,1619.5L1830.2,1618.6L1831.2,1618.0L1832.2,1617.6L1833.2,1617.2L1834.2,1617.2L1835.2,1617.4L1836.2,1617.7L1837.2,1618.1L1838.2,1618.7L1839.2,1619.8L1840.2,1621.3L1841.2,1622.9L1842.2,1624.5L1843.2,1626.3L1844.2,1628.3L1845.2,1630.4L1846.2,1632.6L1847.2,1634.7L1848.2,1636.6L1849.2,1638.5L1850.2,1640.4L1851.2,1642.3L1852.2,1644.0L1853.2,1645.5L1854.2,1646.8L1855.2,1648.0L1856.2,1649.2L1857.2,1650.2L1858.2,1652.0L1859.2,1652.0L1860.2,1652.0L1861.2,1652.0L1862.2,1652.0L1863.2,1652.0L1864.2,1652.0L1865.2,1652.0L1866.2,1652.0L1867.2,1652.0L1868.2,1652.0L1869.2,1652.0L1870.2,1652.0L1871.2,1652.0L1872.2,1652.0L1873.2,1652.0L1874.2,1652.0L1875.2,1652.0L1876.2,1652.0L1877.2,1652.0L1878.2,1652.0L1879.2,1652.0L1880.2,1652.0L1881.2,1652.0L1882.2,1652.0L1883.2,1652.0L1884.2,1652.0L1885.2,1652.0L1886.2,1652.0L1887.2,1652.0L1888.2,1652.0L1889.2,1652.0L1890.2,1652.0L1891.2,1652.0L1892.2,1652.0L1893.2,1652.0L1894.2,1652.0L1895.2,1652.0L1896.2,1652.0L1897.2,1652.0L1898.2,1652.0L1899.2,1652.0L1900.2,1652.0L1901.2,1652.0L1902.2,1652.0L1903.2,1652.0L1904.2,1652.0L1905.2,1652.0L1906.2,1652.0L1907.2,1652.0L1908.2,1652.0L1909.2,1652.0L1910.2,1652.0L1911.2,1652.0L1912.2,1652.0L1913.2,1652.0L1914.2,1652.0L1915.2,1652.0L1916.2,1652.0L1917.2,1652.0L1918.2,1652.0L1919.2,1652.0L1920.2,1652.0L1921.2,1652.0L1922.2,1652.0L1923.2,1652.0L1924.2,1652.0L1925.2,1652.0L1926.2,1652.0L1927.2,1652.0L1928.2,1652.0L1929.2,1652.0L1930.2,1652.0L1931.2,1652.0L1932.2,1652.0L1933.2,1652.0L1934.2,1652.0L1935.2,1652.0L1936.2,1652.0L1937.2,1652.0L1938.2,1652.0L1939.2,1652.0L1940.2,1652.0L1941.2,1652.0L1942.2,1650.1L1943.2,1649.4L1944.2,1648.6L1945.2,1648.0L1946.2,1647.5L1947.2,1647.0L1948.2,1646.5L1949.2,1646.1L1950.2,1645.7L1951.2,1645.3L1952.2,1645.0L1953.2,1644.7L1954.2,1644.5L1955.2,1644.2L1956.2,1644.0L1957.2,1643.8L1958.2,1643.7L1959.2,1643.6L1960.2,1643.5L1961.2,1643.5L1962.2,1643.6L1963.2,1643.7L1964.2,1643.9L1965.2,1644.1L1966.2,1644.3L1967.2,1644.5L1968.2,1644.8L1969.2,1645.0L1970.2,1645.4L1971.2,1645.8L1972.2,1646.2L1973.2,1646.7L1974.2,1647.1L1975.2,1647.6L1976.2,1648.2L1977.2,1648.9L1978.2,1649.6L1979.2,1650.3L1980.2,1652.0L1981.2,1652.0L1982.2,1652.0L1983.2,1652.0L1984.2,1652.0L1985.2,1652.0L1986.2,1652.0L1987.2,1652.0L1988.2,1652.0L1989.2,1652.0L1990.2,1652.0L1991.2,1652.0L1992.2,1652.0L1993.2,1652.0L1994.2,1652.0L1995.2,1652.0L1996.2,1652.0L1997.2,1652.0L1998.2,1652.0L1999.2,1652.0L2000.2,1652.0L2001.2,1652.0L2002.2,1652.0L2003.2,1652.0L2004.2,1652.0L2005.2,1652.0L2006.2,1652.0L2007.2,1652.0L2008.2,1652.0L2009.2,1652.0L2010.2,1652.0L2011.2,1652.0L2012.2,1652.0L2013.2,1652.0L2014.2,1652.0L2015.2,1652.0L2016.2,1652.0L2017.2,1652.0L2018.2,1652.0L2019.2,1652.0L2020.2,1652.0L2021.2,1652.0L2022.2,1652.0L2023.2,1650.1L2024.2,1649.0L2025.2,1647.7L2026.2,1646.4L2027.2,1645.1L2028.2,1643.6L2029.2,1641.9L2030.2,1640.0L2031.2,1638.1L2032.2,1636.0L2033.2,1633.9L2034.2,1631.5L2035.2,1628.9L2036.2,1626.3L2037.2,1623.6L2038.2,1621.1L2039.2,1618.5L2040.2,1615.9L2041.2,1613.2L2042.2,1610.7L2043.2,1608.3L2044.2,1606.2L2045.2,1604.2L2046.2,1602.3L2047.2,1600.6L2048.2,1598.9L2049.2,1597.3L2050.2,1595.8L2051.2,1594.3L2052.2,1592.8L2053.2,1591.5L2054.2,1590.5L2055.2,1589.8L2056.2,1589.2L2057.2,1588.7L2058.2,1588.3L2059.2,1588.1L2060.2,1587.9L2061.2,1587.9L2062.2,1588.1L2063.2,1588.5L2064.2,1588.9L2065.2,1589.5L2066.2,1590.2L2067.2,1591.2L2068.2,1592.3L2069.2,1593.5L2070.2,1594.8L2071.2,1596.0L2072.2,1597.4L2073.2,1598.9L2074.2,1600.5L2075.2,1602.1L2076.2,1603.7L2077.2,1605.4L2078.2,1607.1L2079.2,1608.9L2080.2,1610.7L2081.2,1612.5L2082.2,1614.2L2083.2,1616.0L2084.2,1617.7L2085.2,1619.5L2086.2,1621.2L2087.2,1623.0L2088.2,1624.7L2089.2,1626.5L2090.2,1628.4L2091.2,1630.2L2092.2,1631.9L2093.2,1633.6L2094.2,1635.1L2095.2,1636.6L2096.2,1638.1L2097.2,1639.4L2098.2,1640.7L2099.2,1641.9L2100.2,1643.0L2101.2,1644.0L2102.2,1645.0L2103.2,1645.9L2104.2,1646.7L2105.2,1647.4L2106.2,1648.1L2107.2,1648.7L2108.2,1649.2L2109.2,1649.7L2110.2,1650.2L2111.2,1650.5L2112.2,1652.0L2113.2,1652.0L2114.2,1652.0L2115.2,1652.0L2116.2,1652.0L2117.2,1652.0L2118.2,1652.0L2119.2,1652.0L2119.2,1652.0Z" fill="#ff8a0e"/>
<path d="M289.2,1652.0L290.2,1650.1L291.2,1649.2L292.2,1648.3L293.2,1647.4L294.2,1646.6L295.2,1645.7L296.2,1644.8L297.2,1643.8L298.2,1642.8L299.2,1641.8L300.2,1640.9L301.2,1640.1L302.2,1639.4L303.2,1638.6L304.2,1637.9L305.2,1637.2L306.2,1636.5L307.2,1635.9L308.2,1635.4L309.2,1634.9L310.2,1634.3L311.2,1633.8L312.2,1633.3L313.2,1632.9L314.2,1632.6L315.2,1632.4L316.2,1632.4L317.2,1632.5L318.2,1632.7L319.2,1633.0L320.2,1633.4L321.2,1633.8L322.2,1634.1L323.2,1634.5L324.2,1635.0L325.2,1635.6L326.2,1636.3L327.2,1637.0L328.2,1637.7L329.2,1638.3L330.2,1638.8L331.2,1639.2L332.2,1639.6L333.2,1640.0L334.2,1640.3L335.2,1640.6L336.2,1640.9L337.2,1641.1L338.2,1641.3L339.2,1641.4L340.2,1641.6L341.2,1641.7L342.2,1641.8L343.2,1641.9L344.2,1642.0L345.2,1642.1L346.2,1642.3L347.2,1642.5L348.2,1642.8L349.2,1643.1L350.2,1643.4L351.2,1643.7L352.2,1644.1L353.2,1644.5L354.2,1644.9L355.2,1645.3L356.2,1645.8L357.2,1646.3L358.2,1646.8L359.2,1647.3L360.2,1647.8L361.2,1648.3L362.2,1648.7L363.2,1649.2L364.2,1649.7L365.2,1650.1L366.2,1650.5L367.2,1652.0M395.2,1652.0L396.2,1650.4L397.2,1649.7L398.2,1649.1L399.2,1648.4L400.2,1647.8L401.2,1647.2L402.2,1646.6L403.2,1646.1L404.2,1645.4L405.2,1644.8L406.2,1644.2L407.2,1643.6L408.2,1643.0L409.2,1642.4L410.2,1641.8L411.2,1641.2L412.2,1640.6L413.2,1640.0L414.2,1639.5L415.2,1638.9L416.2,1638.3L417.2,1637.8L418.2,1637.3L419.2,1636.8L420.2,1636.3L421.2,1635.9L422.2,1635.4L423.2,1635.0L424.2,1634.6L425.2,1634.2L426.2,1633.8L427.2,1633.4L428.2,1633.1L429.2,1632.8L430.2,1632.5L431.2,1632.2L432.2,1632.0L433.2,1631.7L434.2,1631.5L435.2,1631.3L436.2,1631.1L437.2,1630.9L438.2,1630.8L439.2,1630.7L440.2,1630.6L441.2,1630.7L442.2,1630.9L443.2,1631.1L444.2,1631.4L445.2,1631.7L446.2,1632.0L447.2,1632.3L448.2,1632.6L449.2,1633.0L450.2,1633.4L451.2,1633.8L452.2,1634.2L453.2,1634.6L454.2,1635.1L455.2,1635.5L456.2,1635.9L457.2,1636.3L458.2,1636.8L459.2,1637.2L460.2,1637.6L461.2,1638.0L462.2,1638.5L463.2,1638.9L464.2,1639.4L465.2,1639.8L466.2,1640.3L467.2,1640.8L468.2,1641.3L469.2,1641.8L470.2,1642.3L471.2,1642.8L472.2,1643.3L473.2,1643.8L474.2,1644.3L475.2,1644.9L476.2,1645.4L477.2,1646.0L478.2,1646.5L479.2,1647.0L480.2,1647.4L481.2,1647.6L482.2,1647.9L483.2,1648.1L484.2,1648.3L485.2,1648.5L486.2,1648.6L487.2,1648.7L488.2,1648.8L489.2,1648.8L490.2,1648.7L491.2,1648.6L492.2,1648.5L493.2,1648.4L494.2,1648.3L495.2,1648.2L496.2,1648.1L497.2,1648.1L498.2,1647.9L499.2,1647.8L500.2,1647.7L501.2,1647.7L502.2,1647.6L503.2,1647.6L504.2,1647.7L505.2,1647.8L506.2,1647.9L507.2,1648.1L508.2,1648.4L509.2,1648.6L510.2,1648.8L511.2,1649.0L512.2,1649.2L513.2,1649.5L514.2,1649.7L515.2,1650.0L516.2,1650.2L517.2,1650.4L518.2,1650.5L519.2,1650.5L520.2,1650.5L521.2,1650.4L522.2,1650.4L523.2,1650.2L524.2,1650.1L525.2,1649.9L526.2,1649.5L527.2,1648.9L528.2,1648.2L529.2,1647.4L530.2,1646.6L531.2,1645.8L532.2,1645.0L533.2,1644.0L534.2,1643.1L535.2,1642.1L536.2,1641.1L537.2,1640.2L538.2,1639.3L539.2,1638.5L540.2,1637.7L541.2,1636.9L542.2,1636.1L543.2,1635.4L544.2,1634.9L545.2,1634.5L546.2,1634.3L547.2,1634.0L548.2,1633.8L549.2,1633.7L550.2,1633.6L551.2,1633.6L552.2,1633.6L553.2,1633.8L554.2,1634.1L555.2,1634.5L556.2,1634.9L557.2,1635.3L558.2,1635.9L559.2,1636.7L560.2,1637.7L561.2,1638.7L562.2,1639.6L563.2,1640.5L564.2,1641.3L565.2,1642.1L566.2,1642.9L567.2,1643.7L568.2,1644.3L569.2,1644.9L570.2,1645.4L571.2,1645.9L572.2,1646.4L573.2,1646.8L574.2,1647.0L575.2,1647.0L576.2,1646.8L577.2,1646.5L578.2,1646.1L579.2,1645.5L580.2,1644.9L581.2,1644.1L582.2,1642.8L583.2,1641.1L584.2,1639.1L585.2,1637.0L586.2,1634.9L587.2,1632.8L588.2,1630.7L589.2,1628.4L590.2,1626.1L591.2,1623.7L592.2,1621.4L593.2,1619.1L594.2,1616.7L595.2,1614.3L596.2,1612.0L597.2,1609.8L598.2,1608.0L599.2,1606.2L600.2,1604.6L601.2,1603.0L602.2,1601.8L603.2,1600.9L604.2,1600.3L605.2,1599.9L606.2,1599.5L607.2,1599.3L608.2,1599.4L609.2,1599.6L610.2,1600.0L611.2,1600.5L612.2,1601.0L613.2,1601.7L614.2,1602.6L615.2,1604.0L616.2,1605.5L617.2,1607.2L618.2,1608.9L619.2,1610.5L620.2,1612.4L621.2,1614.4L622.2,1616.5L623.2,1618.6L624.2,1620.7L625.2,1622.7L626.2,1624.8L627.2,1626.8L628.2,1628.8L629.2,1630.8L630.2,1632.7L631.2,1634.6L632.2,1636.5L633.2,1638.4L634.2,1640.2L635.2,1641.8L636.2,1643.2L637.2,1644.5L638.2,1645.7L639.2,1646.8L640.2,1647.7L641.2,1648.5L642.2,1649.2L643.2,1649.7L644.2,1650.3L645.2,1652.0M660.2,1652.0L661.2,1650.7L662.2,1650.6L663.2,1650.5L664.2,1650.3L665.2,1650.1L666.2,1649.8L667.2,1649.5L668.2,1649.2L669.2,1648.9L670.2,1648.6L671.2,1648.3L672.2,1648.0L673.2,1647.8L674.2,1647.6L675.2,1647.5L676.2,1647.3L677.2,1647.2L678.2,1647.1L679.2,1647.0L680.2,1646.9L681.2,1646.8L682.2,1646.7L683.2,1646.7L684.2,1646.9L685.2,1647.3L686.2,1647.7L687.2,1648.2L688.2,1648.5L689.2,1648.9L690.2,1649.3L691.2,1649.7L692.2,1650.1L693.2,1650.4L694.2,1652.0M726.2,1652.0L727.2,1650.3L728.2,1649.7L729.2,1649.2L730.2,1648.8L731.2,1648.5L732.2,1648.3L733.2,1648.0L734.2,1647.8L735.2,1647.6L736.2,1647.5L737.2,1647.4L738.2,1647.3L739.2,1647.3L740.2,1647.4L741.2,1647.4L742.2,1647.5L743.2,1647.6L744.2,1647.7L745.2,1647.8L746.2,1647.9L747.2,1647.9L748.2,1647.9L749.2,1647.9L750.2,1647.8L751.2,1647.7L752.2,1647.6L753.2,1647.5L754.2,1647.4L755.2,1647.2L756.2,1646.8L757.2,1646.3L758.2,1645.6L759.2,1644.8L760.2,1643.9L761.2,1642.6L762.2,1641.1L763.2,1639.5L764.2,1637.7L765.2,1635.5L766.2,1633.1L767.2,1630.5L768.2,1627.9L769.2,1624.9L770.2,1621.8L771.2,1618.7L772.2,1615.7L773.2,1612.9L774.2,1610.1L775.2,1607.4L776.2,1604.9L777.2,1602.6L778.2,1600.4L779.2,1598.3L780.2,1596.5L781.2,1594.9L782.2,1593.5L783.2,1592.2L784.2,1591.1L785.2,1590.3L786.2,1589.8L787.2,1589.4L788.2,1589.0L789.2,1588.8L790.2,1588.8L791.2,1589.0L792.2,1589.5L793.2,1590.1L794.2,1590.8L795.2,1591.9L796.2,1593.5L797.2,1595.3L798.2,1597.4L799.2,1599.6L800.2,1602.1L801.2,1604.9L802.2,1607.8L803.2,1610.5L804.2,1613.3L805.2,1616.2L806.2,1618.9L807.2,1621.3L808.2,1623.3L809.2,1625.2L810.2,1626.9L811.2,1628.3L812.2,1629.3L813.2,1630.3L814.2,1631.1L815.2,1631.6L816.2,1631.8L817.2,1631.6L818.2,1631.2L819.2,1630.6L820.2,1630.0L821.2,1629.2L822.2,1628.1L823.2,1626.8L824.2,1625.4L825.2,1624.1L826.2,1622.8L827.2,1621.4L828.2,1620.0L829.2,1618.7L830.2,1617.6L831.2,1616.4L832.2,1615.4L833.2,1614.6L834.2,1613.9L835.2,1613.4L836.2,1612.9L837.2,1612.8L838.2,1613.0L839.2,1613.6L840.2,1614.4L841.2,1615.3L842.2,1616.4L843.2,1617.9L844.2,1619.5L845.2,1621.2L846.2,1623.0L847.2,1625.0L848.2,1627.0L849.2,1629.1L850.2,1631.2L851.2,1633.3L852.2,1635.4L853.2,1637.4L854.2,1639.2L855.2,1640.7L856.2,1642.2L857.2,1643.5L858.2,1644.6L859.2,1645.5L860.2,1646.3L861.2,1647.0L862.2,1647.6L863.2,1648.1L864.2,1648.4L865.2,1648.7L866.2,1648.9L867.2,1649.1L868.2,1649.2L869.2,1649.3L870.2,1649.4L871.2,1649.3L872.2,1649.1L873.2,1648.7L874.2,1648.3L875.2,1647.8L876.2,1647.3L877.2,1646.7L878.2,1645.9L879.2,1645.0L880.2,1644.1L881.2,1643.3L882.2,1642.5L883.2,1641.7L884.2,1641.0L885.2,1640.3L886.2,1639.6L887.2,1639.0L888.2,1638.3L889.2,1637.6L890.2,1636.9L891.2,1636.2L892.2,1635.5L893.2,1635.0L894.2,1634.5L895.2,1634.1L896.2,1633.8L897.2,1633.4L898.2,1633.1L899.2,1632.8L900.2,1632.5L901.2,1632.2L902.2,1632.0L903.2,1631.7L904.2,1631.4L905.2,1631.0L906.2,1630.5L907.2,1629.9L908.2,1629.0L909.2,1628.1L910.2,1626.9L911.2,1625.3L912.2,1623.3L913.2,1621.0L914.2,1618.6L915.2,1616.0L916.2,1613.0L917.2,1609.8L918.2,1606.6L919.2,1603.6L920.2,1600.5L921.2,1597.4L922.2,1594.4L923.2,1591.7L924.2,1589.1L925.2,1586.7L926.2,1584.4L927.2,1582.4L928.2,1580.5L929.2,1578.7L930.2,1577.1L931.2,1575.5L932.2,1574.1L933.2,1572.7L934.2,1571.4L935.2,1570.1L936.2,1568.8L937.2,1567.5L938.2,1566.4L939.2,1565.1L940.2,1563.6L941.2,1561.7L942.2,1559.5L943.2,1556.6L944.2,1552.6L945.2,1547.0L946.2,1540.8L947.2,1534.3L948.2,1527.2L949.2,1519.9L950.2,1512.8L951.2,1505.7L952.2,1498.9L953.2,1492.5L954.2,1486.4L955.2,1480.9L956.2,1475.9L957.2,1471.4L958.2,1467.5L959.2,1464.1L960.2,1461.2L961.2,1458.7L962.2,1456.5L963.2,1454.7L964.2,1453.6L965.2,1452.8L966.2,1452.1L967.2,1451.8L968.2,1451.9L969.2,1452.4L970.2,1453.1L971.2,1454.0L972.2,1455.2L973.2,1457.0L974.2,1459.1L975.2,1461.6L976.2,1464.7L977.2,1468.1L978.2,1471.8L979.2,1475.9L980.2,1480.2L981.2,1484.5L982.2,1489.1L983.2,1493.8L984.2,1498.6L985.2,1503.7L986.2,1508.9L987.2,1514.3L988.2,1519.8L989.2,1525.6L990.2,1531.5L991.2,1537.5L992.2,1543.8L993.2,1550.4L994.2,1556.9L995.2,1563.2L996.2,1569.3L997.2,1575.2L998.2,1581.0L999.2,1586.7L1000.2,1592.1L1001.2,1596.7L1002.2,1601.0L1003.2,1604.6L1004.2,1607.5L1005.2,1609.9L1006.2,1611.7L1007.2,1612.7L1008.2,1613.6L1009.2,1614.3L1010.2,1614.7L1011.2,1614.8L1012.2,1614.6L1013.2,1614.3L1014.2,1613.8L1015.2,1613.4L1016.2,1612.8L1017.2,1612.2L1018.2,1611.4L1019.2,1610.6L1020.2,1609.9L1021.2,1609.2L1022.2,1608.5L1023.2,1607.7L1024.2,1607.0L1025.2,1606.4L1026.2,1605.8L1027.2,1605.3L1028.2,1604.9L1029.2,1604.4L1030.2,1604.0L1031.2,1603.7L1032.2,1603.5L1033.2,1603.4L1034.2,1603.3L1035.2,1603.2L1036.2,1603.1L1037.2,1603.1L1038.2,1603.2L1039.2,1603.3L1040.2,1603.6L1041.2,1603.9L1042.2,1604.3L1043.2,1604.7L1044.2,1605.2L1045.2,1605.9L1046.2,1606.8L1047.2,1607.7L1048.2,1608.7L1049.2,1609.6L1050.2,1610.5L1051.2,1611.5L1052.2,1612.5L1053.2,1613.5L1054.2,1614.6L1055.2,1615.6L1056.2,1616.7L1057.2,1617.8L1058.2,1619.0L1059.2,1620.1L1060.2,1621.2L1061.2,1622.2L1062.2,1623.3L1063.2,1624.3L1064.2,1625.3L1065.2,1626.3L1066.2,1627.2L1067.2,1628.1L1068.2,1628.9L1069.2,1629.7L1070.2,1630.5L1071.2,1631.2L1072.2,1631.8L1073.2,1632.3L1074.2,1632.8L1075.2,1633.4L1076.2,1633.8L1077.2,1634.0L1078.2,1634.1L1079.2,1634.1L1080.2,1634.1L1081.2,1634.1L1082.2,1633.9L1083.2,1633.4L1084.2,1632.7L1085.2,1632.0L1086.2,1631.1L1087.2,1629.9L1088.2,1628.4L1089.2,1626.9L1090.2,1625.4L1091.2,1623.8L1092.2,1622.0L1093.2,1620.3L1094.2,1618.7L1095.2,1617.1L1096.2,1615.6L1097.2,1614.1L1098.2,1612.7L1099.2,1611.5L1100.2,1610.2L1101.2,1609.1L1102.2,1608.1L1103.2,1607.4L1104.2,1606.8L1105.2,1606.2L1106.2,1605.8L1107.2,1605.5L1108.2,1605.3L1109.2,1605.2L1110.2,1605.2L1111.2,1605.4L1112.2,1605.9L1113.2,1606.5L1114.2,1607.1L1115.2,1607.9L1116.2,1608.9L1117.2,1610.1L1118.2,1611.5L1119.2,1612.9L1120.2,1614.5L1121.2,1616.2L1122.2,1618.0L1123.2,1619.6L1124.2,1621.1L1125.2,1622.5L1126.2,1623.9L1127.2,1625.1L1128.2,1626.3L1129.2,1627.4L1130.2,1628.5L1131.2,1629.5L1132.2,1630.3L1133.2,1631.0L1134.2,1631.7L1135.2,1632.3L1136.2,1632.6L1137.2,1632.7L1138.2,1632.7L1139.2,1632.7L1140.2,1632.7L1141.2,1632.5L1142.2,1631.9L1143.2,1631.0L1144.2,1630.1L1145.2,1629.1L1146.2,1628.1L1147.2,1626.9L1148.2,1625.6L1149.2,1624.2L1150.2,1622.9L1151.2,1621.7L1152.2,1620.6L1153.2,1619.6L1154.2,1618.7L1155.2,1617.8L1156.2,1617.0L1157.2,1616.3L1158.2,1615.6L1159.2,1615.0L1160.2,1614.5L1161.2,1614.0L1162.2,1613.6L1163.2,1613.3L1164.2,1613.0L1165.2,1612.8L1166.2,1612.8L1167.2,1613.0L1168.2,1613.3L1169.2,1613.8L1170.2,1614.4L1171.2,1615.1L1172.2,1615.7L1173.2,1616.6L1174.2,1617.6L1175.2,1618.7L1176.2,1619.8L1177.2,1620.9L1178.2,1621.9L1179.2,1622.8L1180.2,1623.8L1181.2,1624.7L1182.2,1625.6L1183.2,1626.4L1184.2,1627.1L1185.2,1627.8L1186.2,1628.5L1187.2,1629.1L1188.2,1629.6L1189.2,1630.0L1190.2,1630.3L1191.2,1630.6L1192.2,1630.8L1193.2,1630.9L1194.2,1630.8L1195.2,1630.3L1196.2,1629.5L1197.2,1628.5L1198.2,1627.6L1199.2,1626.5L1200.2,1625.4L1201.2,1624.2L1202.2,1623.0L1203.2,1621.9L1204.2,1620.7L1205.2,1619.6L1206.2,1618.7L1207.2,1618.2L1208.2,1617.7L1209.2,1617.3L1210.2,1617.0L1211.2,1616.9L1212.2,1617.0L1213.2,1617.2L1214.2,1617.6L1215.2,1618.1L1216.2,1618.7L1217.2,1619.6L1218.2,1620.8L1219.2,1621.9L1220.2,1622.9L1221.2,1623.8L1222.2,1624.8L1223.2,1625.6L1224.2,1626.2L1225.2,1626.5L1226.2,1626.8L1227.2,1627.0L1228.2,1627.1L1229.2,1627.1L1230.2,1626.7L1231.2,1626.0L1232.2,1625.2L1233.2,1624.2L1234.2,1622.8L1235.2,1620.9L1236.2,1618.6L1237.2,1616.3L1238.2,1613.9L1239.2,1611.2L1240.2,1608.3L1241.2,1605.6L1242.2,1603.2L1243.2,1600.9L1244.2,1598.8L1245.2,1596.9L1246.2,1595.2L1247.2,1593.6L1248.2,1592.2L1249.2,1591.0L1250.2,1590.3L1251.2,1589.9L1252.2,1589.6L1253.2,1589.9L1254.2,1590.6L1255.2,1591.5L1256.2,1592.7L1257.2,1594.3L1258.2,1596.4L1259.2,1598.6L1260.2,1600.9L1261.2,1603.8L1262.2,1606.9L1263.2,1610.2L1264.2,1613.4L1265.2,1616.7L1266.2,1620.2L1267.2,1623.6L1268.2,1626.8L1269.2,1629.7L1270.2,1632.6L1271.2,1635.3L1272.2,1637.7L1273.2,1639.8L1274.2,1641.7L1275.2,1643.5L1276.2,1645.0L1277.2,1646.3L1278.2,1647.4L1279.2,1648.3L1280.2,1649.2L1281.2,1649.8L1282.2,1650.3L1283.2,1652.0M1303.2,1652.0L1304.2,1650.7L1305.2,1650.3L1306.2,1649.8L1307.2,1649.1L1308.2,1648.4L1309.2,1647.7L1310.2,1646.9L1311.2,1645.9L1312.2,1644.8L1313.2,1643.7L1314.2,1642.4L1315.2,1641.1L1316.2,1639.7L1317.2,1638.1L1318.2,1636.4L1319.2,1634.7L1320.2,1632.9L1321.2,1631.2L1322.2,1629.4L1323.2,1627.6L1324.2,1625.8L1325.2,1624.0L1326.2,1622.3L1327.2,1620.7L1328.2,1619.2L1329.2,1617.6L1330.2,1616.2L1331.2,1614.8L1332.2,1613.6L1333.2,1612.6L1334.2,1611.6L1335.2,1610.7L1336.2,1610.0L1337.2,1609.5L1338.2,1609.2L1339.2,1609.0L1340.2,1609.0L1341.2,1609.3L1342.2,1609.9L1343.2,1610.7L1344.2,1611.7L1345.2,1612.8L1346.2,1614.5L1347.2,1616.5L1348.2,1618.6L1349.2,1620.5L1350.2,1622.6L1351.2,1624.7L1352.2,1626.8L1353.2,1628.6L1354.2,1630.2L1355.2,1631.8L1356.2,1633.1L1357.2,1634.2L1358.2,1634.8L1359.2,1635.3L1360.2,1635.7L1361.2,1635.9L1362.2,1635.7L1363.2,1634.9L1364.2,1633.9L1365.2,1632.6L1366.2,1630.7L1367.2,1628.1L1368.2,1625.1L1369.2,1621.6L1370.2,1617.6L1371.2,1612.7L1372.2,1607.0L1373.2,1600.9L1374.2,1594.6L1375.2,1587.7L1376.2,1580.2L1377.2,1572.5L1378.2,1564.8L1379.2,1557.1L1380.2,1549.1L1381.2,1541.1L1382.2,1532.9L1383.2,1524.4L1384.2,1515.7L1385.2,1506.9L1386.2,1498.2L1387.2,1489.7L1388.2,1481.4L1389.2,1473.3L1390.2,1465.3L1391.2,1457.8L1392.2,1450.5L1393.2,1443.5L1394.2,1436.8L1395.2,1430.6L1396.2,1425.1L1397.2,1419.8L1398.2,1415.1L1399.2,1411.3L1400.2,1408.5L1401.2,1406.0L1402.2,1404.1L1403.2,1403.0L1404.2,1402.1L1405.2,1401.7L1406.2,1402.1L1407.2,1403.1L1408.2,1404.6L1409.2,1406.7L1410.2,1409.9L1411.2,1413.9L1412.2,1418.5L1413.2,1424.6L1414.2,1431.7L1415.2,1439.2L1416.2,1447.1L1417.2,1455.6L1418.2,1464.4L1419.2,1473.0L1420.2,1481.7L1421.2,1490.5L1422.2,1499.2L1423.2,1507.8L1424.2,1516.1L1425.2,1524.4L1426.2,1532.5L1427.2,1540.3L1428.2,1547.6L1429.2,1554.8L1430.2,1561.8L1431.2,1568.3L1432.2,1574.2L1433.2,1579.5L1434.2,1584.4L1435.2,1589.0L1436.2,1593.2L1437.2,1597.0L1438.2,1600.6L1439.2,1603.9L1440.2,1607.1L1441.2,1610.1L1442.2,1612.9L1443.2,1615.6L1444.2,1618.2L1445.2,1620.7L1446.2,1623.2L1447.2,1625.7L1448.2,1628.1L1449.2,1630.3L1450.2,1632.3L1451.2,1634.1L1452.2,1635.8L1453.2,1637.4L1454.2,1638.8L1455.2,1640.2L1456.2,1641.6L1457.2,1642.8L1458.2,1643.8L1459.2,1644.5L1460.2,1645.2L1461.2,1645.7L1462.2,1646.0L1463.2,1646.1L1464.2,1645.7L1465.2,1644.8L1466.2,1643.5L1467.2,1642.0L1468.2,1640.1L1469.2,1637.2L1470.2,1633.6L1471.2,1629.5L1472.2,1625.1L1473.2,1619.7L1474.2,1613.5L1475.2,1607.0L1476.2,1600.5L1477.2,1594.0L1478.2,1587.2L1479.2,1580.4L1480.2,1573.7L1481.2,1567.4L1482.2,1561.2L1483.2,1555.1L1484.2,1549.3L1485.2,1543.7L1486.2,1538.3L1487.2,1533.1L1488.2,1528.1L1489.2,1523.7L1490.2,1519.7L1491.2,1516.0L1492.2,1512.6L1493.2,1509.7L1494.2,1507.6L1495.2,1505.9L1496.2,1504.6L1497.2,1503.7L1498.2,1502.9L1499.2,1502.7L1500.2,1503.1L1501.2,1504.0L1502.2,1505.2L1503.2,1506.8L1504.2,1509.5L1505.2,1512.8L1506.2,1516.6L1507.2,1521.1L1508.2,1526.6L1509.2,1532.5L1510.2,1538.8L1511.2,1545.7L1512.2,1553.2L1513.2,1560.9L1514.2,1568.5L1515.2,1575.9L1516.2,1583.5L1517.2,1590.9L1518.2,1598.0L1519.2,1604.7L1520.2,1611.3L1521.2,1617.5L1522.2,1623.2L1523.2,1628.0L1524.2,1632.4L1525.2,1636.4L1526.2,1639.9L1527.2,1642.8L1528.2,1645.0L1529.2,1647.1L1530.2,1648.9L1531.2,1650.1L1532.2,1652.0M1604.2,1652.0L1605.2,1650.6L1606.2,1650.1L1607.2,1649.5L1608.2,1648.9L1609.2,1648.3L1610.2,1647.6L1611.2,1646.9L1612.2,1646.2L1613.2,1645.6L1614.2,1645.0L1615.2,1644.5L1616.2,1643.9L1617.2,1643.4L1618.2,1642.9L1619.2,1642.4L1620.2,1642.0L1621.2,1641.7L1622.2,1641.4L1623.2,1641.2L1624.2,1640.9L1625.2,1640.7L1626.2,1640.5L1627.2,1640.3L1628.2,1640.3L1629.2,1640.3L1630.2,1640.4L1631.2,1640.6L1632.2,1640.8L1633.2,1641.1L1634.2,1641.4L1635.2,1641.6L1636.2,1641.9L1637.2,1642.1L1638.2,1642.4L1639.2,1642.6L1640.2,1642.9L1641.2,1643.3L1642.2,1643.7L1643.2,1644.3L1644.2,1645.5L1645.2,1646.9L1646.2,1647.9L1647.2,1648.8L1648.2,1649.7L1649.2,1650.4L1650.2,1652.0M1806.2,1652.0L1807.2,1650.0L1808.2,1649.1L1809.2,1648.2L1810.2,1647.2L1811.2,1646.2L1812.2,1645.0L1813.2,1643.7L1814.2,1642.4L1815.2,1640.9L1816.2,1639.4L1817.2,1637.8L1818.2,1636.0L1819.2,1634.1L1820.2,1632.3L1821.2,1630.5L1822.2,1628.9L1823.2,1627.2L1824.2,1625.6L1825.2,1624.0L1826.2,1622.6L1827.2,1621.4L1828.2,1620.4L1829.2,1619.5L1830.2,1618.6L1831.2,1618.0L1832.2,1617.6L1833.2,1617.2L1834.2,1617.2L1835.2,1617.4L1836.2,1617.7L1837.2,1618.1L1838.2,1618.7L1839.2,1619.8L1840.2,1621.3L1841.2,1622.9L1842.2,1624.5L1843.2,1626.3L1844.2,1628.3L1845.2,1630.4L1846.2,1632.6L1847.2,1634.7L1848.2,1636.6L1849.2,1638.5L1850.2,1640.4L1851.2,1642.3L1852.2,1644.0L1853.2,1645.5L1854.2,1646.8L1855.2,1648.0L1856.2,1649.2L1857.2,1650.2L1858.2,1652.0M1941.2,1652.0L1942.2,1650.1L1943.2,1649.4L1944.2,1648.6L1945.2,1648.0L1946.2,1647.5L1947.2,1647.0L1948.2,1646.5L1949.2,1646.1L1950.2,1645.7L1951.2,1645.3L1952.2,1645.0L1953.2,1644.7L1954.2,1644.5L1955.2,1644.2L1956.2,1644.0L1957.2,1643.8L1958.2,1643.7L1959.2,1643.6L1960.2,1643.5L1961.2,1643.5L1962.2,1643.6L1963.2,1643.7L1964.2,1643.9L1965.2,1644.1L1966.2,1644.3L1967.2,1644.5L1968.2,1644.8L1969.2,1645.0L1970.2,1645.4L1971.2,1645.8L1972.2,1646.2L1973.2,1646.7L1974.2,1647.1L1975.2,1647.6L1976.2,1648.2L1977.2,1648.9L1978.2,1649.6L1979.2,1650.3L1980.2,1652.0M2022.2,1652.0L2023.2,1650.1L2024.2,1649.0L2025.2,1647.7L2026.2,1646.4L2027.2,1645.1L2028.2,1643.6L2029.2,1641.9L2030.2,1640.0L2031.2,1638.1L2032.2,1636.0L2033.2,1633.9L2034.2,1631.5L2035.2,1628.9L2036.2,1626.3L2037.2,1623.6L2038.2,1621.1L2039.2,1618.5L2040.2,1615.9L2041.2,1613.2L2042.2,1610.7L2043.2,1608.3L2044.2,1606.2L2045.2,1604.2L2046.2,1602.3L2047.2,1600.6L2048.2,1598.9L2049.2,1597.3L2050.2,1595.8L2051.2,1594.3L2052.2,1592.8L2053.2,1591.5L2054.2,1590.5L2055.2,1589.8L2056.2,1589.2L2057.2,1588.7L2058.2,1588.3L2059.2,1588.1L2060.2,1587.9L2061.2,1587.9L2062.2,1588.1L2063.2,1588.5L2064.2,1588.9L2065.2,1589.5L2066.2,1590.2L2067.2,1591.2L2068.2,1592.3L2069.2,1593.5L2070.2,1594.8L2071.2,1596.0L2072.2,1597.4L2073.2,1598.9L2074.2,1600.5L2075.2,1602.1L2076.2,1603.7L2077.2,1605.4L2078.2,1607.1L2079.2,1608.9L2080.2,1610.7L2081.2,1612.5L2082.2,1614.2L2083.2,1616.0L2084.2,1617.7L2085.2,1619.5L2086.2,1621.2L2087.2,1623.0L2088.2,1624.7L2089.2,1626.5L2090.2,1628.4L2091.2,1630.2L2092.2,1631.9L2093.2,1633.6L2094.2,1635.1L2095.2,1636.6L2096.2,1638.1L2097.2,1639.4L2098.2,1640.7L2099.2,1641.9L2100.2,1643.0L2101.2,1644.0L2102.2,1645.0L2103.2,1645.9L2104.2,1646.7L2105.2,1647.4L2106.2,1648.1L2107.2,1648.7L2108.2,1649.2L2109.2,1649.7L2110.2,1650.2L2111.2,1650.5L2112.2,1652.0" fill="none" stroke="#4a3418" stroke-width="2.3" stroke-linejoin="round" stroke-linecap="butt"/>
<path d="M216.2,2507.8L216.2,2333.9L217.2,2333.9L218.2,2333.9L219.2,2333.9L220.2,2333.9L221.2,2334.4L222.2,2336.3L223.2,2339.1L224.2,2343.0L225.2,2349.1L226.2,2356.3L227.2,2364.1L228.2,2373.3L229.2,2383.2L230.2,2393.2L231.2,2402.7L232.2,2412.5L233.2,2422.2L234.2,2431.5L235.2,2439.9L236.2,2447.4L237.2,2454.6L238.2,2461.2L239.2,2466.9L240.2,2471.9L241.2,2476.3L242.2,2480.2L243.2,2483.9L244.2,2487.7L245.2,2491.3L246.2,2494.7L247.2,2497.6L248.2,2499.8L249.2,2501.4L250.2,2502.7L251.2,2503.8L252.2,2504.6L253.2,2505.3L254.2,2505.8L255.2,2506.0L256.2,2505.6L257.2,2504.8L258.2,2503.7L259.2,2502.3L260.2,2499.8L261.2,2496.5L262.2,2492.8L263.2,2488.9L264.2,2484.5L265.2,2479.8L266.2,2474.8L267.2,2469.3L268.2,2463.2L269.2,2456.1L270.2,2448.5L271.2,2440.5L272.2,2432.5L273.2,2424.0L274.2,2415.2L275.2,2406.3L276.2,2397.6L277.2,2388.7L278.2,2379.6L279.2,2370.8L280.2,2362.6L281.2,2355.0L282.2,2347.6L283.2,2340.7L284.2,2334.6L285.2,2329.6L286.2,2325.1L287.2,2321.3L288.2,2318.3L289.2,2316.0L290.2,2314.1L291.2,2312.9L292.2,2312.4L293.2,2312.1L294.2,2312.0L295.2,2312.2L296.2,2312.8L297.2,2313.5L298.2,2314.1L299.2,2314.6L300.2,2315.1L301.2,2315.5L302.2,2315.8L303.2,2315.6L304.2,2315.0L305.2,2314.1L306.2,2313.2L307.2,2312.0L308.2,2310.7L309.2,2309.5L310.2,2308.7L311.2,2308.1L312.2,2307.5L313.2,2307.1L314.2,2307.0L315.2,2307.2L316.2,2307.8L317.2,2308.6L318.2,2309.7L319.2,2311.7L320.2,2314.3L321.2,2317.0L322.2,2319.8L323.2,2323.0L324.2,2326.2L325.2,2329.3L326.2,2332.2L327.2,2335.1L328.2,2337.4L329.2,2338.7L330.2,2339.7L331.2,2340.3L332.2,2340.2L333.2,2339.1L334.2,2337.3L335.2,2335.5L336.2,2333.4L337.2,2330.8L338.2,2328.3L339.2,2326.3L340.2,2324.7L341.2,2323.4L342.2,2322.7L343.2,2322.3L344.2,2322.2L345.2,2322.7L346.2,2323.9L347.2,2325.5L348.2,2327.4L349.2,2330.6L350.2,2335.1L351.2,2340.3L352.2,2346.1L353.2,2353.3L354.2,2361.4L355.2,2369.4L356.2,2377.4L357.2,2385.6L358.2,2393.7L359.2,2401.6L360.2,2409.1L361.2,2416.7L362.2,2423.8L363.2,2429.8L364.2,2434.8L365.2,2439.2L366.2,2442.1L367.2,2443.7L368.2,2444.6L369.2,2443.9L370.2,2442.0L371.2,2439.4L372.2,2435.9L373.2,2430.8L374.2,2424.6L375.2,2417.8L376.2,2409.5L377.2,2399.8L378.2,2390.0L379.2,2380.9L380.2,2371.8L381.2,2362.8L382.2,2354.4L383.2,2346.8L384.2,2339.8L385.2,2333.2L386.2,2327.6L387.2,2323.4L388.2,2319.8L389.2,2316.9L390.2,2315.0L391.2,2313.9L392.2,2313.1L393.2,2312.8L394.2,2313.0L395.2,2313.3L396.2,2313.7L397.2,2314.3L398.2,2315.3L399.2,2316.5L400.2,2317.6L401.2,2318.3L402.2,2318.9L403.2,2319.3L404.2,2319.0L405.2,2318.0L406.2,2316.6L407.2,2314.6L408.2,2311.3L409.2,2307.9L410.2,2304.6L411.2,2301.1L412.2,2297.6L413.2,2294.4L414.2,2291.6L415.2,2288.9L416.2,2286.5L417.2,2284.3L418.2,2282.5L419.2,2280.9L420.2,2279.6L421.2,2278.3L422.2,2277.2L423.2,2276.1L424.2,2275.1L425.2,2274.1L426.2,2273.2L427.2,2272.1L428.2,2270.9L429.2,2269.6L430.2,2268.3L431.2,2266.7L432.2,2264.8L433.2,2262.7L434.2,2260.3L435.2,2257.6L436.2,2254.7L437.2,2251.4L438.2,2247.8L439.2,2243.8L440.2,2239.6L441.2,2234.8L442.2,2229.6L443.2,2224.0L444.2,2218.2L445.2,2212.2L446.2,2205.7L447.2,2198.9L448.2,2192.0L449.2,2184.9L450.2,2177.3L451.2,2169.5L452.2,2162.2L453.2,2155.3L454.2,2148.7L455.2,2142.7L456.2,2137.3L457.2,2132.4L458.2,2129.0L459.2,2126.9L460.2,2125.6L461.2,2125.9L462.2,2128.0L463.2,2131.0L464.2,2135.3L465.2,2142.2L466.2,2150.7L467.2,2160.5L468.2,2172.5L469.2,2185.9L470.2,2200.9L471.2,2218.0L472.2,2235.5L473.2,2252.0L474.2,2268.5L475.2,2284.6L476.2,2299.1L477.2,2311.3L478.2,2322.3L479.2,2331.3L480.2,2338.0L481.2,2343.5L482.2,2346.1L483.2,2347.1L484.2,2345.9L485.2,2342.2L486.2,2337.3L487.2,2331.0L488.2,2322.1L489.2,2311.5L490.2,2299.9L491.2,2285.2L492.2,2269.0L493.2,2253.7L494.2,2240.2L495.2,2227.4L496.2,2215.3L497.2,2204.4L498.2,2194.4L499.2,2185.3L500.2,2177.8L501.2,2171.1L502.2,2166.2L503.2,2163.6L504.2,2162.1L505.2,2162.6L506.2,2164.8L507.2,2167.9L508.2,2172.6L509.2,2180.2L510.2,2189.5L511.2,2199.5L512.2,2211.4L513.2,2225.0L514.2,2239.2L515.2,2253.2L516.2,2268.2L517.2,2283.5L518.2,2298.3L519.2,2312.0L520.2,2324.7L521.2,2336.7L522.2,2347.6L523.2,2357.3L524.2,2366.7L525.2,2373.6L526.2,2376.8L527.2,2378.4L528.2,2377.2L529.2,2373.7L530.2,2369.1L531.2,2362.2L532.2,2352.0L533.2,2340.2L534.2,2328.0L535.2,2314.0L536.2,2298.7L537.2,2283.1L538.2,2268.3L539.2,2253.8L540.2,2239.3L541.2,2225.7L542.2,2213.6L543.2,2202.0L544.2,2191.4L545.2,2183.2L546.2,2177.4L547.2,2172.6L548.2,2169.6L549.2,2168.3L550.2,2167.7L551.2,2168.3L552.2,2170.6L553.2,2173.9L554.2,2178.8L555.2,2186.5L556.2,2195.8L557.2,2205.9L558.2,2217.9L559.2,2231.4L560.2,2245.5L561.2,2259.8L562.2,2274.9L563.2,2290.6L564.2,2306.7L565.2,2322.9L566.2,2339.5L567.2,2356.8L568.2,2373.8L569.2,2389.2L570.2,2402.6L571.2,2415.1L572.2,2426.3L573.2,2436.0L574.2,2444.3L575.2,2451.6L576.2,2457.0L577.2,2461.0L578.2,2463.8L579.2,2464.8L580.2,2465.0L581.2,2463.1L582.2,2459.6L583.2,2455.7L584.2,2450.6L585.2,2444.0L586.2,2435.6L587.2,2422.3L588.2,2402.2L589.2,2382.0L590.2,2365.3L591.2,2349.3L592.2,2333.7L593.2,2318.0L594.2,2301.7L595.2,2284.9L596.2,2268.0L597.2,2251.2L598.2,2235.0L599.2,2219.1L600.2,2203.5L601.2,2188.3L602.2,2173.5L603.2,2159.3L604.2,2145.2L605.2,2131.7L606.2,2119.0L607.2,2107.4L608.2,2096.5L609.2,2086.5L610.2,2077.6L611.2,2069.4L612.2,2062.1L613.2,2056.2L614.2,2051.6L615.2,2047.9L616.2,2045.6L617.2,2044.4L618.2,2043.5L619.2,2043.2L620.2,2043.9L621.2,2045.4L622.2,2047.3L623.2,2050.4L624.2,2054.7L625.2,2059.9L626.2,2066.8L627.2,2075.3L628.2,2084.9L629.2,2095.3L630.2,2107.4L631.2,2121.0L632.2,2135.3L633.2,2149.7L634.2,2164.5L635.2,2179.9L636.2,2195.6L637.2,2211.1L638.2,2226.2L639.2,2241.1L640.2,2255.9L641.2,2270.4L642.2,2284.5L643.2,2298.5L644.2,2312.4L645.2,2325.7L646.2,2337.9L647.2,2349.2L648.2,2359.7L649.2,2369.4L650.2,2378.1L651.2,2386.2L652.2,2393.5L653.2,2398.8L654.2,2402.8L655.2,2405.4L656.2,2406.1L657.2,2406.5L658.2,2405.7L659.2,2402.4L660.2,2397.9L661.2,2390.3L662.2,2379.3L663.2,2367.1L664.2,2353.3L665.2,2337.6L666.2,2321.1L667.2,2304.7L668.2,2287.5L669.2,2269.9L670.2,2253.1L671.2,2238.0L672.2,2223.6L673.2,2210.3L674.2,2198.9L675.2,2188.9L676.2,2180.2L677.2,2173.8L678.2,2169.3L679.2,2166.1L680.2,2164.1L681.2,2162.7L682.2,2163.2L683.2,2165.7L684.2,2169.2L685.2,2174.2L686.2,2182.3L687.2,2192.0L688.2,2203.1L689.2,2216.6L690.2,2231.5L691.2,2246.9L692.2,2263.1L693.2,2280.4L694.2,2298.1L695.2,2315.6L696.2,2333.0L697.2,2350.8L698.2,2367.7L699.2,2382.9L700.2,2396.6L701.2,2409.3L702.2,2420.8L703.2,2430.9L704.2,2440.0L705.2,2448.2L706.2,2455.7L707.2,2462.6L708.2,2468.9L709.2,2474.0L710.2,2478.0L711.2,2481.1L712.2,2482.2L713.2,2482.6L714.2,2481.0L715.2,2477.7L716.2,2473.7L717.2,2468.3L718.2,2461.4L719.2,2453.7L720.2,2445.6L721.2,2436.5L722.2,2426.9L723.2,2417.3L724.2,2407.8L725.2,2398.0L726.2,2388.4L727.2,2379.8L728.2,2372.2L729.2,2365.1L730.2,2358.7L731.2,2353.2L732.2,2348.5L733.2,2344.3L734.2,2340.8L735.2,2338.1L736.2,2335.9L737.2,2334.2L738.2,2333.2L739.2,2332.4L740.2,2332.2L741.2,2332.4L742.2,2333.0L743.2,2334.6L744.2,2336.8L745.2,2339.4L746.2,2342.9L747.2,2347.3L748.2,2352.1L749.2,2356.8L750.2,2361.7L751.2,2366.7L752.2,2371.5L753.2,2376.1L754.2,2381.0L755.2,2384.6L756.2,2385.8L757.2,2386.4L758.2,2386.4L759.2,2383.5L760.2,2378.4L761.2,2372.5L762.2,2364.1L763.2,2353.5L764.2,2341.4L765.2,2327.7L766.2,2311.2L767.2,2293.2L768.2,2274.4L769.2,2253.5L770.2,2231.6L771.2,2211.0L772.2,2192.4L773.2,2174.6L774.2,2158.0L775.2,2143.1L776.2,2129.8L777.2,2117.8L778.2,2107.5L779.2,2098.3L780.2,2090.2L781.2,2084.1L782.2,2079.4L783.2,2075.6L784.2,2072.7L785.2,2070.2L786.2,2068.3L787.2,2067.2L788.2,2066.5L789.2,2066.4L790.2,2067.3L791.2,2069.1L792.2,2071.3L793.2,2075.2L794.2,2080.2L795.2,2085.7L796.2,2090.8L797.2,2096.3L798.2,2101.9L799.2,2107.3L800.2,2112.1L801.2,2116.7L802.2,2121.1L803.2,2125.1L804.2,2128.3L805.2,2131.1L806.2,2133.5L807.2,2134.8L808.2,2134.7L809.2,2134.4L810.2,2133.0L811.2,2129.7L812.2,2125.3L813.2,2119.7L814.2,2112.1L815.2,2103.0L816.2,2093.4L817.2,2082.3L818.2,2069.8L819.2,2056.6L820.2,2043.9L821.2,2030.9L822.2,2018.0L823.2,2006.0L824.2,1995.5L825.2,1985.7L826.2,1976.9L827.2,1969.3L828.2,1962.5L829.2,1956.6L830.2,1952.2L831.2,1948.4L832.2,1945.6L833.2,1944.2L834.2,1943.4L835.2,1943.1L836.2,1943.8L837.2,1945.5L838.2,1947.7L839.2,1951.5L840.2,1957.0L841.2,1963.2L842.2,1970.7L843.2,1979.3L844.2,1988.4L845.2,1997.3L846.2,2006.6L847.2,2016.0L848.2,2025.2L849.2,2034.2L850.2,2043.3L851.2,2052.1L852.2,2060.4L853.2,2068.0L854.2,2075.0L855.2,2081.6L856.2,2088.0L857.2,2094.3L858.2,2100.4L859.2,2106.2L860.2,2112.0L861.2,2118.1L862.2,2124.9L863.2,2132.3L864.2,2140.0L865.2,2147.4L866.2,2154.3L867.2,2161.0L868.2,2167.3L869.2,2173.1L870.2,2178.2L871.2,2183.1L872.2,2187.4L873.2,2190.4L874.2,2192.5L875.2,2194.2L876.2,2194.9L877.2,2194.6L878.2,2193.9L879.2,2190.1L880.2,2184.0L881.2,2176.7L882.2,2166.7L883.2,2155.5L884.2,2143.9L885.2,2131.1L886.2,2118.2L887.2,2106.5L888.2,2096.0L889.2,2086.0L890.2,2077.5L891.2,2071.0L892.2,2065.6L893.2,2061.0L894.2,2057.6L895.2,2054.9L896.2,2052.8L897.2,2051.4L898.2,2050.8L899.2,2050.6L900.2,2051.7L901.2,2053.9L902.2,2056.7L903.2,2061.4L904.2,2067.9L905.2,2074.7L906.2,2081.8L907.2,2089.8L908.2,2097.6L909.2,2104.2L910.2,2110.1L911.2,2115.2L912.2,2118.8L913.2,2121.3L914.2,2122.6L915.2,2122.2L916.2,2121.3L917.2,2116.5L918.2,2108.8L919.2,2100.6L920.2,2090.5L921.2,2079.1L922.2,2067.1L923.2,2054.6L924.2,2041.0L925.2,2027.2L926.2,2014.3L927.2,2001.8L928.2,1989.8L929.2,1979.1L930.2,1969.7L931.2,1961.3L932.2,1954.3L933.2,1948.6L934.2,1943.7L935.2,1940.4L936.2,1938.4L937.2,1936.8L938.2,1935.4L939.2,1934.3L940.2,1933.7L941.2,1933.6L942.2,1933.8L943.2,1934.2L944.2,1934.5L945.2,1934.7L946.2,1934.6L947.2,1933.9L948.2,1932.7L949.2,1929.7L950.2,1924.5L951.2,1919.7L952.2,1914.6L953.2,1909.0L954.2,1902.7L955.2,1897.1L956.2,1892.0L957.2,1887.3L958.2,1883.1L959.2,1879.2L960.2,1875.7L961.2,1872.6L962.2,1869.7L963.2,1867.3L964.2,1865.0L965.2,1862.8L966.2,1860.6L967.2,1858.6L968.2,1856.1L969.2,1852.3L970.2,1846.6L971.2,1840.0L972.2,1832.4L973.2,1823.6L974.2,1813.3L975.2,1801.8L976.2,1790.0L977.2,1777.7L978.2,1766.3L979.2,1756.0L980.2,1746.5L981.2,1737.9L982.2,1730.2L983.2,1723.3L984.2,1717.1L985.2,1712.2L986.2,1708.0L987.2,1705.3L988.2,1704.3L989.2,1704.2L990.2,1705.3L991.2,1707.8L992.2,1714.2L993.2,1724.0L994.2,1738.0L995.2,1754.0L996.2,1772.7L997.2,1794.4L998.2,1816.4L999.2,1839.0L1000.2,1863.5L1001.2,1888.7L1002.2,1912.3L1003.2,1934.1L1004.2,1954.0L1005.2,1974.5L1006.2,1997.0L1007.2,2020.1L1008.2,2042.0L1009.2,2061.1L1010.2,2075.8L1011.2,2086.7L1012.2,2096.1L1013.2,2103.6L1014.2,2109.2L1015.2,2113.7L1016.2,2117.2L1017.2,2119.0L1018.2,2119.9L1019.2,2120.2L1020.2,2118.3L1021.2,2114.6L1022.2,2110.3L1023.2,2104.0L1024.2,2095.8L1025.2,2087.0L1026.2,2078.4L1027.2,2069.0L1028.2,2059.5L1029.2,2050.6L1030.2,2042.4L1031.2,2034.5L1032.2,2027.2L1033.2,2020.5L1034.2,2014.8L1035.2,2009.8L1036.2,2005.2L1037.2,2000.9L1038.2,1996.6L1039.2,1992.5L1040.2,1988.5L1041.2,1984.6L1042.2,1980.7L1043.2,1976.7L1044.2,1972.7L1045.2,1968.7L1046.2,1964.7L1047.2,1960.7L1048.2,1956.6L1049.2,1952.5L1050.2,1948.5L1051.2,1944.7L1052.2,1940.8L1053.2,1936.9L1054.2,1933.5L1055.2,1931.1L1056.2,1929.1L1057.2,1927.6L1058.2,1926.9L1059.2,1926.5L1060.2,1926.4L1061.2,1927.1L1062.2,1928.6L1063.2,1930.5L1064.2,1934.5L1065.2,1940.3L1066.2,1946.8L1067.2,1955.0L1068.2,1964.5L1069.2,1974.8L1070.2,1985.4L1071.2,1997.2L1072.2,2009.4L1073.2,2020.8L1074.2,2031.5L1075.2,2041.7L1076.2,2051.3L1077.2,2060.3L1078.2,2068.8L1079.2,2076.4L1080.2,2082.7L1081.2,2088.4L1082.2,2092.8L1083.2,2095.6L1084.2,2097.7L1085.2,2098.3L1086.2,2098.3L1087.2,2097.1L1088.2,2093.3L1089.2,2088.4L1090.2,2082.1L1091.2,2073.0L1092.2,2062.5L1093.2,2051.7L1094.2,2039.7L1095.2,2026.4L1096.2,2013.7L1097.2,2002.3L1098.2,1991.5L1099.2,1981.5L1100.2,1973.2L1101.2,1966.1L1102.2,1960.1L1103.2,1955.7L1104.2,1952.3L1105.2,1950.1L1106.2,1949.0L1107.2,1948.4L1108.2,1948.8L1109.2,1950.5L1110.2,1952.9L1111.2,1956.7L1112.2,1962.9L1113.2,1970.7L1114.2,1979.7L1115.2,1991.5L1116.2,2005.1L1117.2,2019.2L1118.2,2034.2L1119.2,2050.3L1120.2,2066.9L1121.2,2083.4L1122.2,2099.6L1123.2,2116.0L1124.2,2132.4L1125.2,2148.1L1126.2,2162.9L1127.2,2177.1L1128.2,2190.6L1129.2,2202.9L1130.2,2214.2L1131.2,2224.8L1132.2,2233.5L1133.2,2240.7L1134.2,2246.2L1135.2,2248.4L1136.2,2249.4L1137.2,2249.1L1138.2,2245.6L1139.2,2240.0L1140.2,2233.1L1141.2,2222.3L1142.2,2208.9L1143.2,2193.9L1144.2,2175.5L1145.2,2154.5L1146.2,2132.7L1147.2,2110.4L1148.2,2086.9L1149.2,2063.0L1150.2,2039.8L1151.2,2017.7L1152.2,1995.3L1153.2,1971.3L1154.2,1945.3L1155.2,1919.2L1156.2,1894.5L1157.2,1875.1L1158.2,1858.9L1159.2,1844.9L1160.2,1834.4L1161.2,1827.5L1162.2,1822.4L1163.2,1818.2L1164.2,1815.9L1165.2,1814.8L1166.2,1814.9L1167.2,1816.7L1168.2,1820.4L1169.2,1828.2L1170.2,1838.4L1171.2,1852.0L1172.2,1868.1L1173.2,1886.6L1174.2,1906.6L1175.2,1926.4L1176.2,1944.5L1177.2,1960.7L1178.2,1974.2L1179.2,1992.1L1180.2,2015.3L1181.2,2040.0L1182.2,2063.4L1183.2,2087.2L1184.2,2110.7L1185.2,2133.1L1186.2,2154.8L1187.2,2175.8L1188.2,2196.0L1189.2,2215.4L1190.2,2234.3L1191.2,2251.9L1192.2,2267.9L1193.2,2282.8L1194.2,2293.9L1195.2,2301.9L1196.2,2306.2L1197.2,2307.4L1198.2,2306.4L1199.2,2300.9L1200.2,2294.0L1201.2,2285.2L1202.2,2274.5L1203.2,2263.4L1204.2,2252.7L1205.2,2241.3L1206.2,2230.2L1207.2,2220.3L1208.2,2211.7L1209.2,2203.8L1210.2,2196.8L1211.2,2191.0L1212.2,2185.7L1213.2,2181.6L1214.2,2179.2L1215.2,2177.6L1216.2,2177.5L1217.2,2179.1L1218.2,2181.7L1219.2,2185.3L1220.2,2191.7L1221.2,2199.6L1222.2,2207.4L1223.2,2215.5L1224.2,2224.1L1225.2,2232.6L1226.2,2241.2L1227.2,2250.1L1228.2,2258.4L1229.2,2265.5L1230.2,2272.0L1231.2,2277.4L1232.2,2280.7L1233.2,2283.1L1234.2,2284.1L1235.2,2283.9L1236.2,2283.2L1237.2,2279.0L1238.2,2272.2L1239.2,2264.5L1240.2,2254.1L1241.2,2242.3L1242.2,2230.6L1243.2,2219.4L1244.2,2207.8L1245.2,2197.0L1246.2,2188.0L1247.2,2179.8L1248.2,2173.1L1249.2,2168.5L1250.2,2165.1L1251.2,2162.6L1252.2,2161.3L1253.2,2160.5L1254.2,2160.5L1255.2,2162.2L1256.2,2165.2L1257.2,2169.2L1258.2,2176.3L1259.2,2185.8L1260.2,2196.0L1261.2,2208.0L1262.2,2221.8L1263.2,2236.4L1264.2,2251.2L1265.2,2267.0L1266.2,2283.4L1267.2,2299.9L1268.2,2316.1L1269.2,2332.9L1270.2,2349.8L1271.2,2365.9L1272.2,2380.1L1273.2,2392.4L1274.2,2403.6L1275.2,2414.0L1276.2,2423.6L1277.2,2432.7L1278.2,2441.5L1279.2,2448.9L1280.2,2454.3L1281.2,2458.8L1282.2,2460.7L1283.2,2461.2L1284.2,2460.1L1285.2,2456.3L1286.2,2451.5L1287.2,2445.4L1288.2,2437.0L1289.2,2427.6L1290.2,2418.0L1291.2,2407.7L1292.2,2396.7L1293.2,2385.6L1294.2,2374.9L1295.2,2364.3L1296.2,2353.5L1297.2,2343.2L1298.2,2334.1L1299.2,2326.6L1300.2,2319.9L1301.2,2314.0L1302.2,2308.5L1303.2,2303.6L1304.2,2299.2L1305.2,2295.1L1306.2,2291.4L1307.2,2287.7L1308.2,2284.2L1309.2,2280.9L1310.2,2277.8L1311.2,2274.4L1312.2,2270.9L1313.2,2267.2L1314.2,2263.4L1315.2,2259.2L1316.2,2254.7L1317.2,2249.4L1318.2,2243.5L1319.2,2237.2L1320.2,2230.8L1321.2,2224.3L1322.2,2217.6L1323.2,2210.7L1324.2,2204.0L1325.2,2197.6L1326.2,2191.3L1327.2,2185.2L1328.2,2179.9L1329.2,2175.6L1330.2,2171.7L1331.2,2168.9L1332.2,2167.1L1333.2,2165.8L1334.2,2165.6L1335.2,2165.6L1336.2,2167.0L1337.2,2170.4L1338.2,2174.8L1339.2,2181.4L1340.2,2190.6L1341.2,2200.9L1342.2,2213.2L1343.2,2227.3L1344.2,2242.3L1345.2,2257.2L1346.2,2272.9L1347.2,2289.1L1348.2,2305.0L1349.2,2320.1L1350.2,2335.0L1351.2,2349.4L1352.2,2362.6L1353.2,2373.9L1354.2,2384.1L1355.2,2393.4L1356.2,2401.5L1357.2,2408.8L1358.2,2415.7L1359.2,2420.8L1360.2,2423.7L1361.2,2425.7L1362.2,2426.1L1363.2,2425.3L1364.2,2422.3L1365.2,2417.3L1366.2,2411.1L1367.2,2402.3L1368.2,2390.9L1369.2,2378.0L1370.2,2364.1L1371.2,2347.8L1372.2,2330.0L1373.2,2311.3L1374.2,2291.6L1375.2,2270.3L1376.2,2248.2L1377.2,2226.2L1378.2,2204.9L1379.2,2184.0L1380.2,2163.1L1381.2,2141.6L1382.2,2119.1L1383.2,2095.0L1384.2,2069.7L1385.2,2043.8L1386.2,2018.0L1387.2,1993.1L1388.2,1969.7L1389.2,1947.5L1390.2,1923.5L1391.2,1898.1L1392.2,1874.6L1393.2,1852.4L1394.2,1831.5L1395.2,1812.2L1396.2,1794.8L1397.2,1780.0L1398.2,1767.9L1399.2,1757.7L1400.2,1749.5L1401.2,1742.6L1402.2,1736.9L1403.2,1731.6L1404.2,1728.5L1405.2,1727.1L1406.2,1726.4L1407.2,1727.0L1408.2,1729.4L1409.2,1733.0L1410.2,1738.9L1411.2,1748.4L1412.2,1759.2L1413.2,1770.7L1414.2,1783.9L1415.2,1797.8L1416.2,1812.2L1417.2,1827.2L1418.2,1842.7L1419.2,1858.4L1420.2,1874.5L1421.2,1890.6L1422.2,1906.7L1423.2,1922.8L1424.2,1938.7L1425.2,1954.0L1426.2,1969.0L1427.2,1983.7L1428.2,1998.0L1429.2,2011.9L1430.2,2025.8L1431.2,2039.8L1432.2,2053.8L1433.2,2067.8L1434.2,2081.9L1435.2,2096.0L1436.2,2109.8L1437.2,2123.0L1438.2,2135.9L1439.2,2148.8L1440.2,2161.8L1441.2,2174.8L1442.2,2187.8L1443.2,2200.9L1444.2,2214.0L1445.2,2226.8L1446.2,2239.1L1447.2,2251.1L1448.2,2262.8L1449.2,2274.3L1450.2,2285.5L1451.2,2295.8L1452.2,2305.6L1453.2,2314.1L1454.2,2320.0L1455.2,2324.4L1456.2,2326.3L1457.2,2327.0L1458.2,2324.6L1459.2,2319.8L1460.2,2312.0L1461.2,2300.8L1462.2,2288.7L1463.2,2274.8L1464.2,2260.1L1465.2,2245.4L1466.2,2230.2L1467.2,2215.1L1468.2,2200.5L1469.2,2186.0L1470.2,2172.3L1471.2,2159.8L1472.2,2147.8L1473.2,2137.5L1474.2,2129.6L1475.2,2123.0L1476.2,2117.7L1477.2,2114.1L1478.2,2111.2L1479.2,2109.2L1480.2,2108.1L1481.2,2107.4L1482.2,2107.3L1483.2,2108.2L1484.2,2110.0L1485.2,2112.4L1486.2,2116.8L1487.2,2123.0L1488.2,2129.9L1489.2,2138.3L1490.2,2147.9L1491.2,2157.6L1492.2,2167.5L1493.2,2177.9L1494.2,2188.8L1495.2,2200.2L1496.2,2211.9L1497.2,2224.1L1498.2,2236.9L1499.2,2250.3L1500.2,2264.0L1501.2,2277.5L1502.2,2291.0L1503.2,2304.5L1504.2,2318.0L1505.2,2331.2L1506.2,2344.0L1507.2,2356.6L1508.2,2369.0L1509.2,2380.8L1510.2,2391.9L1511.2,2402.2L1512.2,2412.0L1513.2,2421.3L1514.2,2429.9L1515.2,2437.7L1516.2,2444.9L1517.2,2451.7L1518.2,2457.9L1519.2,2463.6L1520.2,2468.9L1521.2,2473.8L1522.2,2478.3L1523.2,2482.4L1524.2,2486.4L1525.2,2490.3L1526.2,2493.9L1527.2,2496.8L1528.2,2499.1L1529.2,2500.8L1530.2,2502.3L1531.2,2503.7L1532.2,2504.9L1533.2,2506.3L1534.2,2507.8L1535.2,2507.8L1536.2,2507.8L1537.2,2507.8L1538.2,2507.8L1539.2,2507.8L1540.2,2507.8L1541.2,2507.8L1542.2,2507.8L1543.2,2507.8L1544.2,2507.8L1545.2,2507.8L1546.2,2507.8L1547.2,2507.8L1548.2,2507.8L1549.2,2507.8L1550.2,2507.8L1551.2,2507.8L1552.2,2507.8L1553.2,2507.8L1554.2,2507.8L1555.2,2507.8L1556.2,2507.8L1557.2,2507.5L1558.2,2505.6L1559.2,2503.9L1560.2,2502.3L1561.2,2500.5L1562.2,2498.4L1563.2,2496.0L1564.2,2492.9L1565.2,2489.2L1566.2,2485.1L1567.2,2480.9L1568.2,2476.5L1569.2,2471.5L1570.2,2466.0L1571.2,2460.1L1572.2,2453.9L1573.2,2446.9L1574.2,2439.3L1575.2,2431.6L1576.2,2424.1L1577.2,2416.8L1578.2,2409.5L1579.2,2402.2L1580.2,2394.8L1581.2,2387.3L1582.2,2379.6L1583.2,2372.0L1584.2,2364.9L1585.2,2358.0L1586.2,2351.4L1587.2,2345.9L1588.2,2341.2L1589.2,2337.3L1590.2,2334.7L1591.2,2332.7L1592.2,2331.6L1593.2,2331.2L1594.2,2331.0L1595.2,2331.6L1596.2,2333.2L1597.2,2335.4L1598.2,2338.5L1599.2,2342.8L1600.2,2347.5L1601.2,2352.3L1602.2,2357.5L1603.2,2362.6L1604.2,2367.3L1605.2,2371.8L1606.2,2375.8L1607.2,2378.7L1608.2,2380.9L1609.2,2382.2L1610.2,2382.7L1611.2,2382.7L1612.2,2380.8L1613.2,2377.4L1614.2,2373.7L1615.2,2368.5L1616.2,2362.4L1617.2,2356.9L1618.2,2351.8L1619.2,2346.8L1620.2,2342.4L1621.2,2338.9L1622.2,2335.9L1623.2,2333.5L1624.2,2332.0L1625.2,2331.0L1626.2,2330.4L1627.2,2330.2L1628.2,2330.1L1629.2,2331.0L1630.2,2332.6L1631.2,2334.8L1632.2,2339.3L1633.2,2345.5L1634.2,2352.2L1635.2,2359.7L1636.2,2368.3L1637.2,2377.2L1638.2,2386.1L1639.2,2395.5L1640.2,2404.9L1641.2,2414.1L1642.2,2422.8L1643.2,2431.4L1644.2,2439.6L1645.2,2447.2L1646.2,2454.4L1647.2,2461.2L1648.2,2467.3L1649.2,2472.7L1650.2,2477.6L1651.2,2482.0L1652.2,2486.5L1653.2,2490.6L1654.2,2494.5L1655.2,2497.8L1656.2,2500.3L1657.2,2502.0L1658.2,2503.4L1659.2,2504.7L1660.2,2506.0L1661.2,2507.8L1662.2,2507.8L1663.2,2507.8L1664.2,2507.8L1665.2,2507.8L1666.2,2507.8L1667.2,2507.8L1668.2,2507.8L1669.2,2507.8L1670.2,2507.8L1671.2,2507.8L1672.2,2507.8L1673.2,2507.8L1674.2,2507.8L1675.2,2507.8L1676.2,2507.8L1677.2,2507.8L1678.2,2507.8L1679.2,2507.8L1680.2,2507.8L1681.2,2507.8L1682.2,2507.8L1683.2,2507.8L1684.2,2507.8L1685.2,2507.8L1686.2,2507.8L1687.2,2507.8L1688.2,2507.8L1689.2,2507.8L1690.2,2507.8L1691.2,2507.8L1692.2,2507.8L1693.2,2507.8L1694.2,2507.8L1695.2,2507.8L1696.2,2507.8L1697.2,2507.8L1698.2,2507.8L1699.2,2507.8L1700.2,2507.8L1701.2,2507.8L1702.2,2507.8L1703.2,2507.8L1704.2,2507.8L1705.2,2507.8L1706.2,2507.8L1707.2,2507.8L1708.2,2507.8L1709.2,2507.8L1710.2,2507.8L1711.2,2507.8L1712.2,2507.8L1713.2,2507.8L1714.2,2507.8L1715.2,2507.8L1716.2,2507.8L1717.2,2507.8L1718.2,2507.8L1719.2,2507.8L1720.2,2507.8L1721.2,2507.8L1722.2,2507.8L1723.2,2507.8L1724.2,2507.8L1725.2,2507.8L1726.2,2507.8L1727.2,2507.8L1728.2,2507.8L1729.2,2507.8L1730.2,2507.8L1731.2,2507.8L1732.2,2507.8L1733.2,2507.8L1734.2,2507.8L1735.2,2507.8L1736.2,2507.8L1737.2,2507.8L1738.2,2507.8L1739.2,2507.8L1740.2,2507.8L1741.2,2507.8L1742.2,2507.8L1743.2,2507.8L1744.2,2507.8L1745.2,2507.8L1746.2,2507.8L1747.2,2507.8L1748.2,2507.8L1749.2,2507.8L1750.2,2507.8L1751.2,2507.8L1752.2,2507.8L1753.2,2507.8L1754.2,2507.8L1755.2,2507.8L1756.2,2507.8L1757.2,2507.8L1758.2,2507.8L1759.2,2507.8L1760.2,2507.8L1761.2,2507.8L1762.2,2507.8L1763.2,2507.8L1764.2,2507.8L1765.2,2507.8L1766.2,2507.8L1767.2,2507.8L1768.2,2507.8L1769.2,2507.8L1770.2,2507.8L1771.2,2507.8L1772.2,2507.8L1773.2,2507.8L1774.2,2507.8L1775.2,2507.8L1776.2,2507.8L1777.2,2507.8L1778.2,2507.8L1779.2,2507.8L1780.2,2507.8L1781.2,2507.8L1782.2,2507.8L1783.2,2507.8L1784.2,2507.8L1785.2,2507.8L1786.2,2507.8L1787.2,2507.8L1788.2,2507.8L1789.2,2507.8L1790.2,2507.8L1791.2,2507.8L1792.2,2507.8L1793.2,2507.8L1794.2,2507.8L1795.2,2507.8L1796.2,2507.8L1797.2,2507.8L1798.2,2507.8L1799.2,2507.1L1800.2,2505.2L1801.2,2503.3L1802.2,2501.4L1803.2,2499.4L1804.2,2497.1L1805.2,2494.4L1806.2,2491.3L1807.2,2487.3L1808.2,2482.7L1809.2,2478.2L1810.2,2473.3L1811.2,2467.5L1812.2,2460.9L1813.2,2453.7L1814.2,2446.4L1815.2,2439.0L1816.2,2431.2L1817.2,2423.2L1818.2,2414.8L1819.2,2406.1L1820.2,2396.6L1821.2,2386.9L1822.2,2377.9L1823.2,2370.1L1824.2,2363.0L1825.2,2356.5L1826.2,2350.8L1827.2,2345.5L1828.2,2340.9L1829.2,2337.8L1830.2,2335.7L1831.2,2334.0L1832.2,2333.2L1833.2,2332.6L1834.2,2332.5L1835.2,2333.4L1836.2,2335.3L1837.2,2337.6L1838.2,2341.3L1839.2,2346.3L1840.2,2351.9L1841.2,2358.4L1842.2,2366.0L1843.2,2374.1L1844.2,2382.6L1845.2,2391.7L1846.2,2401.2L1847.2,2410.6L1848.2,2420.0L1849.2,2429.6L1850.2,2438.8L1851.2,2447.0L1852.2,2454.6L1853.2,2461.6L1854.2,2468.1L1855.2,2474.0L1856.2,2479.7L1857.2,2485.0L1858.2,2489.6L1859.2,2493.1L1860.2,2496.2L1861.2,2498.7L1862.2,2500.8L1863.2,2502.4L1864.2,2503.7L1865.2,2504.7L1866.2,2505.7L1867.2,2506.8L1868.2,2507.8L1869.2,2507.8L1870.2,2507.8L1871.2,2507.8L1872.2,2507.8L1873.2,2507.8L1874.2,2507.8L1875.2,2507.8L1876.2,2507.8L1877.2,2507.8L1878.2,2507.8L1879.2,2507.8L1880.2,2507.8L1881.2,2507.8L1882.2,2507.8L1883.2,2507.8L1884.2,2507.8L1885.2,2507.8L1886.2,2507.8L1887.2,2507.8L1888.2,2507.8L1889.2,2507.8L1890.2,2507.8L1891.2,2507.8L1892.2,2507.8L1893.2,2507.8L1894.2,2507.8L1895.2,2507.8L1896.2,2507.8L1897.2,2507.8L1898.2,2507.8L1899.2,2507.8L1900.2,2507.8L1901.2,2507.8L1902.2,2507.8L1903.2,2507.8L1904.2,2507.8L1905.2,2507.8L1906.2,2507.8L1907.2,2507.8L1908.2,2507.7L1909.2,2506.2L1910.2,2504.6L1911.2,2502.9L1912.2,2500.7L1913.2,2497.8L1914.2,2494.4L1915.2,2490.6L1916.2,2486.2L1917.2,2481.0L1918.2,2475.4L1919.2,2469.3L1920.2,2462.6L1921.2,2454.6L1922.2,2445.7L1923.2,2436.3L1924.2,2427.1L1925.2,2418.0L1926.2,2408.6L1927.2,2399.2L1928.2,2389.8L1929.2,2380.3L1930.2,2370.7L1931.2,2361.1L1932.2,2351.9L1933.2,2343.4L1934.2,2335.3L1935.2,2327.6L1936.2,2320.4L1937.2,2314.1L1938.2,2308.6L1939.2,2303.7L1940.2,2299.2L1941.2,2295.0L1942.2,2290.9L1943.2,2286.8L1944.2,2283.2L1945.2,2280.6L1946.2,2278.7L1947.2,2277.1L1948.2,2276.2L1949.2,2275.7L1950.2,2275.4L1951.2,2275.4L1952.2,2275.7L1953.2,2276.2L1954.2,2276.8L1955.2,2277.7L1956.2,2279.3L1957.2,2281.3L1958.2,2283.6L1959.2,2286.5L1960.2,2290.0L1961.2,2294.1L1962.2,2298.6L1963.2,2304.1L1964.2,2310.3L1965.2,2316.8L1966.2,2323.8L1967.2,2331.3L1968.2,2339.3L1969.2,2348.0L1970.2,2357.7L1971.2,2368.1L1972.2,2378.3L1973.2,2387.9L1974.2,2397.3L1975.2,2406.5L1976.2,2415.4L1977.2,2424.1L1978.2,2432.6L1979.2,2440.8L1980.2,2448.4L1981.2,2455.8L1982.2,2462.8L1983.2,2469.3L1984.2,2475.1L1985.2,2480.7L1986.2,2486.0L1987.2,2490.4L1988.2,2493.8L1989.2,2496.7L1990.2,2499.2L1991.2,2501.2L1992.2,2502.7L1993.2,2503.9L1994.2,2504.9L1995.2,2505.9L1996.2,2507.0L1997.2,2507.8L1998.2,2507.8L1999.2,2507.8L2000.2,2507.8L2001.2,2507.8L2002.2,2507.8L2003.2,2507.8L2004.2,2507.8L2005.2,2507.8L2006.2,2507.8L2007.2,2507.8L2008.2,2507.8L2009.2,2507.8L2010.2,2507.8L2011.2,2507.8L2012.2,2507.8L2013.2,2507.8L2014.2,2507.8L2015.2,2507.8L2016.2,2507.8L2017.2,2507.8L2018.2,2507.7L2019.2,2506.3L2020.2,2504.7L2021.2,2503.0L2022.2,2500.5L2023.2,2497.0L2024.2,2492.9L2025.2,2488.2L2026.2,2482.5L2027.2,2476.5L2028.2,2469.7L2029.2,2462.2L2030.2,2453.5L2031.2,2443.9L2032.2,2433.6L2033.2,2422.5L2034.2,2410.2L2035.2,2396.8L2036.2,2382.7L2037.2,2368.2L2038.2,2353.2L2039.2,2337.3L2040.2,2321.0L2041.2,2304.4L2042.2,2287.6L2043.2,2270.1L2044.2,2252.5L2045.2,2235.0L2046.2,2218.1L2047.2,2201.6L2048.2,2185.4L2049.2,2169.5L2050.2,2154.2L2051.2,2139.3L2052.2,2124.6L2053.2,2110.5L2054.2,2097.3L2055.2,2085.1L2056.2,2073.4L2057.2,2062.5L2058.2,2052.4L2059.2,2043.2L2060.2,2034.9L2061.2,2027.2L2062.2,2020.1L2063.2,2013.7L2064.2,2007.8L2065.2,2002.4L2066.2,1997.6L2067.2,1993.6L2068.2,1990.1L2069.2,1987.3L2070.2,1985.4L2071.2,1984.2L2072.2,1983.9L2073.2,1983.8L2074.2,1984.2L2075.2,1985.3L2076.2,1986.7L2077.2,1988.9L2078.2,1992.4L2079.2,1996.8L2080.2,2002.0L2081.2,2008.4L2082.2,2016.0L2083.2,2024.4L2084.2,2034.5L2085.2,2046.3L2086.2,2059.1L2087.2,2072.5L2088.2,2087.1L2089.2,2102.5L2090.2,2118.4L2091.2,2134.7L2092.2,2151.5L2093.2,2168.8L2094.2,2186.4L2095.2,2204.6L2096.2,2223.3L2097.2,2241.6L2098.2,2259.6L2099.2,2277.6L2100.2,2294.5L2101.2,2309.3L2102.2,2322.6L2103.2,2335.0L2104.2,2347.1L2105.2,2358.8L2106.2,2368.4L2107.2,2376.6L2108.2,2381.4L2109.2,2383.6L2110.2,2382.5L2111.2,2378.9L2112.2,2374.7L2113.2,2369.1L2114.2,2364.0L2115.2,2360.7L2116.2,2358.0L2117.2,2356.1L2118.2,2355.9L2119.2,2355.9L2119.2,2507.8Z" fill="#000000"/>
<path d="M216.2,2333.9L217.2,2333.9L218.2,2333.9L219.2,2333.9L220.2,2333.9L221.2,2334.4L222.2,2336.3L223.2,2339.1L224.2,2343.0L225.2,2349.1L226.2,2356.3L227.2,2364.1L228.2,2373.3L229.2,2383.2L230.2,2393.2L231.2,2402.7L232.2,2412.5L233.2,2422.2L234.2,2431.5L235.2,2439.9L236.2,2447.4L237.2,2454.6L238.2,2461.2L239.2,2466.9L240.2,2471.9L241.2,2476.3L242.2,2480.2L243.2,2483.9L244.2,2487.7L245.2,2491.3L246.2,2494.7L247.2,2497.6L248.2,2499.8L249.2,2501.4L250.2,2502.7L251.2,2503.8L252.2,2504.6L253.2,2505.3L254.2,2505.8L255.2,2506.0L256.2,2505.6L257.2,2504.8L258.2,2503.7L259.2,2502.3L260.2,2499.8L261.2,2496.5L262.2,2492.8L263.2,2488.9L264.2,2484.5L265.2,2479.8L266.2,2474.8L267.2,2469.3L268.2,2463.2L269.2,2456.1L270.2,2448.5L271.2,2440.5L272.2,2432.5L273.2,2424.0L274.2,2415.2L275.2,2406.3L276.2,2397.6L277.2,2388.7L278.2,2379.6L279.2,2370.8L280.2,2362.6L281.2,2355.0L282.2,2347.6L283.2,2340.7L284.2,2334.6L285.2,2329.6L286.2,2325.1L287.2,2321.3L288.2,2318.3L289.2,2316.0L290.2,2314.1L291.2,2312.9L292.2,2312.4L293.2,2312.1L294.2,2312.0L295.2,2312.2L296.2,2312.8L297.2,2313.5L298.2,2314.1L299.2,2314.6L300.2,2315.1L301.2,2315.5L302.2,2315.8L303.2,2315.6L304.2,2315.0L305.2,2314.1L306.2,2313.2L307.2,2312.0L308.2,2310.7L309.2,2309.5L310.2,2308.7L311.2,2308.1L312.2,2307.5L313.2,2307.1L314.2,2307.0L315.2,2307.2L316.2,2307.8L317.2,2308.6L318.2,2309.7L319.2,2311.7L320.2,2314.3L321.2,2317.0L322.2,2319.8L323.2,2323.0L324.2,2326.2L325.2,2329.3L326.2,2332.2L327.2,2335.1L328.2,2337.4L329.2,2338.7L330.2,2339.7L331.2,2340.3L332.2,2340.2L333.2,2339.1L334.2,2337.3L335.2,2335.5L336.2,2333.4L337.2,2330.8L338.2,2328.3L339.2,2326.3L340.2,2324.7L341.2,2323.4L342.2,2322.7L343.2,2322.3L344.2,2322.2L345.2,2322.7L346.2,2323.9L347.2,2325.5L348.2,2327.4L349.2,2330.6L350.2,2335.1L351.2,2340.3L352.2,2346.1L353.2,2353.3L354.2,2361.4L355.2,2369.4L356.2,2377.4L357.2,2385.6L358.2,2393.7L359.2,2401.6L360.2,2409.1L361.2,2416.7L362.2,2423.8L363.2,2429.8L364.2,2434.8L365.2,2439.2L366.2,2442.1L367.2,2443.7L368.2,2444.6L369.2,2443.9L370.2,2442.0L371.2,2439.4L372.2,2435.9L373.2,2430.8L374.2,2424.6L375.2,2417.8L376.2,2409.5L377.2,2399.8L378.2,2390.0L379.2,2380.9L380.2,2371.8L381.2,2362.8L382.2,2354.4L383.2,2346.8L384.2,2339.8L385.2,2333.2L386.2,2327.6L387.2,2323.4L388.2,2319.8L389.2,2316.9L390.2,2315.0L391.2,2313.9L392.2,2313.1L393.2,2312.8L394.2,2313.0L395.2,2313.3L396.2,2313.7L397.2,2314.3L398.2,2315.3L399.2,2316.5L400.2,2317.6L401.2,2318.3L402.2,2318.9L403.2,2319.3L404.2,2319.0L405.2,2318.0L406.2,2316.6L407.2,2314.6L408.2,2311.3L409.2,2307.9L410.2,2304.6L411.2,2301.1L412.2,2297.6L413.2,2294.4L414.2,2291.6L415.2,2288.9L416.2,2286.5L417.2,2284.3L418.2,2282.5L419.2,2280.9L420.2,2279.6L421.2,2278.3L422.2,2277.2L423.2,2276.1L424.2,2275.1L425.2,2274.1L426.2,2273.2L427.2,2272.1L428.2,2270.9L429.2,2269.6L430.2,2268.3L431.2,2266.7L432.2,2264.8L433.2,2262.7L434.2,2260.3L435.2,2257.6L436.2,2254.7L437.2,2251.4L438.2,2247.8L439.2,2243.8L440.2,2239.6L441.2,2234.8L442.2,2229.6L443.2,2224.0L444.2,2218.2L445.2,2212.2L446.2,2205.7L447.2,2198.9L448.2,2192.0L449.2,2184.9L450.2,2177.3L451.2,2169.5L452.2,2162.2L453.2,2155.3L454.2,2148.7L455.2,2142.7L456.2,2137.3L457.2,2132.4L458.2,2129.0L459.2,2126.9L460.2,2125.6L461.2,2125.9L462.2,2128.0L463.2,2131.0L464.2,2135.3L465.2,2142.2L466.2,2150.7L467.2,2160.5L468.2,2172.5L469.2,2185.9L470.2,2200.9L471.2,2218.0L472.2,2235.5L473.2,2252.0L474.2,2268.5L475.2,2284.6L476.2,2299.1L477.2,2311.3L478.2,2322.3L479.2,2331.3L480.2,2338.0L481.2,2343.5L482.2,2346.1L483.2,2347.1L484.2,2345.9L485.2,2342.2L486.2,2337.3L487.2,2331.0L488.2,2322.1L489.2,2311.5L490.2,2299.9L491.2,2285.2L492.2,2269.0L493.2,2253.7L494.2,2240.2L495.2,2227.4L496.2,2215.3L497.2,2204.4L498.2,2194.4L499.2,2185.3L500.2,2177.8L501.2,2171.1L502.2,2166.2L503.2,2163.6L504.2,2162.1L505.2,2162.6L506.2,2164.8L507.2,2167.9L508.2,2172.6L509.2,2180.2L510.2,2189.5L511.2,2199.5L512.2,2211.4L513.2,2225.0L514.2,2239.2L515.2,2253.2L516.2,2268.2L517.2,2283.5L518.2,2298.3L519.2,2312.0L520.2,2324.7L521.2,2336.7L522.2,2347.6L523.2,2357.3L524.2,2366.7L525.2,2373.6L526.2,2376.8L527.2,2378.4L528.2,2377.2L529.2,2373.7L530.2,2369.1L531.2,2362.2L532.2,2352.0L533.2,2340.2L534.2,2328.0L535.2,2314.0L536.2,2298.7L537.2,2283.1L538.2,2268.3L539.2,2253.8L540.2,2239.3L541.2,2225.7L542.2,2213.6L543.2,2202.0L544.2,2191.4L545.2,2183.2L546.2,2177.4L547.2,2172.6L548.2,2169.6L549.2,2168.3L550.2,2167.7L551.2,2168.3L552.2,2170.6L553.2,2173.9L554.2,2178.8L555.2,2186.5L556.2,2195.8L557.2,2205.9L558.2,2217.9L559.2,2231.4L560.2,2245.5L561.2,2259.8L562.2,2274.9L563.2,2290.6L564.2,2306.7L565.2,2322.9L566.2,2339.5L567.2,2356.8L568.2,2373.8L569.2,2389.2L570.2,2402.6L571.2,2415.1L572.2,2426.3L573.2,2436.0L574.2,2444.3L575.2,2451.6L576.2,2457.0L577.2,2461.0L578.2,2463.8L579.2,2464.8L580.2,2465.0L581.2,2463.1L582.2,2459.6L583.2,2455.7L584.2,2450.6L585.2,2444.0L586.2,2435.6L587.2,2422.3L588.2,2402.2L589.2,2382.0L590.2,2365.3L591.2,2349.3L592.2,2333.7L593.2,2318.0L594.2,2301.7L595.2,2284.9L596.2,2268.0L597.2,2251.2L598.2,2235.0L599.2,2219.1L600.2,2203.5L601.2,2188.3L602.2,2173.5L603.2,2159.3L604.2,2145.2L605.2,2131.7L606.2,2119.0L607.2,2107.4L608.2,2096.5L609.2,2086.5L610.2,2077.6L611.2,2069.4L612.2,2062.1L613.2,2056.2L614.2,2051.6L615.2,2047.9L616.2,2045.6L617.2,2044.4L618.2,2043.5L619.2,2043.2L620.2,2043.9L621.2,2045.4L622.2,2047.3L623.2,2050.4L624.2,2054.7L625.2,2059.9L626.2,2066.8L627.2,2075.3L628.2,2084.9L629.2,2095.3L630.2,2107.4L631.2,2121.0L632.2,2135.3L633.2,2149.7L634.2,2164.5L635.2,2179.9L636.2,2195.6L637.2,2211.1L638.2,2226.2L639.2,2241.1L640.2,2255.9L641.2,2270.4L642.2,2284.5L643.2,2298.5L644.2,2312.4L645.2,2325.7L646.2,2337.9L647.2,2349.2L648.2,2359.7L649.2,2369.4L650.2,2378.1L651.2,2386.2L652.2,2393.5L653.2,2398.8L654.2,2402.8L655.2,2405.4L656.2,2406.1L657.2,2406.5L658.2,2405.7L659.2,2402.4L660.2,2397.9L661.2,2390.3L662.2,2379.3L663.2,2367.1L664.2,2353.3L665.2,2337.6L666.2,2321.1L667.2,2304.7L668.2,2287.5L669.2,2269.9L670.2,2253.1L671.2,2238.0L672.2,2223.6L673.2,2210.3L674.2,2198.9L675.2,2188.9L676.2,2180.2L677.2,2173.8L678.2,2169.3L679.2,2166.1L680.2,2164.1L681.2,2162.7L682.2,2163.2L683.2,2165.7L684.2,2169.2L685.2,2174.2L686.2,2182.3L687.2,2192.0L688.2,2203.1L689.2,2216.6L690.2,2231.5L691.2,2246.9L692.2,2263.1L693.2,2280.4L694.2,2298.1L695.2,2315.6L696.2,2333.0L697.2,2350.8L698.2,2367.7L699.2,2382.9L700.2,2396.6L701.2,2409.3L702.2,2420.8L703.2,2430.9L704.2,2440.0L705.2,2448.2L706.2,2455.7L707.2,2462.6L708.2,2468.9L709.2,2474.0L710.2,2478.0L711.2,2481.1L712.2,2482.2L713.2,2482.6L714.2,2481.0L715.2,2477.7L716.2,2473.7L717.2,2468.3L718.2,2461.4L719.2,2453.7L720.2,2445.6L721.2,2436.5L722.2,2426.9L723.2,2417.3L724.2,2407.8L725.2,2398.0L726.2,2388.4L727.2,2379.8L728.2,2372.2L729.2,2365.1L730.2,2358.7L731.2,2353.2L732.2,2348.5L733.2,2344.3L734.2,2340.8L735.2,2338.1L736.2,2335.9L737.2,2334.2L738.2,2333.2L739.2,2332.4L740.2,2332.2L741.2,2332.4L742.2,2333.0L743.2,2334.6L744.2,2336.8L745.2,2339.4L746.2,2342.9L747.2,2347.3L748.2,2352.1L749.2,2356.8L750.2,2361.7L751.2,2366.7L752.2,2371.5L753.2,2376.1L754.2,2381.0L755.2,2384.6L756.2,2385.8L757.2,2386.4L758.2,2386.4L759.2,2383.5L760.2,2378.4L761.2,2372.5L762.2,2364.1L763.2,2353.5L764.2,2341.4L765.2,2327.7L766.2,2311.2L767.2,2293.2L768.2,2274.4L769.2,2253.5L770.2,2231.6L771.2,2211.0L772.2,2192.4L773.2,2174.6L774.2,2158.0L775.2,2143.1L776.2,2129.8L777.2,2117.8L778.2,2107.5L779.2,2098.3L780.2,2090.2L781.2,2084.1L782.2,2079.4L783.2,2075.6L784.2,2072.7L785.2,2070.2L786.2,2068.3L787.2,2067.2L788.2,2066.5L789.2,2066.4L790.2,2067.3L791.2,2069.1L792.2,2071.3L793.2,2075.2L794.2,2080.2L795.2,2085.7L796.2,2090.8L797.2,2096.3L798.2,2101.9L799.2,2107.3L800.2,2112.1L801.2,2116.7L802.2,2121.1L803.2,2125.1L804.2,2128.3L805.2,2131.1L806.2,2133.5L807.2,2134.8L808.2,2134.7L809.2,2134.4L810.2,2133.0L811.2,2129.7L812.2,2125.3L813.2,2119.7L814.2,2112.1L815.2,2103.0L816.2,2093.4L817.2,2082.3L818.2,2069.8L819.2,2056.6L820.2,2043.9L821.2,2030.9L822.2,2018.0L823.2,2006.0L824.2,1995.5L825.2,1985.7L826.2,1976.9L827.2,1969.3L828.2,1962.5L829.2,1956.6L830.2,1952.2L831.2,1948.4L832.2,1945.6L833.2,1944.2L834.2,1943.4L835.2,1943.1L836.2,1943.8L837.2,1945.5L838.2,1947.7L839.2,1951.5L840.2,1957.0L841.2,1963.2L842.2,1970.7L843.2,1979.3L844.2,1988.4L845.2,1997.3L846.2,2006.6L847.2,2016.0L848.2,2025.2L849.2,2034.2L850.2,2043.3L851.2,2052.1L852.2,2060.4L853.2,2068.0L854.2,2075.0L855.2,2081.6L856.2,2088.0L857.2,2094.3L858.2,2100.4L859.2,2106.2L860.2,2112.0L861.2,2118.1L862.2,2124.9L863.2,2132.3L864.2,2140.0L865.2,2147.4L866.2,2154.3L867.2,2161.0L868.2,2167.3L869.2,2173.1L870.2,2178.2L871.2,2183.1L872.2,2187.4L873.2,2190.4L874.2,2192.5L875.2,2194.2L876.2,2194.9L877.2,2194.6L878.2,2193.9L879.2,2190.1L880.2,2184.0L881.2,2176.7L882.2,2166.7L883.2,2155.5L884.2,2143.9L885.2,2131.1L886.2,2118.2L887.2,2106.5L888.2,2096.0L889.2,2086.0L890.2,2077.5L891.2,2071.0L892.2,2065.6L893.2,2061.0L894.2,2057.6L895.2,2054.9L896.2,2052.8L897.2,2051.4L898.2,2050.8L899.2,2050.6L900.2,2051.7L901.2,2053.9L902.2,2056.7L903.2,2061.4L904.2,2067.9L905.2,2074.7L906.2,2081.8L907.2,2089.8L908.2,2097.6L909.2,2104.2L910.2,2110.1L911.2,2115.2L912.2,2118.8L913.2,2121.3L914.2,2122.6L915.2,2122.2L916.2,2121.3L917.2,2116.5L918.2,2108.8L919.2,2100.6L920.2,2090.5L921.2,2079.1L922.2,2067.1L923.2,2054.6L924.2,2041.0L925.2,2027.2L926.2,2014.3L927.2,2001.8L928.2,1989.8L929.2,1979.1L930.2,1969.7L931.2,1961.3L932.2,1954.3L933.2,1948.6L934.2,1943.7L935.2,1940.4L936.2,1938.4L937.2,1936.8L938.2,1935.4L939.2,1934.3L940.2,1933.7L941.2,1933.6L942.2,1933.8L943.2,1934.2L944.2,1934.5L945.2,1934.7L946.2,1934.6L947.2,1933.9L948.2,1932.7L949.2,1929.7L950.2,1924.5L951.2,1919.7L952.2,1914.6L953.2,1909.0L954.2,1902.7L955.2,1897.1L956.2,1892.0L957.2,1887.3L958.2,1883.1L959.2,1879.2L960.2,1875.7L961.2,1872.6L962.2,1869.7L963.2,1867.3L964.2,1865.0L965.2,1862.8L966.2,1860.6L967.2,1858.6L968.2,1856.1L969.2,1852.3L970.2,1846.6L971.2,1840.0L972.2,1832.4L973.2,1823.6L974.2,1813.3L975.2,1801.8L976.2,1790.0L977.2,1777.7L978.2,1766.3L979.2,1756.0L980.2,1746.5L981.2,1737.9L982.2,1730.2L983.2,1723.3L984.2,1717.1L985.2,1712.2L986.2,1708.0L987.2,1705.3L988.2,1704.3L989.2,1704.2L990.2,1705.3L991.2,1707.8L992.2,1714.2L993.2,1724.0L994.2,1738.0L995.2,1754.0L996.2,1772.7L997.2,1794.4L998.2,1816.4L999.2,1839.0L1000.2,1863.5L1001.2,1888.7L1002.2,1912.3L1003.2,1934.1L1004.2,1954.0L1005.2,1974.5L1006.2,1997.0L1007.2,2020.1L1008.2,2042.0L1009.2,2061.1L1010.2,2075.8L1011.2,2086.7L1012.2,2096.1L1013.2,2103.6L1014.2,2109.2L1015.2,2113.7L1016.2,2117.2L1017.2,2119.0L1018.2,2119.9L1019.2,2120.2L1020.2,2118.3L1021.2,2114.6L1022.2,2110.3L1023.2,2104.0L1024.2,2095.8L1025.2,2087.0L1026.2,2078.4L1027.2,2069.0L1028.2,2059.5L1029.2,2050.6L1030.2,2042.4L1031.2,2034.5L1032.2,2027.2L1033.2,2020.5L1034.2,2014.8L1035.2,2009.8L1036.2,2005.2L1037.2,2000.9L1038.2,1996.6L1039.2,1992.5L1040.2,1988.5L1041.2,1984.6L1042.2,1980.7L1043.2,1976.7L1044.2,1972.7L1045.2,1968.7L1046.2,1964.7L1047.2,1960.7L1048.2,1956.6L1049.2,1952.5L1050.2,1948.5L1051.2,1944.7L1052.2,1940.8L1053.2,1936.9L1054.2,1933.5L1055.2,1931.1L1056.2,1929.1L1057.2,1927.6L1058.2,1926.9L1059.2,1926.5L1060.2,1926.4L1061.2,1927.1L1062.2,1928.6L1063.2,1930.5L1064.2,1934.5L1065.2,1940.3L1066.2,1946.8L1067.2,1955.0L1068.2,1964.5L1069.2,1974.8L1070.2,1985.4L1071.2,1997.2L1072.2,2009.4L1073.2,2020.8L1074.2,2031.5L1075.2,2041.7L1076.2,2051.3L1077.2,2060.3L1078.2,2068.8L1079.2,2076.4L1080.2,2082.7L1081.2,2088.4L1082.2,2092.8L1083.2,2095.6L1084.2,2097.7L1085.2,2098.3L1086.2,2098.3L1087.2,2097.1L1088.2,2093.3L1089.2,2088.4L1090.2,2082.1L1091.2,2073.0L1092.2,2062.5L1093.2,2051.7L1094.2,2039.7L1095.2,2026.4L1096.2,2013.7L1097.2,2002.3L1098.2,1991.5L1099.2,1981.5L1100.2,1973.2L1101.2,1966.1L1102.2,1960.1L1103.2,1955.7L1104.2,1952.3L1105.2,1950.1L1106.2,1949.0L1107.2,1948.4L1108.2,1948.8L1109.2,1950.5L1110.2,1952.9L1111.2,1956.7L1112.2,1962.9L1113.2,1970.7L1114.2,1979.7L1115.2,1991.5L1116.2,2005.1L1117.2,2019.2L1118.2,2034.2L1119.2,2050.3L1120.2,2066.9L1121.2,2083.4L1122.2,2099.6L1123.2,2116.0L1124.2,2132.4L1125.2,2148.1L1126.2,2162.9L1127.2,2177.1L1128.2,2190.6L1129.2,2202.9L1130.2,2214.2L1131.2,2224.8L1132.2,2233.5L1133.2,2240.7L1134.2,2246.2L1135.2,2248.4L1136.2,2249.4L1137.2,2249.1L1138.2,2245.6L1139.2,2240.0L1140.2,2233.1L1141.2,2222.3L1142.2,2208.9L1143.2,2193.9L1144.2,2175.5L1145.2,2154.5L1146.2,2132.7L1147.2,2110.4L1148.2,2086.9L1149.2,2063.0L1150.2,2039.8L1151.2,2017.7L1152.2,1995.3L1153.2,1971.3L1154.2,1945.3L1155.2,1919.2L1156.2,1894.5L1157.2,1875.1L1158.2,1858.9L1159.2,1844.9L1160.2,1834.4L1161.2,1827.5L1162.2,1822.4L1163.2,1818.2L1164.2,1815.9L1165.2,1814.8L1166.2,1814.9L1167.2,1816.7L1168.2,1820.4L1169.2,1828.2L1170.2,1838.4L1171.2,1852.0L1172.2,1868.1L1173.2,1886.6L1174.2,1906.6L1175.2,1926.4L1176.2,1944.5L1177.2,1960.7L1178.2,1974.2L1179.2,1992.1L1180.2,2015.3L1181.2,2040.0L1182.2,2063.4L1183.2,2087.2L1184.2,2110.7L1185.2,2133.1L1186.2,2154.8L1187.2,2175.8L1188.2,2196.0L1189.2,2215.4L1190.2,2234.3L1191.2,2251.9L1192.2,2267.9L1193.2,2282.8L1194.2,2293.9L1195.2,2301.9L1196.2,2306.2L1197.2,2307.4L1198.2,2306.4L1199.2,2300.9L1200.2,2294.0L1201.2,2285.2L1202.2,2274.5L1203.2,2263.4L1204.2,2252.7L1205.2,2241.3L1206.2,2230.2L1207.2,2220.3L1208.2,2211.7L1209.2,2203.8L1210.2,2196.8L1211.2,2191.0L1212.2,2185.7L1213.2,2181.6L1214.2,2179.2L1215.2,2177.6L1216.2,2177.5L1217.2,2179.1L1218.2,2181.7L1219.2,2185.3L1220.2,2191.7L1221.2,2199.6L1222.2,2207.4L1223.2,2215.5L1224.2,2224.1L1225.2,2232.6L1226.2,2241.2L1227.2,2250.1L1228.2,2258.4L1229.2,2265.5L1230.2,2272.0L1231.2,2277.4L1232.2,2280.7L1233.2,2283.1L1234.2,2284.1L1235.2,2283.9L1236.2,2283.2L1237.2,2279.0L1238.2,2272.2L1239.2,2264.5L1240.2,2254.1L1241.2,2242.3L1242.2,2230.6L1243.2,2219.4L1244.2,2207.8L1245.2,2197.0L1246.2,2188.0L1247.2,2179.8L1248.2,2173.1L1249.2,2168.5L1250.2,2165.1L1251.2,2162.6L1252.2,2161.3L1253.2,2160.5L1254.2,2160.5L1255.2,2162.2L1256.2,2165.2L1257.2,2169.2L1258.2,2176.3L1259.2,2185.8L1260.2,2196.0L1261.2,2208.0L1262.2,2221.8L1263.2,2236.4L1264.2,2251.2L1265.2,2267.0L1266.2,2283.4L1267.2,2299.9L1268.2,2316.1L1269.2,2332.9L1270.2,2349.8L1271.2,2365.9L1272.2,2380.1L1273.2,2392.4L1274.2,2403.6L1275.2,2414.0L1276.2,2423.6L1277.2,2432.7L1278.2,2441.5L1279.2,2448.9L1280.2,2454.3L1281.2,2458.8L1282.2,2460.7L1283.2,2461.2L1284.2,2460.1L1285.2,2456.3L1286.2,2451.5L1287.2,2445.4L1288.2,2437.0L1289.2,2427.6L1290.2,2418.0L1291.2,2407.7L1292.2,2396.7L1293.2,2385.6L1294.2,2374.9L1295.2,2364.3L1296.2,2353.5L1297.2,2343.2L1298.2,2334.1L1299.2,2326.6L1300.2,2319.9L1301.2,2314.0L1302.2,2308.5L1303.2,2303.6L1304.2,2299.2L1305.2,2295.1L1306.2,2291.4L1307.2,2287.7L1308.2,2284.2L1309.2,2280.9L1310.2,2277.8L1311.2,2274.4L1312.2,2270.9L1313.2,2267.2L1314.2,2263.4L1315.2,2259.2L1316.2,2254.7L1317.2,2249.4L1318.2,2243.5L1319.2,2237.2L1320.2,2230.8L1321.2,2224.3L1322.2,2217.6L1323.2,2210.7L1324.2,2204.0L1325.2,2197.6L1326.2,2191.3L1327.2,2185.2L1328.2,2179.9L1329.2,2175.6L1330.2,2171.7L1331.2,2168.9L1332.2,2167.1L1333.2,2165.8L1334.2,2165.6L1335.2,2165.6L1336.2,2167.0L1337.2,2170.4L1338.2,2174.8L1339.2,2181.4L1340.2,2190.6L1341.2,2200.9L1342.2,2213.2L1343.2,2227.3L1344.2,2242.3L1345.2,2257.2L1346.2,2272.9L1347.2,2289.1L1348.2,2305.0L1349.2,2320.1L1350.2,2335.0L1351.2,2349.4L1352.2,2362.6L1353.2,2373.9L1354.2,2384.1L1355.2,2393.4L1356.2,2401.5L1357.2,2408.8L1358.2,2415.7L1359.2,2420.8L1360.2,2423.7L1361.2,2425.7L1362.2,2426.1L1363.2,2425.3L1364.2,2422.3L1365.2,2417.3L1366.2,2411.1L1367.2,2402.3L1368.2,2390.9L1369.2,2378.0L1370.2,2364.1L1371.2,2347.8L1372.2,2330.0L1373.2,2311.3L1374.2,2291.6L1375.2,2270.3L1376.2,2248.2L1377.2,2226.2L1378.2,2204.9L1379.2,2184.0L1380.2,2163.1L1381.2,2141.6L1382.2,2119.1L1383.2,2095.0L1384.2,2069.7L1385.2,2043.8L1386.2,2018.0L1387.2,1993.1L1388.2,1969.7L1389.2,1947.5L1390.2,1923.5L1391.2,1898.1L1392.2,1874.6L1393.2,1852.4L1394.2,1831.5L1395.2,1812.2L1396.2,1794.8L1397.2,1780.0L1398.2,1767.9L1399.2,1757.7L1400.2,1749.5L1401.2,1742.6L1402.2,1736.9L1403.2,1731.6L1404.2,1728.5L1405.2,1727.1L1406.2,1726.4L1407.2,1727.0L1408.2,1729.4L1409.2,1733.0L1410.2,1738.9L1411.2,1748.4L1412.2,1759.2L1413.2,1770.7L1414.2,1783.9L1415.2,1797.8L1416.2,1812.2L1417.2,1827.2L1418.2,1842.7L1419.2,1858.4L1420.2,1874.5L1421.2,1890.6L1422.2,1906.7L1423.2,1922.8L1424.2,1938.7L1425.2,1954.0L1426.2,1969.0L1427.2,1983.7L1428.2,1998.0L1429.2,2011.9L1430.2,2025.8L1431.2,2039.8L1432.2,2053.8L1433.2,2067.8L1434.2,2081.9L1435.2,2096.0L1436.2,2109.8L1437.2,2123.0L1438.2,2135.9L1439.2,2148.8L1440.2,2161.8L1441.2,2174.8L1442.2,2187.8L1443.2,2200.9L1444.2,2214.0L1445.2,2226.8L1446.2,2239.1L1447.2,2251.1L1448.2,2262.8L1449.2,2274.3L1450.2,2285.5L1451.2,2295.8L1452.2,2305.6L1453.2,2314.1L1454.2,2320.0L1455.2,2324.4L1456.2,2326.3L1457.2,2327.0L1458.2,2324.6L1459.2,2319.8L1460.2,2312.0L1461.2,2300.8L1462.2,2288.7L1463.2,2274.8L1464.2,2260.1L1465.2,2245.4L1466.2,2230.2L1467.2,2215.1L1468.2,2200.5L1469.2,2186.0L1470.2,2172.3L1471.2,2159.8L1472.2,2147.8L1473.2,2137.5L1474.2,2129.6L1475.2,2123.0L1476.2,2117.7L1477.2,2114.1L1478.2,2111.2L1479.2,2109.2L1480.2,2108.1L1481.2,2107.4L1482.2,2107.3L1483.2,2108.2L1484.2,2110.0L1485.2,2112.4L1486.2,2116.8L1487.2,2123.0L1488.2,2129.9L1489.2,2138.3L1490.2,2147.9L1491.2,2157.6L1492.2,2167.5L1493.2,2177.9L1494.2,2188.8L1495.2,2200.2L1496.2,2211.9L1497.2,2224.1L1498.2,2236.9L1499.2,2250.3L1500.2,2264.0L1501.2,2277.5L1502.2,2291.0L1503.2,2304.5L1504.2,2318.0L1505.2,2331.2L1506.2,2344.0L1507.2,2356.6L1508.2,2369.0L1509.2,2380.8L1510.2,2391.9L1511.2,2402.2L1512.2,2412.0L1513.2,2421.3L1514.2,2429.9L1515.2,2437.7L1516.2,2444.9L1517.2,2451.7L1518.2,2457.9L1519.2,2463.6L1520.2,2468.9L1521.2,2473.8L1522.2,2478.3L1523.2,2482.4L1524.2,2486.4L1525.2,2490.3L1526.2,2493.9L1527.2,2496.8L1528.2,2499.1L1529.2,2500.8L1530.2,2502.3L1531.2,2503.7L1532.2,2504.9L1533.2,2506.3L1534.2,2507.8M1557.2,2507.5L1558.2,2505.6L1559.2,2503.9L1560.2,2502.3L1561.2,2500.5L1562.2,2498.4L1563.2,2496.0L1564.2,2492.9L1565.2,2489.2L1566.2,2485.1L1567.2,2480.9L1568.2,2476.5L1569.2,2471.5L1570.2,2466.0L1571.2,2460.1L1572.2,2453.9L1573.2,2446.9L1574.2,2439.3L1575.2,2431.6L1576.2,2424.1L1577.2,2416.8L1578.2,2409.5L1579.2,2402.2L1580.2,2394.8L1581.2,2387.3L1582.2,2379.6L1583.2,2372.0L1584.2,2364.9L1585.2,2358.0L1586.2,2351.4L1587.2,2345.9L1588.2,2341.2L1589.2,2337.3L1590.2,2334.7L1591.2,2332.7L1592.2,2331.6L1593.2,2331.2L1594.2,2331.0L1595.2,2331.6L1596.2,2333.2L1597.2,2335.4L1598.2,2338.5L1599.2,2342.8L1600.2,2347.5L1601.2,2352.3L1602.2,2357.5L1603.2,2362.6L1604.2,2367.3L1605.2,2371.8L1606.2,2375.8L1607.2,2378.7L1608.2,2380.9L1609.2,2382.2L1610.2,2382.7L1611.2,2382.7L1612.2,2380.8L1613.2,2377.4L1614.2,2373.7L1615.2,2368.5L1616.2,2362.4L1617.2,2356.9L1618.2,2351.8L1619.2,2346.8L1620.2,2342.4L1621.2,2338.9L1622.2,2335.9L1623.2,2333.5L1624.2,2332.0L1625.2,2331.0L1626.2,2330.4L1627.2,2330.2L1628.2,2330.1L1629.2,2331.0L1630.2,2332.6L1631.2,2334.8L1632.2,2339.3L1633.2,2345.5L1634.2,2352.2L1635.2,2359.7L1636.2,2368.3L1637.2,2377.2L1638.2,2386.1L1639.2,2395.5L1640.2,2404.9L1641.2,2414.1L1642.2,2422.8L1643.2,2431.4L1644.2,2439.6L1645.2,2447.2L1646.2,2454.4L1647.2,2461.2L1648.2,2467.3L1649.2,2472.7L1650.2,2477.6L1651.2,2482.0L1652.2,2486.5L1653.2,2490.6L1654.2,2494.5L1655.2,2497.8L1656.2,2500.3L1657.2,2502.0L1658.2,2503.4L1659.2,2504.7L1660.2,2506.0L1661.2,2507.8M1798.2,2507.8L1799.2,2507.1L1800.2,2505.2L1801.2,2503.3L1802.2,2501.4L1803.2,2499.4L1804.2,2497.1L1805.2,2494.4L1806.2,2491.3L1807.2,2487.3L1808.2,2482.7L1809.2,2478.2L1810.2,2473.3L1811.2,2467.5L1812.2,2460.9L1813.2,2453.7L1814.2,2446.4L1815.2,2439.0L1816.2,2431.2L1817.2,2423.2L1818.2,2414.8L1819.2,2406.1L1820.2,2396.6L1821.2,2386.9L1822.2,2377.9L1823.2,2370.1L1824.2,2363.0L1825.2,2356.5L1826.2,2350.8L1827.2,2345.5L1828.2,2340.9L1829.2,2337.8L1830.2,2335.7L1831.2,2334.0L1832.2,2333.2L1833.2,2332.6L1834.2,2332.5L1835.2,2333.4L1836.2,2335.3L1837.2,2337.6L1838.2,2341.3L1839.2,2346.3L1840.2,2351.9L1841.2,2358.4L1842.2,2366.0L1843.2,2374.1L1844.2,2382.6L1845.2,2391.7L1846.2,2401.2L1847.2,2410.6L1848.2,2420.0L1849.2,2429.6L1850.2,2438.8L1851.2,2447.0L1852.2,2454.6L1853.2,2461.6L1854.2,2468.1L1855.2,2474.0L1856.2,2479.7L1857.2,2485.0L1858.2,2489.6L1859.2,2493.1L1860.2,2496.2L1861.2,2498.7L1862.2,2500.8L1863.2,2502.4L1864.2,2503.7L1865.2,2504.7L1866.2,2505.7L1867.2,2506.8L1868.2,2507.8M1908.2,2507.7L1909.2,2506.2L1910.2,2504.6L1911.2,2502.9L1912.2,2500.7L1913.2,2497.8L1914.2,2494.4L1915.2,2490.6L1916.2,2486.2L1917.2,2481.0L1918.2,2475.4L1919.2,2469.3L1920.2,2462.6L1921.2,2454.6L1922.2,2445.7L1923.2,2436.3L1924.2,2427.1L1925.2,2418.0L1926.2,2408.6L1927.2,2399.2L1928.2,2389.8L1929.2,2380.3L1930.2,2370.7L1931.2,2361.1L1932.2,2351.9L1933.2,2343.4L1934.2,2335.3L1935.2,2327.6L1936.2,2320.4L1937.2,2314.1L1938.2,2308.6L1939.2,2303.7L1940.2,2299.2L1941.2,2295.0L1942.2,2290.9L1943.2,2286.8L1944.2,2283.2L1945.2,2280.6L1946.2,2278.7L1947.2,2277.1L1948.2,2276.2L1949.2,2275.7L1950.2,2275.4L1951.2,2275.4L1952.2,2275.7L1953.2,2276.2L1954.2,2276.8L1955.2,2277.7L1956.2,2279.3L1957.2,2281.3L1958.2,2283.6L1959.2,2286.5L1960.2,2290.0L1961.2,2294.1L1962.2,2298.6L1963.2,2304.1L1964.2,2310.3L1965.2,2316.8L1966.2,2323.8L1967.2,2331.3L1968.2,2339.3L1969.2,2348.0L1970.2,2357.7L1971.2,2368.1L1972.2,2378.3L1973.2,2387.9L1974.2,2397.3L1975.2,2406.5L1976.2,2415.4L1977.2,2424.1L1978.2,2432.6L1979.2,2440.8L1980.2,2448.4L1981.2,2455.8L1982.2,2462.8L1983.2,2469.3L1984.2,2475.1L1985.2,2480.7L1986.2,2486.0L1987.2,2490.4L1988.2,2493.8L1989.2,2496.7L1990.2,2499.2L1991.2,2501.2L1992.2,2502.7L1993.2,2503.9L1994.2,2504.9L1995.2,2505.9L1996.2,2507.0L1997.2,2507.8M2018.2,2507.7L2019.2,2506.3L2020.2,2504.7L2021.2,2503.0L2022.2,2500.5L2023.2,2497.0L2024.2,2492.9L2025.2,2488.2L2026.2,2482.5L2027.2,2476.5L2028.2,2469.7L2029.2,2462.2L2030.2,2453.5L2031.2,2443.9L2032.2,2433.6L2033.2,2422.5L2034.2,2410.2L2035.2,2396.8L2036.2,2382.7L2037.2,2368.2L2038.2,2353.2L2039.2,2337.3L2040.2,2321.0L2041.2,2304.4L2042.2,2287.6L2043.2,2270.1L2044.2,2252.5L2045.2,2235.0L2046.2,2218.1L2047.2,2201.6L2048.2,2185.4L2049.2,2169.5L2050.2,2154.2L2051.2,2139.3L2052.2,2124.6L2053.2,2110.5L2054.2,2097.3L2055.2,2085.1L2056.2,2073.4L2057.2,2062.5L2058.2,2052.4L2059.2,2043.2L2060.2,2034.9L2061.2,2027.2L2062.2,2020.1L2063.2,2013.7L2064.2,2007.8L2065.2,2002.4L2066.2,1997.6L2067.2,1993.6L2068.2,1990.1L2069.2,1987.3L2070.2,1985.4L2071.2,1984.2L2072.2,1983.9L2073.2,1983.8L2074.2,1984.2L2075.2,1985.3L2076.2,1986.7L2077.2,1988.9L2078.2,1992.4L2079.2,1996.8L2080.2,2002.0L2081.2,2008.4L2082.2,2016.0L2083.2,2024.4L2084.2,2034.5L2085.2,2046.3L2086.2,2059.1L2087.2,2072.5L2088.2,2087.1L2089.2,2102.5L2090.2,2118.4L2091.2,2134.7L2092.2,2151.5L2093.2,2168.8L2094.2,2186.4L2095.2,2204.6L2096.2,2223.3L2097.2,2241.6L2098.2,2259.6L2099.2,2277.6L2100.2,2294.5L2101.2,2309.3L2102.2,2322.6L2103.2,2335.0L2104.2,2347.1L2105.2,2358.8L2106.2,2368.4L2107.2,2376.6L2108.2,2381.4L2109.2,2383.6L2110.2,2382.5L2111.2,2378.9L2112.2,2374.7L2113.2,2369.1L2114.2,2364.0L2115.2,2360.7L2116.2,2358.0L2117.2,2356.1L2118.2,2355.9L2119.2,2355.9" fill="none" stroke="#000000" stroke-width="0.6" stroke-linejoin="round" stroke-linecap="butt"/>
<text transform="translate(168.4,796.0) scale(0.78,1)" font-family="'Liberation Sans', sans-serif" font-size="69" font-weight="normal" text-anchor="end" fill="#1c1c1c">0</text>
<text transform="translate(168.4,622.0) scale(0.78,1)" font-family="'Liberation Sans', sans-serif" font-size="69" font-weight="normal" text-anchor="end" fill="#1c1c1c">1</text>
<text transform="translate(168.4,448.0) scale(0.78,1)" font-family="'Liberation Sans', sans-serif" font-size="69" font-weight="normal" text-anchor="end" fill="#1c1c1c">2</text>
<text transform="translate(168.4,274.0) scale(0.78,1)" font-family="'Liberation Sans', sans-serif" font-size="69" font-weight="normal" text-anchor="end" fill="#1c1c1c">3</text>
<text transform="translate(168.4,100.0) scale(0.78,1)" font-family="'Liberation Sans', sans-serif" font-size="69" font-weight="normal" text-anchor="end" fill="#1c1c1c">4</text>
<text transform="translate(168.4,1236.5) scale(0.78,1)" font-family="'Liberation Sans', sans-serif" font-size="69" font-weight="normal" text-anchor="end" fill="#1c1c1c">0</text>
<text transform="translate(168.4,1063.3) scale(0.78,1)" font-family="'Liberation Sans', sans-serif" font-size="69" font-weight="normal" text-anchor="end" fill="#1c1c1c">1</text>
<text transform="translate(168.4,890.1) scale(0.78,1)" font-family="'Liberation Sans', sans-serif" font-size="69" font-weight="normal" text-anchor="end" fill="#1c1c1c">2</text>
<text transform="translate(168.4,1669.0) scale(0.78,1)" font-family="'Liberation Sans', sans-serif" font-size="69" font-weight="normal" text-anchor="end" fill="#1c1c1c">0</text>
<text transform="translate(168.4,1495.0) scale(0.78,1)" font-family="'Liberation Sans', sans-serif" font-size="69" font-weight="normal" text-anchor="end" fill="#1c1c1c">1</text>
<text transform="translate(168.4,1321.0) scale(0.78,1)" font-family="'Liberation Sans', sans-serif" font-size="69" font-weight="normal" text-anchor="end" fill="#1c1c1c">2</text>
<text transform="translate(168.4,2524.8) scale(0.78,1)" font-family="'Liberation Sans', sans-serif" font-size="69" font-weight="normal" text-anchor="end" fill="#1c1c1c">0</text>
<text transform="translate(168.4,2350.3) scale(0.78,1)" font-family="'Liberation Sans', sans-serif" font-size="69" font-weight="normal" text-anchor="end" fill="#1c1c1c">1</text>
<text transform="translate(168.4,2175.8) scale(0.78,1)" font-family="'Liberation Sans', sans-serif" font-size="69" font-weight="normal" text-anchor="end" fill="#1c1c1c">2</text>
<text transform="translate(168.4,2001.3) scale(0.78,1)" font-family="'Liberation Sans', sans-serif" font-size="69" font-weight="normal" text-anchor="end" fill="#1c1c1c">3</text>
<text transform="translate(168.4,1826.8) scale(0.78,1)" font-family="'Liberation Sans', sans-serif" font-size="69" font-weight="normal" text-anchor="end" fill="#1c1c1c">4</text>
<text transform="translate(213.7,2616.7) scale(0.78,1)" font-family="'Liberation Sans', sans-serif" font-size="69" font-weight="normal" text-anchor="middle" fill="#1c1c1c">-20</text>
<text transform="translate(308.9,2616.7) scale(0.78,1)" font-family="'Liberation Sans', sans-serif" font-size="69" font-weight="normal" text-anchor="middle" fill="#1c1c1c">-19</text>
<text transform="translate(404.1,2616.7) scale(0.78,1)" font-family="'Liberation Sans', sans-serif" font-size="69" font-weight="normal" text-anchor="middle" fill="#1c1c1c">-18</text>
<text transform="translate(499.2,2616.7) scale(0.78,1)" font-family="'Liberation Sans', sans-serif" font-size="69" font-weight="normal" text-anchor="middle" fill="#1c1c1c">-17</text>
<text transform="translate(594.4,2616.7) scale(0.78,1)" font-family="'Liberation Sans', sans-serif" font-size="69" font-weight="normal" text-anchor="middle" fill="#1c1c1c">-16</text>
<text transform="translate(689.6,2616.7) scale(0.78,1)" font-family="'Liberation Sans', sans-serif" font-size="69" font-weight="normal" text-anchor="middle" fill="#1c1c1c">-15</text>
<text transform="translate(784.8,2616.7) scale(0.78,1)" font-family="'Liberation Sans', sans-serif" font-size="69" font-weight="normal" text-anchor="middle" fill="#1c1c1c">-14</text>
<text transform="translate(880.0,2616.7) scale(0.78,1)" font-family="'Liberation Sans', sans-serif" font-size="69" font-weight="normal" text-anchor="middle" fill="#1c1c1c">-13</text>
<text transform="translate(975.1,2616.7) scale(0.78,1)" font-family="'Liberation Sans', sans-serif" font-size="69" font-weight="normal" text-anchor="middle" fill="#1c1c1c">-12</text>
<text transform="translate(1070.3,2616.7) scale(0.78,1)" font-family="'Liberation Sans', sans-serif" font-size="69" font-weight="normal" text-anchor="middle" fill="#1c1c1c">-11</text>
<text transform="translate(1165.5,2616.7) scale(0.78,1)" font-family="'Liberation Sans', sans-serif" font-size="69" font-weight="normal" text-anchor="middle" fill="#1c1c1c">-10</text>
<text transform="translate(1260.7,2616.7) scale(0.78,1)" font-family="'Liberation Sans', sans-serif" font-size="69" font-weight="normal" text-anchor="middle" fill="#1c1c1c">-9</text>
<text transform="translate(1355.9,2616.7) scale(0.78,1)" font-family="'Liberation Sans', sans-serif" font-size="69" font-weight="normal" text-anchor="middle" fill="#1c1c1c">-8</text>
<text transform="translate(1451.0,2616.7) scale(0.78,1)" font-family="'Liberation Sans', sans-serif" font-size="69" font-weight="normal" text-anchor="middle" fill="#1c1c1c">-7</text>
<text transform="translate(1546.2,2616.7) scale(0.78,1)" font-family="'Liberation Sans', sans-serif" font-size="69" font-weight="normal" text-anchor="middle" fill="#1c1c1c">-6</text>
<text transform="translate(1641.4,2616.7) scale(0.78,1)" font-family="'Liberation Sans', sans-serif" font-size="69" font-weight="normal" text-anchor="middle" fill="#1c1c1c">-5</text>
<text transform="translate(1736.6,2616.7) scale(0.78,1)" font-family="'Liberation Sans', sans-serif" font-size="69" font-weight="normal" text-anchor="middle" fill="#1c1c1c">-4</text>
<text transform="translate(1831.8,2616.7) scale(0.78,1)" font-family="'Liberation Sans', sans-serif" font-size="69" font-weight="normal" text-anchor="middle" fill="#1c1c1c">-3</text>
<text transform="translate(1926.9,2616.7) scale(0.78,1)" font-family="'Liberation Sans', sans-serif" font-size="69" font-weight="normal" text-anchor="middle" fill="#1c1c1c">-2</text>
<text transform="translate(2022.1,2616.7) scale(0.78,1)" font-family="'Liberation Sans', sans-serif" font-size="69" font-weight="normal" text-anchor="middle" fill="#1c1c1c">-1</text>
<text transform="translate(2117.3,2616.7) scale(0.78,1)" font-family="'Liberation Sans', sans-serif" font-size="69" font-weight="normal" text-anchor="middle" fill="#1c1c1c">0</text>
<text transform="translate(253.3,370.3) scale(0.81,1)" font-family="'Liberation Sans', sans-serif" font-size="84" font-weight="normal" text-anchor="start" fill="#7f7f7f">Carbon</text>
<text transform="translate(251.2,1071.8) scale(0.828,1)" font-family="'Liberation Sans', sans-serif" font-size="82.2" font-weight="normal" text-anchor="start" fill="#10109c">Nitrogen</text>
<text transform="translate(256.5,1535.6) scale(0.786,1)" font-family="'Liberation Sans', sans-serif" font-size="85.4" font-weight="normal" text-anchor="start" fill="#ff8512">Oxygen</text>
<text transform="translate(263.3,2128.2) scale(0.828,1)" font-family="'Liberation Sans', sans-serif" font-size="85.4" font-weight="normal" text-anchor="start" fill="#111111">Total</text>
<text transform="translate(986.0,2711.6) scale(0.893,1)" font-family="'Liberation Sans', sans-serif" font-size="76.5" font-weight="normal" text-anchor="start" fill="#111111">Energy (eV)</text>
<text transform="translate(97.2,1554.7) rotate(-90)" x="-1.7 60.9 119 165 177 204.5 249.7 280.2 320.5 348.8 390.5 437.5 465.8 507.2 566.5" font-family="'DejaVu Sans', sans-serif" font-weight="bold" font-size="66.7" text-anchor="start" fill="#000" stroke="#ffffff" stroke-width="0.9" paint-order="fill stroke">DOS (States/eV)</text>
</svg>
</body></html>
